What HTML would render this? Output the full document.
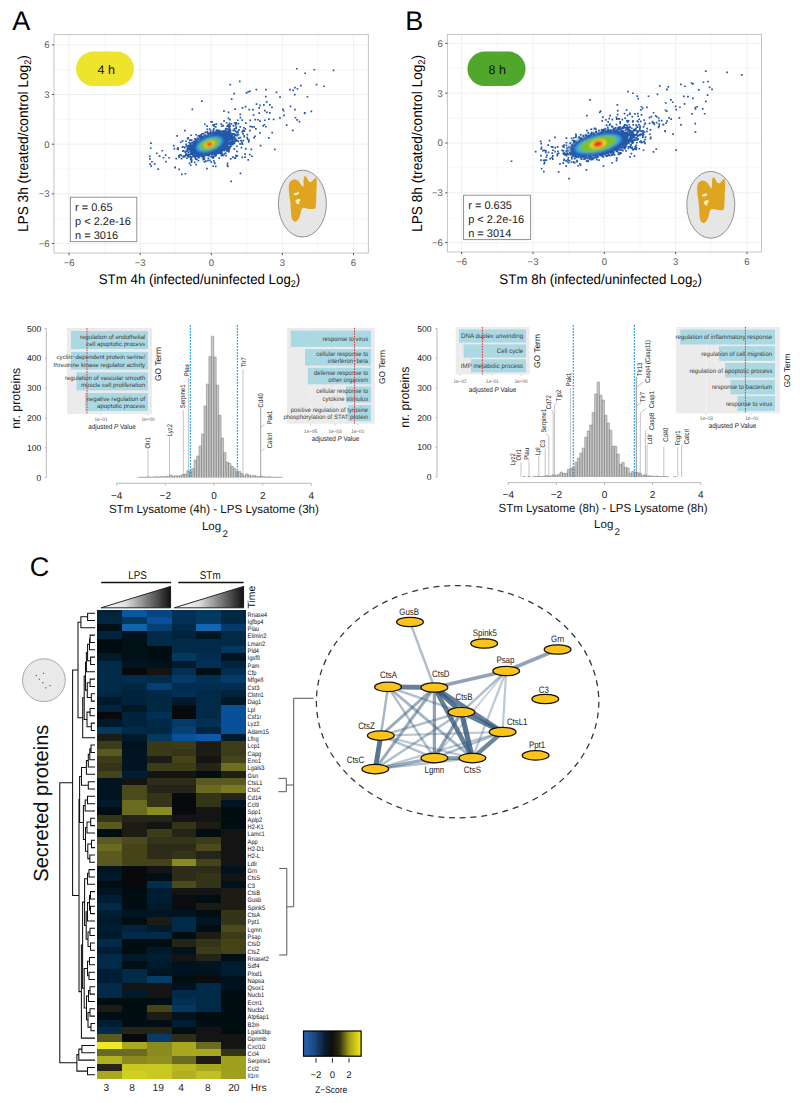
<!DOCTYPE html>
<html><head><meta charset="utf-8"><style>
html,body{margin:0;padding:0;background:#fff;}
svg{display:block;font-family:"Liberation Sans", sans-serif;text-rendering:geometricPrecision;}
</style></head><body>
<svg width="800" height="1103" viewBox="0 0 800 1103">
<rect width="800" height="1103" fill="#fff"/>
<text x="12.3" y="30" font-size="27">A</text>
<text x="405.2" y="30" font-size="27">B</text>
<text x="29.8" y="576" font-size="27">C</text>
<g>
<line x1="104.7" y1="34.6" x2="104.7" y2="253" stroke="#f4f4f4" stroke-width="0.7" />
<line x1="54" y1="218.7" x2="368.4" y2="218.7" stroke="#f4f4f4" stroke-width="0.7" />
<line x1="175.8" y1="34.6" x2="175.8" y2="253" stroke="#f4f4f4" stroke-width="0.7" />
<line x1="54" y1="169" x2="368.4" y2="169" stroke="#f4f4f4" stroke-width="0.7" />
<line x1="246.9" y1="34.6" x2="246.9" y2="253" stroke="#f4f4f4" stroke-width="0.7" />
<line x1="54" y1="119.4" x2="368.4" y2="119.4" stroke="#f4f4f4" stroke-width="0.7" />
<line x1="317.9" y1="34.6" x2="317.9" y2="253" stroke="#f4f4f4" stroke-width="0.7" />
<line x1="54" y1="69.7" x2="368.4" y2="69.7" stroke="#f4f4f4" stroke-width="0.7" />
<line x1="69.1" y1="34.6" x2="69.1" y2="253" stroke="#eeeeee" stroke-width="0.9" />
<line x1="54" y1="243.5" x2="368.4" y2="243.5" stroke="#eeeeee" stroke-width="0.9" />
<line x1="140.2" y1="34.6" x2="140.2" y2="253" stroke="#eeeeee" stroke-width="0.9" />
<line x1="54" y1="193.8" x2="368.4" y2="193.8" stroke="#eeeeee" stroke-width="0.9" />
<line x1="211.3" y1="34.6" x2="211.3" y2="253" stroke="#eeeeee" stroke-width="0.9" />
<line x1="54" y1="144.2" x2="368.4" y2="144.2" stroke="#eeeeee" stroke-width="0.9" />
<line x1="282.4" y1="34.6" x2="282.4" y2="253" stroke="#eeeeee" stroke-width="0.9" />
<line x1="54" y1="94.5" x2="368.4" y2="94.5" stroke="#eeeeee" stroke-width="0.9" />
<line x1="353.5" y1="34.6" x2="353.5" y2="253" stroke="#eeeeee" stroke-width="0.9" />
<line x1="54" y1="44.9" x2="368.4" y2="44.9" stroke="#eeeeee" stroke-width="0.9" />
<rect x="54" y="34.6" width="314.4" height="218.4" fill="none" stroke="#c4c4c4" stroke-width="1" />
<line x1="69.1" y1="253" x2="69.1" y2="255.2" stroke="#444" stroke-width="0.9" />
<line x1="51.8" y1="243.5" x2="54" y2="243.5" stroke="#444" stroke-width="0.9" />
<text x="69.1" y="265.6" font-size="9.5" text-anchor="middle" fill="#555">−6</text>
<text x="49.5" y="246.9" font-size="9.5" text-anchor="end" fill="#555">−6</text>
<line x1="140.2" y1="253" x2="140.2" y2="255.2" stroke="#444" stroke-width="0.9" />
<line x1="51.8" y1="193.8" x2="54" y2="193.8" stroke="#444" stroke-width="0.9" />
<text x="140.2" y="265.6" font-size="9.5" text-anchor="middle" fill="#555">−3</text>
<text x="49.5" y="197.2" font-size="9.5" text-anchor="end" fill="#555">−3</text>
<line x1="211.3" y1="253" x2="211.3" y2="255.2" stroke="#444" stroke-width="0.9" />
<line x1="51.8" y1="144.2" x2="54" y2="144.2" stroke="#444" stroke-width="0.9" />
<text x="211.3" y="265.6" font-size="9.5" text-anchor="middle" fill="#555">0</text>
<text x="49.5" y="147.6" font-size="9.5" text-anchor="end" fill="#555">0</text>
<line x1="282.4" y1="253" x2="282.4" y2="255.2" stroke="#444" stroke-width="0.9" />
<line x1="51.8" y1="94.5" x2="54" y2="94.5" stroke="#444" stroke-width="0.9" />
<text x="282.4" y="265.6" font-size="9.5" text-anchor="middle" fill="#555">3</text>
<text x="49.5" y="97.9" font-size="9.5" text-anchor="end" fill="#555">3</text>
<line x1="353.5" y1="253" x2="353.5" y2="255.2" stroke="#444" stroke-width="0.9" />
<line x1="51.8" y1="44.9" x2="54" y2="44.9" stroke="#444" stroke-width="0.9" />
<text x="353.5" y="265.6" font-size="9.5" text-anchor="middle" fill="#555">6</text>
<text x="49.5" y="48.3" font-size="9.5" text-anchor="end" fill="#555">6</text>
</g>
<g>
<line x1="497.3" y1="34.4" x2="497.3" y2="252" stroke="#f4f4f4" stroke-width="0.7" />
<line x1="447.4" y1="217.7" x2="761.5" y2="217.7" stroke="#f4f4f4" stroke-width="0.7" />
<line x1="568.6" y1="34.4" x2="568.6" y2="252" stroke="#f4f4f4" stroke-width="0.7" />
<line x1="447.4" y1="167.9" x2="761.5" y2="167.9" stroke="#f4f4f4" stroke-width="0.7" />
<line x1="640" y1="34.4" x2="640" y2="252" stroke="#f4f4f4" stroke-width="0.7" />
<line x1="447.4" y1="118.1" x2="761.5" y2="118.1" stroke="#f4f4f4" stroke-width="0.7" />
<line x1="711.3" y1="34.4" x2="711.3" y2="252" stroke="#f4f4f4" stroke-width="0.7" />
<line x1="447.4" y1="68.3" x2="761.5" y2="68.3" stroke="#f4f4f4" stroke-width="0.7" />
<line x1="461.6" y1="34.4" x2="461.6" y2="252" stroke="#eeeeee" stroke-width="0.9" />
<line x1="447.4" y1="242.6" x2="761.5" y2="242.6" stroke="#eeeeee" stroke-width="0.9" />
<line x1="533" y1="34.4" x2="533" y2="252" stroke="#eeeeee" stroke-width="0.9" />
<line x1="447.4" y1="192.8" x2="761.5" y2="192.8" stroke="#eeeeee" stroke-width="0.9" />
<line x1="604.3" y1="34.4" x2="604.3" y2="252" stroke="#eeeeee" stroke-width="0.9" />
<line x1="447.4" y1="143" x2="761.5" y2="143" stroke="#eeeeee" stroke-width="0.9" />
<line x1="675.6" y1="34.4" x2="675.6" y2="252" stroke="#eeeeee" stroke-width="0.9" />
<line x1="447.4" y1="93.2" x2="761.5" y2="93.2" stroke="#eeeeee" stroke-width="0.9" />
<line x1="747" y1="34.4" x2="747" y2="252" stroke="#eeeeee" stroke-width="0.9" />
<line x1="447.4" y1="43.4" x2="761.5" y2="43.4" stroke="#eeeeee" stroke-width="0.9" />
<rect x="447.4" y="34.4" width="314.1" height="217.6" fill="none" stroke="#c4c4c4" stroke-width="1" />
<line x1="461.6" y1="252" x2="461.6" y2="254.2" stroke="#444" stroke-width="0.9" />
<line x1="445.2" y1="242.6" x2="447.4" y2="242.6" stroke="#444" stroke-width="0.9" />
<text x="461.6" y="264.6" font-size="9.5" text-anchor="middle" fill="#555">−6</text>
<text x="442.9" y="246" font-size="9.5" text-anchor="end" fill="#555">−6</text>
<line x1="533" y1="252" x2="533" y2="254.2" stroke="#444" stroke-width="0.9" />
<line x1="445.2" y1="192.8" x2="447.4" y2="192.8" stroke="#444" stroke-width="0.9" />
<text x="533" y="264.6" font-size="9.5" text-anchor="middle" fill="#555">−3</text>
<text x="442.9" y="196.2" font-size="9.5" text-anchor="end" fill="#555">−3</text>
<line x1="604.3" y1="252" x2="604.3" y2="254.2" stroke="#444" stroke-width="0.9" />
<line x1="445.2" y1="143" x2="447.4" y2="143" stroke="#444" stroke-width="0.9" />
<text x="604.3" y="264.6" font-size="9.5" text-anchor="middle" fill="#555">0</text>
<text x="442.9" y="146.4" font-size="9.5" text-anchor="end" fill="#555">0</text>
<line x1="675.6" y1="252" x2="675.6" y2="254.2" stroke="#444" stroke-width="0.9" />
<line x1="445.2" y1="93.2" x2="447.4" y2="93.2" stroke="#444" stroke-width="0.9" />
<text x="675.6" y="264.6" font-size="9.5" text-anchor="middle" fill="#555">3</text>
<text x="442.9" y="96.6" font-size="9.5" text-anchor="end" fill="#555">3</text>
<line x1="747" y1="252" x2="747" y2="254.2" stroke="#444" stroke-width="0.9" />
<line x1="445.2" y1="43.4" x2="447.4" y2="43.4" stroke="#444" stroke-width="0.9" />
<text x="747" y="264.6" font-size="9.5" text-anchor="middle" fill="#555">6</text>
<text x="442.9" y="46.8" font-size="9.5" text-anchor="end" fill="#555">6</text>
</g>
<text x="199.5" y="284.3" font-size="14" text-anchor="middle" textLength="201.5" lengthAdjust="spacingAndGlyphs">STm 4h (infected/uninfected Log<tspan font-size="9.5" dy="3">2</tspan><tspan dy="-3">)</tspan></text>
<text x="600.6" y="283.5" font-size="14" text-anchor="middle" textLength="202.5" lengthAdjust="spacingAndGlyphs">STm 8h (infected/uninfected Log<tspan font-size="9.5" dy="3">2</tspan><tspan dy="-3">)</tspan></text>
<text x="27.8" y="143.6" font-size="14.4" text-anchor="middle" textLength="177" lengthAdjust="spacingAndGlyphs" transform="rotate(-90 27.8 143.6)">LPS 3h (treated/control Log<tspan font-size="9.8" dy="3">2</tspan><tspan dy="-3">)</tspan></text>
<text x="422.4" y="143.4" font-size="14.4" text-anchor="middle" textLength="177" lengthAdjust="spacingAndGlyphs" transform="rotate(-90 422.4 143.4)">LPS 8h (treated/control Log<tspan font-size="9.8" dy="3">2</tspan><tspan dy="-3">)</tspan></text>
<rect x="76" y="51.6" width="58" height="34.4" rx="17.2" fill="#ede42b"/>
<text x="106.2" y="74.4" font-size="12.5" text-anchor="middle" fill="#111">4 h</text>
<rect x="467.4" y="51.6" width="58.2" height="34.4" rx="17.2" fill="#50a72b"/>
<text x="497.2" y="74.4" font-size="12.5" text-anchor="middle" fill="#111">8 h</text>
<rect x="70.4" y="197.2" width="66.4" height="44.4" fill="#fff" stroke="#888" stroke-width="0.9" />
<text x="75" y="210.5" font-size="11" fill="#222">r = 0.65</text>
<text x="75" y="224.8" font-size="11" fill="#222">p &lt; 2.2e-16</text>
<text x="75" y="239.1" font-size="11" fill="#222">n = 3016</text>
<rect x="463.6" y="195.2" width="67" height="44.4" fill="#fff" stroke="#888" stroke-width="0.9" />
<text x="468.2" y="208.5" font-size="11" fill="#222">r = 0.635</text>
<text x="468.2" y="222.8" font-size="11" fill="#222">p &lt; 2.2e-16</text>
<text x="468.2" y="237.1" font-size="11" fill="#222">n = 3014</text>
<g><ellipse cx="302.4" cy="203.6" rx="24" ry="33.4" fill="#e6e6e6" stroke="#7a7a7a" stroke-width="0.8"/>
<path transform="translate(260 150) scale(0.15)" fill="#e0a520" d="M192 240 C194 215 205 200 225 196 C245 194 262 210 272 228 C278 238 286 246 291 244 C290 220 287 190 298 174 C308 170 315 192 322 205 C328 214 338 218 348 208 C356 198 366 186 374 184 C382 200 377 250 376 290 C374 330 376 370 368 390 C350 398 318 392 298 386 C282 384 276 392 272 415 C266 445 256 470 238 478 C220 480 210 460 208 430 C206 400 204 360 200 330 C195 300 190 270 192 240 Z"/>
<ellipse transform="translate(260 150) scale(0.15) rotate(-15 242 292)" cx="242" cy="292" rx="19" ry="8" fill="#fdf0c0"/>
<path transform="translate(260 150) scale(0.15)" fill="#fdf0c0" d="M238 335 C250 322 270 325 272 335 C262 338 258 348 262 362 C250 365 232 352 238 335 Z"/></g>
<g transform="translate(408.4 1.2)"><ellipse cx="302.4" cy="203.6" rx="24" ry="33.4" fill="#e6e6e6" stroke="#7a7a7a" stroke-width="0.8"/>
<path transform="translate(260 150) scale(0.15)" fill="#e0a520" d="M192 240 C194 215 205 200 225 196 C245 194 262 210 272 228 C278 238 286 246 291 244 C290 220 287 190 298 174 C308 170 315 192 322 205 C328 214 338 218 348 208 C356 198 366 186 374 184 C382 200 377 250 376 290 C374 330 376 370 368 390 C350 398 318 392 298 386 C282 384 276 392 272 415 C266 445 256 470 238 478 C220 480 210 460 208 430 C206 400 204 360 200 330 C195 300 190 270 192 240 Z"/>
<ellipse transform="translate(260 150) scale(0.15) rotate(-15 242 292)" cx="242" cy="292" rx="19" ry="8" fill="#fdf0c0"/>
<path transform="translate(260 150) scale(0.15)" fill="#fdf0c0" d="M238 335 C250 322 270 325 272 335 C262 338 258 348 262 362 C250 365 232 352 238 335 Z"/></g>
<defs><filter id="bl" x="-50%" y="-50%" width="200%" height="200%"><feGaussianBlur stdDeviation="0.9"/></filter><filter id="bl2" x="-50%" y="-50%" width="200%" height="200%"><feGaussianBlur stdDeviation="2.2"/></filter></defs>
<g filter="url(#bl2)"><ellipse cx="209.5" cy="144" rx="22" ry="9.5" fill="#2457a8" transform="rotate(-20 209.5 144)"/></g>
<path fill="#2457a8" d="M230.8 143.2h1.7v1.7h-1.7zm-45.8 7.2h1.7v1.7h-1.7zm5.3 1.7h1.7v1.7h-1.7zm15.8 15.7h1.7v1.7h-1.7zm37.4 -31.9h1.7v1.7h-1.7zm-36.6 -3.3h1.7v1.7h-1.7zm-3.1 19.1h1.7v1.7h-1.7zm16.2 -15.8h1.7v1.7h-1.7zm5.8 0.4h1.7v1.7h-1.7zm3.9 8.6h1.7v1.7h-1.7zm-36 9.9h1.7v1.7h-1.7zm25.5 -9.1h1.7v1.7h-1.7zm-3 1.4h1.7v1.7h-1.7zm0.9 5.3h1.7v1.7h-1.7zm-34.8 3.7h1.7v1.7h-1.7zm38.3 -18.3h1.7v1.7h-1.7zm-19.7 14.6h1.7v1.7h-1.7zm-7.1 -0.3h1.7v1.7h-1.7zm30.6 -11.5h1.7v1.7h-1.7zm-6.5 -11h1.7v1.7h-1.7zm13.6 11.3h1.7v1.7h-1.7zm-15.2 7.5h1.7v1.7h-1.7zm-9.9 -17.4h1.7v1.7h-1.7zm-3.7 21.3h1.7v1.7h-1.7zm-17.1 -6.9h1.7v1.7h-1.7zm31.7 -11h1.7v1.7h-1.7zm-23.2 6.6h1.7v1.7h-1.7zm6.8 -2.8h1.7v1.7h-1.7zm-10.7 12.1h1.7v1.7h-1.7zm31.8 -6.4h1.7v1.7h-1.7zm-33 -4.7h1.7v1.7h-1.7zm37.3 8.5h1.7v1.7h-1.7zm-27.7 4.3h1.7v1.7h-1.7zm25.8 -20.8h1.7v1.7h-1.7zm-31.1 22.7h1.7v1.7h-1.7zm33.9 -14.9h1.7v1.7h-1.7zm-2.5 -2.1h1.7v1.7h-1.7zm-6.7 14.9h1.7v1.7h-1.7zm3.8 -17.7h1.7v1.7h-1.7zm-17.7 0.3h1.7v1.7h-1.7zm20 5.2h1.7v1.7h-1.7zm-28.2 14.1h1.7v1.7h-1.7zm-9.1 -15.8h1.7v1.7h-1.7zm6.4 12.2h1.7v1.7h-1.7zm17.2 6h1.7v1.7h-1.7zm12.1 -18h1.7v1.7h-1.7zm-3.9 7.9h1.7v1.7h-1.7zm-23.2 0.3h1.7v1.7h-1.7zm17.3 3.1h1.7v1.7h-1.7zm23.1 -9.8h1.7v1.7h-1.7zm-10.4 -0.9h1.7v1.7h-1.7zm-0.1 6.4h1.7v1.7h-1.7zm-35.2 8h1.7v1.7h-1.7zm13.9 -29.7h1.7v1.7h-1.7zm16.5 24.8h1.7v1.7h-1.7zm-32.7 6.4h1.7v1.7h-1.7zm44.9 -29.5h1.7v1.7h-1.7zm-11.6 28.8h1.7v1.7h-1.7zm-4.3 -6.8h1.7v1.7h-1.7zm14 -8.8h1.7v1.7h-1.7zm-2.8 0.6h1.7v1.7h-1.7zm-3.9 2.5h1.7v1.7h-1.7zm1.3 5.7h1.7v1.7h-1.7zm-8.4 4.1h1.7v1.7h-1.7zm-9.6 0h1.7v1.7h-1.7zm-10.2 0.7h1.7v1.7h-1.7zm4 -19h1.7v1.7h-1.7zm33.8 5.3h1.7v1.7h-1.7zm-36.2 12.7h1.7v1.7h-1.7zm-13.6 -10.5h1.7v1.7h-1.7zm33.7 -5.3h1.7v1.7h-1.7zm-8.3 15.9h1.7v1.7h-1.7zm1 1.2h1.7v1.7h-1.7zm-16.3 -9.2h1.7v1.7h-1.7zm16.3 9.4h1.7v1.7h-1.7zm14.2 -16.2h1.7v1.7h-1.7zm1.5 -0.1h1.7v1.7h-1.7zm-37.7 19.7h1.7v1.7h-1.7zm16 -20.6h1.7v1.7h-1.7zm7.4 18.7h1.7v1.7h-1.7zm8.2 -9.1h1.7v1.7h-1.7zm-0.4 0.6h1.7v1.7h-1.7zm5.7 -10.1h1.7v1.7h-1.7zm-21.5 17.9h1.7v1.7h-1.7zm46.3 -27.1h1.7v1.7h-1.7zm-19.2 12.9h1.7v1.7h-1.7zm-14.3 6.6h1.7v1.7h-1.7zm-13.2 7h1.7v1.7h-1.7zm21.9 -12.7h1.7v1.7h-1.7zm-5.6 1.9h1.7v1.7h-1.7zm-20 -5.9h1.7v1.7h-1.7zm2.5 16.7h1.7v1.7h-1.7zm9.8 -19.3h1.7v1.7h-1.7zm7.5 0.7h1.7v1.7h-1.7zm-8.6 -1.1h1.7v1.7h-1.7zm14.6 3.7h1.7v1.7h-1.7zm-21.5 15.9h1.7v1.7h-1.7zm-10.8 2.8h1.7v1.7h-1.7zm-17.2 -8.4h1.7v1.7h-1.7zm39.7 0.3h1.7v1.7h-1.7zm14.9 -3.5h1.7v1.7h-1.7zm-29.5 15h1.7v1.7h-1.7zm6.8 -8.2h1.7v1.7h-1.7zm-19.9 -1.6h1.7v1.7h-1.7zm19.7 2.2h1.7v1.7h-1.7zm-10.4 3.5h1.7v1.7h-1.7zm23.1 -15.7h1.7v1.7h-1.7zm1.5 9.6h1.7v1.7h-1.7zm-32.1 -0.6h1.7v1.7h-1.7zm18.2 2.4h1.7v1.7h-1.7zm-16.3 1.4h1.7v1.7h-1.7zm18.6 -16.9h1.7v1.7h-1.7zm6.3 13.1h1.7v1.7h-1.7zm10 -13.6h1.7v1.7h-1.7zm5.5 7.2h1.7v1.7h-1.7zm-0.1 -8.4h1.7v1.7h-1.7zm-28 2.5h1.7v1.7h-1.7zm12.7 0.5h1.7v1.7h-1.7zm-5.9 14.9h1.7v1.7h-1.7zm16 -16.2h1.7v1.7h-1.7zm-17.2 -0.3h1.7v1.7h-1.7zm-7.6 16.7h1.7v1.7h-1.7zm17.1 -0.4h1.7v1.7h-1.7zm-2.4 -17.4h1.7v1.7h-1.7zm4.6 7.6h1.7v1.7h-1.7zm-11.8 10.2h1.7v1.7h-1.7zm12.5 -7.8h1.7v1.7h-1.7zm-10.4 -9.5h1.7v1.7h-1.7zm4.8 15.1h1.7v1.7h-1.7zm11.8 -7.6h1.7v1.7h-1.7zm-6.8 4.8h1.7v1.7h-1.7zm-30.4 4h1.7v1.7h-1.7zm30.1 -2.5h1.7v1.7h-1.7zm-19.9 -10.7h1.7v1.7h-1.7zm22.9 -5h1.7v1.7h-1.7zm-9.5 19.5h1.7v1.7h-1.7zm-20.6 -9.5h1.7v1.7h-1.7zm9.6 -4.8h1.7v1.7h-1.7zm23.8 10.9h1.7v1.7h-1.7zm-27 3.9h1.7v1.7h-1.7zm27.2 -10.3h1.7v1.7h-1.7zm-8.4 5h1.7v1.7h-1.7zm-32.3 1.5h1.7v1.7h-1.7zm24.2 1.7h1.7v1.7h-1.7zm-33.9 6.4h1.7v1.7h-1.7zm19.1 -21.2h1.7v1.7h-1.7zm21.5 9.5h1.7v1.7h-1.7zm-13.3 -7.4h1.7v1.7h-1.7zm22.4 -12.5h1.7v1.7h-1.7zm-2.4 19.1h1.7v1.7h-1.7zm-28.2 8.4h1.7v1.7h-1.7zm9.7 -15.4h1.7v1.7h-1.7zm-9.6 15.2h1.7v1.7h-1.7zm-2.8 -5.6h1.7v1.7h-1.7zm6.5 -10h1.7v1.7h-1.7zm-11.8 6.2h1.7v1.7h-1.7zm11.4 12.6h1.7v1.7h-1.7zm38.6 -18.5h1.7v1.7h-1.7zm-42 1.4h1.7v1.7h-1.7zm23.9 -3.5h1.7v1.7h-1.7zm-18.7 20.2h1.7v1.7h-1.7zm-22.7 -13.4h1.7v1.7h-1.7zm45.2 5.9h1.7v1.7h-1.7zm-26.5 5.4h1.7v1.7h-1.7zm27.2 -18.7h1.7v1.7h-1.7zm-1 6.3h1.7v1.7h-1.7zm-6.1 4.5h1.7v1.7h-1.7zm-23.6 -4.6h1.7v1.7h-1.7zm21 7.8h1.7v1.7h-1.7zm17.5 -12.6h1.7v1.7h-1.7zm-32.4 3.9h1.7v1.7h-1.7zm12 -6.7h1.7v1.7h-1.7zm8.8 9.4h1.7v1.7h-1.7zm-24.1 0.2h1.7v1.7h-1.7zm-13 8.2h1.7v1.7h-1.7zm40.7 -7.4h1.7v1.7h-1.7zm-28.5 7.6h1.7v1.7h-1.7zm1.1 1h1.7v1.7h-1.7zm-10.3 -4.6h1.7v1.7h-1.7zm25 -12.7h1.7v1.7h-1.7zm5 13h1.7v1.7h-1.7zm9.8 0.2h1.7v1.7h-1.7zm-22 5.8h1.7v1.7h-1.7zm13.2 -7.4h1.7v1.7h-1.7zm-11.2 5.6h1.7v1.7h-1.7zm13.4 -13.9h1.7v1.7h-1.7zm-5 -4.8h1.7v1.7h-1.7zm7.7 12.6h1.7v1.7h-1.7zm-5.3 -11.9h1.7v1.7h-1.7zm-44.3 32.9h1.7v1.7h-1.7zm31.5 -29.4h1.7v1.7h-1.7zm18.2 -0.1h1.7v1.7h-1.7zm-18.5 17h1.7v1.7h-1.7zm-8.3 1.7h1.7v1.7h-1.7zm27.6 -17.5h1.7v1.7h-1.7zm-9.8 12.9h1.7v1.7h-1.7zm22.5 -28.3h1.7v1.7h-1.7zm-12.8 25.8h1.7v1.7h-1.7zm-2.7 -11.7h1.7v1.7h-1.7zm-1.3 17.9h1.7v1.7h-1.7zm-18 -2.1h1.7v1.7h-1.7zm22.7 -19.3h1.7v1.7h-1.7zm5.2 3.2h1.7v1.7h-1.7zm-40.5 16.7h1.7v1.7h-1.7zm30.1 -4.7h1.7v1.7h-1.7zm-4 -14h1.7v1.7h-1.7zm7 -3.2h1.7v1.7h-1.7zm6.9 1.9h1.7v1.7h-1.7zm-44.8 10.3h1.7v1.7h-1.7zm30 9.9h1.7v1.7h-1.7zm-15.5 -13.4h1.7v1.7h-1.7zm-7 10.3h1.7v1.7h-1.7zm-12.2 4.2h1.7v1.7h-1.7zm17.2 -0.3h1.7v1.7h-1.7zm23.1 -20.6h1.7v1.7h-1.7zm-15.7 20.7h1.7v1.7h-1.7zm27.4 -29.6h1.7v1.7h-1.7zm-12.3 23.5h1.7v1.7h-1.7zm3 -10.3h1.7v1.7h-1.7zm-14.4 -9.7h1.7v1.7h-1.7zm-5.4 10.6h1.7v1.7h-1.7zm24.2 10.1h1.7v1.7h-1.7zm8.5 -14h1.7v1.7h-1.7zm-27.6 15.3h1.7v1.7h-1.7zm-20.9 5.8h1.7v1.7h-1.7zm2.5 1.1h1.7v1.7h-1.7zm28.1 -24h1.7v1.7h-1.7zm-23.4 13.7h1.7v1.7h-1.7zm18.2 -11h1.7v1.7h-1.7zm-15.1 14.8h1.7v1.7h-1.7zm23 -7h1.7v1.7h-1.7zm-24.4 -6.1h1.7v1.7h-1.7zm-9.1 13.9h1.7v1.7h-1.7zm21.9 0.2h1.7v1.7h-1.7zm18.7 -19h1.7v1.7h-1.7zm-4 15.7h1.7v1.7h-1.7zm-0.8 -12.3h1.7v1.7h-1.7zm-2.1 11.2h1.7v1.7h-1.7zm2.4 -1.9h1.7v1.7h-1.7zm0.2 -3.6h1.7v1.7h-1.7zm-36.5 -4.3h1.7v1.7h-1.7zm31.7 9.4h1.7v1.7h-1.7zm7.6 -1.9h1.7v1.7h-1.7zm-14.4 -20.7h1.7v1.7h-1.7zm15 4.5h1.7v1.7h-1.7zm-19.4 25.7h1.7v1.7h-1.7zm-1.7 -4h1.7v1.7h-1.7zm7.4 -26.7h1.7v1.7h-1.7zm-3.1 26.6h1.7v1.7h-1.7zm36.4 -12.1h1.7v1.7h-1.7zm-48.1 14.5h1.7v1.7h-1.7zm-4.6 -9.2h1.7v1.7h-1.7zm30.7 -13.5h1.7v1.7h-1.7zm-6 1.6h1.7v1.7h-1.7zm-20.5 10.4h1.7v1.7h-1.7zm23.4 -3.3h1.7v1.7h-1.7zm20.8 1h1.7v1.7h-1.7zm-29.4 11.1h1.7v1.7h-1.7zm5.2 -5.2h1.7v1.7h-1.7zm-22.6 7.3h1.7v1.7h-1.7zm30.8 -15.3h1.7v1.7h-1.7zm-3.5 5.6h1.7v1.7h-1.7zm-13.9 7.4h1.7v1.7h-1.7zm-31.1 4.4h1.7v1.7h-1.7zm45.4 -1.7h1.7v1.7h-1.7zm-1.4 -17.5h1.7v1.7h-1.7zm5.6 -10.3h1.7v1.7h-1.7zm-39.3 16.3h1.7v1.7h-1.7zm-11 6.7h1.7v1.7h-1.7zm43.7 -7.4h1.7v1.7h-1.7zm-8.4 7.6h1.7v1.7h-1.7zm12.8 -2.3h1.7v1.7h-1.7zm-10.3 1.5h1.7v1.7h-1.7zm-0.7 -13.5h1.7v1.7h-1.7zm-8.2 16.1h1.7v1.7h-1.7zm17.2 -5.6h1.7v1.7h-1.7zm35.7 -24.6h1.7v1.7h-1.7zm-70.3 27.9h1.7v1.7h-1.7zm17.4 -12.7h1.7v1.7h-1.7zm8 -3.4h1.7v1.7h-1.7zm6.7 5h1.7v1.7h-1.7zm0.3 0.9h1.7v1.7h-1.7zm1.9 -8.1h1.7v1.7h-1.7zm-23.5 22.4h1.7v1.7h-1.7zm21.7 -11.5h1.7v1.7h-1.7zm-13.1 12.6h1.7v1.7h-1.7zm9.9 -5.9h1.7v1.7h-1.7zm4.6 -12.9h1.7v1.7h-1.7zm-14.9 2.3h1.7v1.7h-1.7zm14.2 12.3h1.7v1.7h-1.7zm-8.7 -13.4h1.7v1.7h-1.7zm-28 17.4h1.7v1.7h-1.7zm32 -7.4h1.7v1.7h-1.7zm-24.4 -2h1.7v1.7h-1.7zm29.4 0.9h1.7v1.7h-1.7zm4.6 -6.3h1.7v1.7h-1.7zm-11.6 -5.5h1.7v1.7h-1.7zm19.2 0.9h1.7v1.7h-1.7zm-11.8 6.4h1.7v1.7h-1.7zm-35.8 6.7h1.7v1.7h-1.7zm17.2 6.2h1.7v1.7h-1.7zm15 -19.2h1.7v1.7h-1.7zm5.3 3h1.7v1.7h-1.7zm-0.3 10.7h1.7v1.7h-1.7zm-23.7 5.1h1.7v1.7h-1.7zm25.2 -16.8h1.7v1.7h-1.7zm-30.6 6.7h1.7v1.7h-1.7zm34.6 -11.3h1.7v1.7h-1.7zm-31.4 20.6h1.7v1.7h-1.7zm22.9 -16.6h1.7v1.7h-1.7zm-10.3 15.7h1.7v1.7h-1.7zm-4.7 3.4h1.7v1.7h-1.7zm-22.1 -24.6h1.7v1.7h-1.7zm19.5 28.8h1.7v1.7h-1.7zm23.5 -9.4h1.7v1.7h-1.7zm-6.5 -14.4h1.7v1.7h-1.7zm2.2 2.5h1.7v1.7h-1.7zm-26.7 10h1.7v1.7h-1.7zm-6.3 0.2h1.7v1.7h-1.7zm28.4 -1.6h1.7v1.7h-1.7zm8.5 -8.8h1.7v1.7h-1.7zm2.1 6.2h1.7v1.7h-1.7zm-34.5 -5.3h1.7v1.7h-1.7zm25.6 -6.4h1.7v1.7h-1.7zm-17.2 25.5h1.7v1.7h-1.7zm56.5 -25.1h1.7v1.7h-1.7zm-25.4 10.6h1.7v1.7h-1.7zm-26.5 -6h1.7v1.7h-1.7zm28.5 -4.7h1.7v1.7h-1.7zm-8.1 -0.8h1.7v1.7h-1.7zm-31.4 15.5h1.7v1.7h-1.7zm23.1 -15.6h1.7v1.7h-1.7zm-9.7 5.3h1.7v1.7h-1.7zm-13.2 14.3h1.7v1.7h-1.7zm29.1 -13.7h1.7v1.7h-1.7zm-12.5 14.8h1.7v1.7h-1.7zm15 -14.9h1.7v1.7h-1.7zm-10.3 -6.8h1.7v1.7h-1.7zm-28.8 14.9h1.7v1.7h-1.7zm20.9 5.4h1.7v1.7h-1.7zm14.1 -13.1h1.7v1.7h-1.7zm-31.7 11.3h1.7v1.7h-1.7zm1.7 13.1h1.7v1.7h-1.7zm-0.6 -7.6h1.7v1.7h-1.7zm34.8 -24.7h1.7v1.7h-1.7zm-46.5 17h1.7v1.7h-1.7zm49.7 -5.6h1.7v1.7h-1.7zm-7.3 2.7h1.7v1.7h-1.7zm-11 16.5h1.7v1.7h-1.7zm-22.4 1.4h1.7v1.7h-1.7zm5.8 -8.9h1.7v1.7h-1.7zm7.2 5.2h1.7v1.7h-1.7zm6.6 -21.3h1.7v1.7h-1.7zm9.4 7.4h1.7v1.7h-1.7zm-5.1 4.4h1.7v1.7h-1.7zm-5 4.8h1.7v1.7h-1.7zm15.8 -20h1.7v1.7h-1.7zm-15.4 3.4h1.7v1.7h-1.7zm-15.2 13.4h1.7v1.7h-1.7zm10.7 -12h1.7v1.7h-1.7zm-9.8 10.4h1.7v1.7h-1.7zm4.7 -10.3h1.7v1.7h-1.7zm11.5 14.2h1.7v1.7h-1.7zm14.4 -7.4h1.7v1.7h-1.7zm-12.9 -10.7h1.7v1.7h-1.7zm3.7 15.4h1.7v1.7h-1.7zm-14.9 -10.5h1.7v1.7h-1.7zm-9.6 12.3h1.7v1.7h-1.7zm34.2 -6.3h1.7v1.7h-1.7zm0.2 -7.2h1.7v1.7h-1.7zm3.4 5.4h1.7v1.7h-1.7zm-39.4 17h1.7v1.7h-1.7zm15.3 -34.8h1.7v1.7h-1.7zm-12.8 15.7h1.7v1.7h-1.7zm18.3 -9h1.7v1.7h-1.7zm12 18h1.7v1.7h-1.7zm-37.6 7.5h1.7v1.7h-1.7zm-7.8 11.1h1.7v1.7h-1.7zm44.9 -22.5h1.7v1.7h-1.7zm-1.9 -9.6h1.7v1.7h-1.7zm-26.2 7.9h1.7v1.7h-1.7zm-19.7 13.4h1.7v1.7h-1.7zm-21.6 5.4h1.7v1.7h-1.7zm48.8 -25.3h1.7v1.7h-1.7zm-8.4 7.3h1.7v1.7h-1.7zm12.6 7.5h1.7v1.7h-1.7zm25.7 -9.9h1.7v1.7h-1.7zm-19.4 -14.9h1.7v1.7h-1.7zm11.8 11.1h1.7v1.7h-1.7zm3.4 7h1.7v1.7h-1.7zm-27.1 8.1h1.7v1.7h-1.7zm-1.3 -17.3h1.7v1.7h-1.7zm21.2 15.4h1.7v1.7h-1.7zm7.6 -18.7h1.7v1.7h-1.7zm-1.9 1.9h1.7v1.7h-1.7zm5.2 -2.2h1.7v1.7h-1.7zm-37.2 18h1.7v1.7h-1.7zm30.5 -14.3h1.7v1.7h-1.7zm-27.3 18.2h1.7v1.7h-1.7zm-3.7 -5.2h1.7v1.7h-1.7zm13 0.5h1.7v1.7h-1.7zm-7.5 -9.8h1.7v1.7h-1.7zm25.4 -0.2h1.7v1.7h-1.7zm-8.1 6.6h1.7v1.7h-1.7zm-23.2 -5.8h1.7v1.7h-1.7zm-12 4.9h1.7v1.7h-1.7zm9.4 2.8h1.7v1.7h-1.7zm33.3 -10.1h1.7v1.7h-1.7zm0.7 -3.6h1.7v1.7h-1.7zm-14.5 16.5h1.7v1.7h-1.7zm-12.7 -1.8h1.7v1.7h-1.7zm-2 -8.7h1.7v1.7h-1.7zm16.9 11.3h1.7v1.7h-1.7zm11.4 -4.9h1.7v1.7h-1.7zm-27.1 3.8h1.7v1.7h-1.7zm-8.8 -5.2h1.7v1.7h-1.7zm33.7 -10.5h1.7v1.7h-1.7zm-3 -3h1.7v1.7h-1.7zm-22.3 11.5h1.7v1.7h-1.7zm20.4 -8.2h1.7v1.7h-1.7zm-20.6 7.2h1.7v1.7h-1.7zm8 -6.7h1.7v1.7h-1.7zm18.3 4.3h1.7v1.7h-1.7zm-22.7 -1.6h1.7v1.7h-1.7zm24.7 0h1.7v1.7h-1.7zm-32.6 12.7h1.7v1.7h-1.7zm9.6 -1h1.7v1.7h-1.7zm14.8 -21h1.7v1.7h-1.7zm5.4 12.3h1.7v1.7h-1.7zm3.1 1h1.7v1.7h-1.7zm3.8 -1.5h1.7v1.7h-1.7zm-2.2 -10h1.7v1.7h-1.7zm-1 4.7h1.7v1.7h-1.7zm-5.9 0.7h1.7v1.7h-1.7zm-21.8 12.7h1.7v1.7h-1.7zm-2.4 -4.5h1.7v1.7h-1.7zm-0.5 18.5h1.7v1.7h-1.7zm19.9 -15.5h1.7v1.7h-1.7zm-15.1 2.4h1.7v1.7h-1.7zm26.7 -6.5h1.7v1.7h-1.7zm-27.2 -3.2h1.7v1.7h-1.7zm31.7 1.2h1.7v1.7h-1.7zm-35.4 5.3h1.7v1.7h-1.7zm-15.2 10.4h1.7v1.7h-1.7zm47.7 -27.8h1.7v1.7h-1.7zm-14.2 23.9h1.7v1.7h-1.7zm-2 -3.3h1.7v1.7h-1.7zm11.9 -13.7h1.7v1.7h-1.7zm4 12.3h1.7v1.7h-1.7zm-33.4 -9.6h1.7v1.7h-1.7zm42.1 -7.9h1.7v1.7h-1.7zm-1.5 -4.4h1.7v1.7h-1.7zm-16.9 18.3h1.7v1.7h-1.7zm-0.4 4.2h1.7v1.7h-1.7zm-10.1 -13.3h1.7v1.7h-1.7zm1.8 13.7h1.7v1.7h-1.7zm17.1 -1h1.7v1.7h-1.7zm-22.4 3.2h1.7v1.7h-1.7zm-0.6 -15.5h1.7v1.7h-1.7zm20.3 -2.6h1.7v1.7h-1.7zm20.9 -12h1.7v1.7h-1.7zm-41.3 28.4h1.7v1.7h-1.7zm25.1 -15.4h1.7v1.7h-1.7zm-8.4 1.7h1.7v1.7h-1.7zm-24.4 21.5h1.7v1.7h-1.7zm27.6 -20.1h1.7v1.7h-1.7zm-8.8 -3.6h1.7v1.7h-1.7zm0.5 -2.1h1.7v1.7h-1.7zm-0.5 2.6h1.7v1.7h-1.7zm16.6 7.1h1.7v1.7h-1.7zm-22.3 8.8h1.7v1.7h-1.7zm11.7 -7.3h1.7v1.7h-1.7zm-1 -9.7h1.7v1.7h-1.7zm-23.6 19.2h1.7v1.7h-1.7zm19.8 -17.7h1.7v1.7h-1.7zm-25.2 8.9h1.7v1.7h-1.7zm51.4 -11.5h1.7v1.7h-1.7zm-46.9 0.8h1.7v1.7h-1.7zm-13.2 16.4h1.7v1.7h-1.7zm36.5 -4h1.7v1.7h-1.7zm-18.1 7.7h1.7v1.7h-1.7zm-13 -0.4h1.7v1.7h-1.7zm35.6 -11.5h1.7v1.7h-1.7zm-28.7 8.2h1.7v1.7h-1.7zm15.4 -14.5h1.7v1.7h-1.7zm3.5 15.1h1.7v1.7h-1.7zm10 -7h1.7v1.7h-1.7zm-12.3 8.6h1.7v1.7h-1.7zm-4.9 0.1h1.7v1.7h-1.7zm8.6 -2.3h1.7v1.7h-1.7zm-15.7 1.6h1.7v1.7h-1.7zm-11.8 -15h1.7v1.7h-1.7zm34.9 -4.8h1.7v1.7h-1.7zm-5 16.1h1.7v1.7h-1.7zm-17.5 6h1.7v1.7h-1.7zm23.4 -13.2h1.7v1.7h-1.7zm-26.5 9.8h1.7v1.7h-1.7zm-7.8 -6.3h1.7v1.7h-1.7zm22.4 5.4h1.7v1.7h-1.7zm13 -6.4h1.7v1.7h-1.7zm-2.2 -2.5h1.7v1.7h-1.7zm-12.6 9.4h1.7v1.7h-1.7zm-9.8 -9.4h1.7v1.7h-1.7zm-5.5 4h1.7v1.7h-1.7zm-0.3 -0.7h1.7v1.7h-1.7zm30.1 -0.2h1.7v1.7h-1.7zm-1.4 -13.7h1.7v1.7h-1.7zm-27.3 15.7h1.7v1.7h-1.7zm26 -1.7h1.7v1.7h-1.7zm2.7 -4.8h1.7v1.7h-1.7zm-4.3 4.4h1.7v1.7h-1.7zm-18.8 10h1.7v1.7h-1.7zm-5.4 -7.2h1.7v1.7h-1.7zm26.7 -4.5h1.7v1.7h-1.7zm3 -5.7h1.7v1.7h-1.7zm-3.5 1.9h1.7v1.7h-1.7zm-25.9 12h1.7v1.7h-1.7zm14.7 -29.5h1.7v1.7h-1.7zm-21.2 32.6h1.7v1.7h-1.7zm33.3 -14.4h1.7v1.7h-1.7zm-1.3 -8.2h1.7v1.7h-1.7zm-0.4 4.3h1.7v1.7h-1.7zm-13.8 15.9h1.7v1.7h-1.7zm16 -11.8h1.7v1.7h-1.7zm-17 -3.3h1.7v1.7h-1.7zm-8.4 20.6h1.7v1.7h-1.7zm20.1 -9h1.7v1.7h-1.7zm-2.8 5.4h1.7v1.7h-1.7zm6.3 -19.6h1.7v1.7h-1.7zm-8.9 22.4h1.7v1.7h-1.7zm12.7 -27.8h1.7v1.7h-1.7zm-29.7 17.3h1.7v1.7h-1.7zm2.3 10.3h1.7v1.7h-1.7zm26.3 -8.2h1.7v1.7h-1.7zm-33.9 11.3h1.7v1.7h-1.7zm-4.7 -6.1h1.7v1.7h-1.7zm27.1 12.7h1.7v1.7h-1.7zm7.8 -28.5h1.7v1.7h-1.7zm10 3.9h1.7v1.7h-1.7zm-27.4 10.4h1.7v1.7h-1.7zm33 -11.5h1.7v1.7h-1.7zm-18.6 -4.4h1.7v1.7h-1.7zm3.3 18.5h1.7v1.7h-1.7zm2.4 -7.1h1.7v1.7h-1.7zm-2.6 -8.9h1.7v1.7h-1.7zm-0.5 -7.3h1.7v1.7h-1.7zm-24.1 20.7h1.7v1.7h-1.7zm0.4 -2.9h1.7v1.7h-1.7zm28.3 -4.9h1.7v1.7h-1.7zm-24.6 -3.3h1.7v1.7h-1.7zm-10.7 7.1h1.7v1.7h-1.7zm35.7 -7.8h1.7v1.7h-1.7zm0.3 2h1.7v1.7h-1.7zm-8.7 8.6h1.7v1.7h-1.7zm13.4 -18.8h1.7v1.7h-1.7zm-34.3 19.4h1.7v1.7h-1.7zm26.4 -10.2h1.7v1.7h-1.7zm-22.3 -0.9h1.7v1.7h-1.7zm-2.3 11.6h1.7v1.7h-1.7zm6.3 3.9h1.7v1.7h-1.7zm22.3 -15.1h1.7v1.7h-1.7zm-11 9.8h1.7v1.7h-1.7zm6 -24.3h1.7v1.7h-1.7zm1.6 10.1h1.7v1.7h-1.7zm-6.6 -2.4h1.7v1.7h-1.7zm15.1 2.9h1.7v1.7h-1.7zm-28.1 20.5h1.7v1.7h-1.7zm-4.4 -14.2h1.7v1.7h-1.7zm22.2 6.5h1.7v1.7h-1.7zm-10.8 -16.1h1.7v1.7h-1.7zm6.3 -0.8h1.7v1.7h-1.7zm2.7 2.2h1.7v1.7h-1.7zm-8.4 1.2h1.7v1.7h-1.7zm-5 16.4h1.7v1.7h-1.7zm9.7 0.3h1.7v1.7h-1.7zm-19.8 -9.3h1.7v1.7h-1.7zm4.2 9.7h1.7v1.7h-1.7zm20.4 -8.7h1.7v1.7h-1.7zm-3.6 -8.8h1.7v1.7h-1.7zm12.3 -0.3h1.7v1.7h-1.7zm-5 3.8h1.7v1.7h-1.7zm18.9 -8.9h1.7v1.7h-1.7zm-19.9 6.4h1.7v1.7h-1.7zm-0.8 0.5h1.7v1.7h-1.7zm-0.8 -0.8h1.7v1.7h-1.7zm-6.3 -1.3h1.7v1.7h-1.7zm-7.4 2.7h1.7v1.7h-1.7zm10.3 11.9h1.7v1.7h-1.7zm-23.5 -2.6h1.7v1.7h-1.7zm29.3 -5h1.7v1.7h-1.7zm-14.9 13.6h1.7v1.7h-1.7zm12 -9h1.7v1.7h-1.7zm-18.5 5.1h1.7v1.7h-1.7zm18.9 -13.3h1.7v1.7h-1.7zm-25.6 15h1.7v1.7h-1.7zm27.1 -16h1.7v1.7h-1.7zm-32.8 7.4h1.7v1.7h-1.7zm1.3 -2.2h1.7v1.7h-1.7zm9.6 11.1h1.7v1.7h-1.7zm11.4 -17.2h1.7v1.7h-1.7zm-15.7 12.6h1.7v1.7h-1.7zm37.5 -20.4h1.7v1.7h-1.7zm-16.1 24.6h1.7v1.7h-1.7zm16.6 -13.4h1.7v1.7h-1.7zm-12.4 -0.8h1.7v1.7h-1.7zm-14.3 19.1h1.7v1.7h-1.7zm19.4 -19.4h1.7v1.7h-1.7zm-6.6 -2.4h1.7v1.7h-1.7zm-29.1 9.9h1.7v1.7h-1.7zm10.4 -9.7h1.7v1.7h-1.7zm9.4 13.7h1.7v1.7h-1.7zm-13.7 0.4h1.7v1.7h-1.7zm-5.1 4.3h1.7v1.7h-1.7zm31.3 -11h1.7v1.7h-1.7zm-21.9 12.3h1.7v1.7h-1.7zm23.2 -18.4h1.7v1.7h-1.7zm-3.4 -1h1.7v1.7h-1.7zm-20.2 15.5h1.7v1.7h-1.7zm8.8 -0.3h1.7v1.7h-1.7zm-8.7 1.4h1.7v1.7h-1.7zm11 -23.3h1.7v1.7h-1.7zm16.9 12h1.7v1.7h-1.7zm-3.3 -5.1h1.7v1.7h-1.7zm-32.1 13h1.7v1.7h-1.7zm2.8 -1h1.7v1.7h-1.7zm21.3 -1.1h1.7v1.7h-1.7zm3.6 -4.3h1.7v1.7h-1.7zm1.5 -3.6h1.7v1.7h-1.7zm-27.6 8.6h1.7v1.7h-1.7zm13.9 2.2h1.7v1.7h-1.7zm20.7 -15.1h1.7v1.7h-1.7zm-10.7 -3h1.7v1.7h-1.7zm14.6 4.7h1.7v1.7h-1.7zm-18.2 10.1h1.7v1.7h-1.7zm5.4 -12.3h1.7v1.7h-1.7zm-9.2 1.3h1.7v1.7h-1.7zm13.4 8.7h1.7v1.7h-1.7zm-0.3 -7.6h1.7v1.7h-1.7zm34.7 7.7h1.7v1.7h-1.7zm-50 7.3h1.7v1.7h-1.7zm15.9 -17.1h1.7v1.7h-1.7zm-16.2 16.4h1.7v1.7h-1.7zm9 -17.9h1.7v1.7h-1.7zm-0.5 14.7h1.7v1.7h-1.7zm-1.1 -1.1h1.7v1.7h-1.7zm-10.4 5.4h1.7v1.7h-1.7zm-8.6 -9.4h1.7v1.7h-1.7zm23.2 -8.2h1.7v1.7h-1.7zm-10.8 16.2h1.7v1.7h-1.7zm1.8 -15.3h1.7v1.7h-1.7zm-4.8 16.5h1.7v1.7h-1.7zm-17.8 -5.6h1.7v1.7h-1.7zm25.5 18.9h1.7v1.7h-1.7zm14 -37.9h1.7v1.7h-1.7zm-44.4 45.3h1.7v1.7h-1.7zm41.7 -32.9h1.7v1.7h-1.7zm-19.1 19.8h1.7v1.7h-1.7zm-4.5 -27h1.7v1.7h-1.7zm12.5 21.9h1.7v1.7h-1.7zm-7.7 -4.5h1.7v1.7h-1.7zm-2.8 2.1h1.7v1.7h-1.7zm-3.8 -16.1h1.7v1.7h-1.7zm22.2 -4.3h1.7v1.7h-1.7zm-13 17.8h1.7v1.7h-1.7zm14.3 -6h1.7v1.7h-1.7zm-7.8 4.5h1.7v1.7h-1.7zm-24.7 0.6h1.7v1.7h-1.7zm22.5 -15.3h1.7v1.7h-1.7zm6.6 8.5h1.7v1.7h-1.7zm13.9 -1.7h1.7v1.7h-1.7zm-22.2 -4.8h1.7v1.7h-1.7zm12.2 -6.2h1.7v1.7h-1.7zm-38.3 18.9h1.7v1.7h-1.7zm50.3 -8.3h1.7v1.7h-1.7zm-37.3 0.6h1.7v1.7h-1.7zm16.1 7h1.7v1.7h-1.7zm-16.7 5.2h1.7v1.7h-1.7zm-3.6 -8.6h1.7v1.7h-1.7zm-0.8 7.7h1.7v1.7h-1.7zm17 -16.2h1.7v1.7h-1.7zm1.8 13.7h1.7v1.7h-1.7zm6.1 -12.9h1.7v1.7h-1.7zm-21.8 23.5h1.7v1.7h-1.7zm29 -18.7h1.7v1.7h-1.7zm-11.9 12.4h1.7v1.7h-1.7zm3.6 3.7h1.7v1.7h-1.7zm-9.6 -6.4h1.7v1.7h-1.7zm15.5 -19.5h1.7v1.7h-1.7zm-28.9 9h1.7v1.7h-1.7zm30 -12.7h1.7v1.7h-1.7zm1.5 18.5h1.7v1.7h-1.7zm-29.2 -4.3h1.7v1.7h-1.7zm-5.2 -0.3h1.7v1.7h-1.7zm-18.2 25.2h1.7v1.7h-1.7zm33.7 -14.5h1.7v1.7h-1.7zm6.8 -4.1h1.7v1.7h-1.7zm10 4h1.7v1.7h-1.7zm-4.5 -3.3h1.7v1.7h-1.7zm0.6 -10.3h1.7v1.7h-1.7zm-39.8 34.9h1.7v1.7h-1.7zm7.7 -10.9h1.7v1.7h-1.7zm25.1 -10.3h1.7v1.7h-1.7zm8.1 -9.1h1.7v1.7h-1.7zm-6.5 -7.2h1.7v1.7h-1.7zm6.8 1.8h1.7v1.7h-1.7zm-30.6 9.2h1.7v1.7h-1.7zm1.7 -2.7h1.7v1.7h-1.7zm48.3 -13.8h1.7v1.7h-1.7zm-41.4 21.7h1.7v1.7h-1.7zm26.1 -16.4h1.7v1.7h-1.7zm-33.7 7.5h1.7v1.7h-1.7zm45.6 -14.2h1.7v1.7h-1.7zm-8.1 16.4h1.7v1.7h-1.7zm-19 8.6h1.7v1.7h-1.7zm1.1 -3.2h1.7v1.7h-1.7zm15.4 -17.4h1.7v1.7h-1.7zm3.9 5.2h1.7v1.7h-1.7zm-23.8 -3.4h1.7v1.7h-1.7zm14.3 5.2h1.7v1.7h-1.7zm-37.6 10.7h1.7v1.7h-1.7zm41.1 -13.9h1.7v1.7h-1.7zm14.7 2.5h1.7v1.7h-1.7zm-44.3 3.6h1.7v1.7h-1.7zm22.7 3.1h1.7v1.7h-1.7zm2.2 -9.8h1.7v1.7h-1.7zm3.7 -1.1h1.7v1.7h-1.7zm3.2 5.9h1.7v1.7h-1.7zm-6.4 -3.4h1.7v1.7h-1.7zm-10 -17.2h1.7v1.7h-1.7zm11.4 20.9h1.7v1.7h-1.7zm-10.9 8.5h1.7v1.7h-1.7zm5.4 -3.1h1.7v1.7h-1.7zm-22 -0.8h1.7v1.7h-1.7zm46.3 -15.3h1.7v1.7h-1.7zm-17.7 12.7h1.7v1.7h-1.7zm-12.5 7.4h1.7v1.7h-1.7zm-14.2 -9.3h1.7v1.7h-1.7zm-1 2h1.7v1.7h-1.7zm23.7 -0.5h1.7v1.7h-1.7zm10.1 -7h1.7v1.7h-1.7zm-0.4 -4.7h1.7v1.7h-1.7zm-8.2 22.4h1.7v1.7h-1.7zm-3.3 -19.7h1.7v1.7h-1.7zm6.5 4.6h1.7v1.7h-1.7zm-24.3 13.7h1.7v1.7h-1.7zm-2 -2.5h1.7v1.7h-1.7zm27.4 -13.7h1.7v1.7h-1.7zm-6.7 -5.4h1.7v1.7h-1.7zm4 9.1h1.7v1.7h-1.7zm2.7 0.5h1.7v1.7h-1.7zm1 4.1h1.7v1.7h-1.7zm-2.9 -2h1.7v1.7h-1.7zm-27.8 11.6h1.7v1.7h-1.7zm24.6 -18.3h1.7v1.7h-1.7zm4.7 7.9h1.7v1.7h-1.7zm1 -16.2h1.7v1.7h-1.7zm-28.1 13.3h1.7v1.7h-1.7zm2.7 -4.9h1.7v1.7h-1.7zm-6.3 6.7h1.7v1.7h-1.7zm18.5 7.7h1.7v1.7h-1.7zm-14.4 -15.6h1.7v1.7h-1.7zm17.1 16.7h1.7v1.7h-1.7zm7.2 -13.8h1.7v1.7h-1.7zm-1.9 5.2h1.7v1.7h-1.7zm-8.5 9.7h1.7v1.7h-1.7zm-20.1 -5.5h1.7v1.7h-1.7zm32.2 -13h1.7v1.7h-1.7zm2.4 8.5h1.7v1.7h-1.7zm-64.4 14.1h1.7v1.7h-1.7zm42.8 -6.3h1.7v1.7h-1.7zm4.8 -0.2h1.7v1.7h-1.7zm-15.5 -10.9h1.7v1.7h-1.7zm-0.4 9.9h1.7v1.7h-1.7zm24.5 -15.8h1.7v1.7h-1.7zm0.7 3.4h1.7v1.7h-1.7zm13.2 -7.4h1.7v1.7h-1.7zm-8 9.9h1.7v1.7h-1.7zm1.5 10.8h1.7v1.7h-1.7zm-1.5 -11h1.7v1.7h-1.7zm7 -0.1h1.7v1.7h-1.7zm2.6 0.7h1.7v1.7h-1.7zm-5.2 -5.1h1.7v1.7h-1.7zm-39.3 22.9h1.7v1.7h-1.7zm30.1 -23h1.7v1.7h-1.7zm-26.7 14.2h1.7v1.7h-1.7zm21.5 -17.6h1.7v1.7h-1.7zm10.2 8.6h1.7v1.7h-1.7zm-37.2 14.4h1.7v1.7h-1.7zm12.7 -20.3h1.7v1.7h-1.7zm4.9 3.9h1.7v1.7h-1.7zm25 -3.4h1.7v1.7h-1.7zm-5.1 4.1h1.7v1.7h-1.7zm-5.2 5.4h1.7v1.7h-1.7zm-2.9 -8.9h1.7v1.7h-1.7zm16.4 2h1.7v1.7h-1.7zm-68.7 17.2h1.7v1.7h-1.7zm26.7 -5.9h1.7v1.7h-1.7zm34.6 -14.5h1.7v1.7h-1.7zm-0.6 4.9h1.7v1.7h-1.7zm-3.1 -5.6h1.7v1.7h-1.7zm-21.6 7.2h1.7v1.7h-1.7zm27.5 1.2h1.7v1.7h-1.7zm-28 -2h1.7v1.7h-1.7zm-17.2 15.7h1.7v1.7h-1.7zm42.6 -15.8h1.7v1.7h-1.7zm1.1 3.6h1.7v1.7h-1.7zm-9.7 -10.6h1.7v1.7h-1.7zm-5.8 16.5h1.7v1.7h-1.7zm20 -10.4h1.7v1.7h-1.7zm1.9 -8.9h1.7v1.7h-1.7zm3.6 4.2h1.7v1.7h-1.7zm-17.3 0.2h1.7v1.7h-1.7zm16.6 11.3h1.7v1.7h-1.7zm-19.9 3h1.7v1.7h-1.7zm3.6 -0.7h1.7v1.7h-1.7zm6.7 -10.8h1.7v1.7h-1.7zm-34.7 14.7h1.7v1.7h-1.7zm5.2 -0.6h1.7v1.7h-1.7zm11 2.6h1.7v1.7h-1.7zm-14.3 1.6h1.7v1.7h-1.7zm-9.7 -8.5h1.7v1.7h-1.7zm17.6 4.7h1.7v1.7h-1.7zm6.2 3.3h1.7v1.7h-1.7zm-21.3 -4.9h1.7v1.7h-1.7zm54.1 -3h1.7v1.7h-1.7zm-40.1 6.1h1.7v1.7h-1.7zm22.3 -12.5h1.7v1.7h-1.7zm-10 15.9h1.7v1.7h-1.7zm21 -21.7h1.7v1.7h-1.7zm-21 -0.3h1.7v1.7h-1.7zm-4.8 18.7h1.7v1.7h-1.7zm15.5 -19.2h1.7v1.7h-1.7zm-13.6 -1.6h1.7v1.7h-1.7zm-11.6 19.6h1.7v1.7h-1.7zm-3.7 -4.8h1.7v1.7h-1.7zm35.3 11h1.7v1.7h-1.7zm-11.2 -25.3h1.7v1.7h-1.7zm-12.7 18.4h1.7v1.7h-1.7zm4.9 0.7h1.7v1.7h-1.7zm-14.4 -3.8h1.7v1.7h-1.7zm25 -10.6h1.7v1.7h-1.7zm-1.6 -2.9h1.7v1.7h-1.7zm-14.9 2.9h1.7v1.7h-1.7zm19.1 4.2h1.7v1.7h-1.7zm5.1 -8h1.7v1.7h-1.7zm-25.6 27.5h1.7v1.7h-1.7zm13.4 -27.9h1.7v1.7h-1.7zm10.1 -0.6h1.7v1.7h-1.7zm-4.4 6.6h1.7v1.7h-1.7zm-27.7 7.3h1.7v1.7h-1.7zm-11 9.2h1.7v1.7h-1.7zm39.1 -16.4h1.7v1.7h-1.7zm4.4 -3.6h1.7v1.7h-1.7zm-3.7 -0.5h1.7v1.7h-1.7zm-28.2 11.6h1.7v1.7h-1.7zm15 -10.5h1.7v1.7h-1.7zm0.8 17.3h1.7v1.7h-1.7zm-17.1 3.1h1.7v1.7h-1.7zm-0.8 -3.5h1.7v1.7h-1.7zm38.3 -9.6h1.7v1.7h-1.7zm-36 6.3h1.7v1.7h-1.7zm-0.4 1h1.7v1.7h-1.7zm-4.2 0.9h1.7v1.7h-1.7zm18.5 -20.6h1.7v1.7h-1.7zm14.5 5.6h1.7v1.7h-1.7zm6 -1.6h1.7v1.7h-1.7zm-7.5 9.2h1.7v1.7h-1.7zm-5.9 -13.1h1.7v1.7h-1.7zm-18.1 23h1.7v1.7h-1.7zm18.2 -4.6h1.7v1.7h-1.7zm5.2 -18.8h1.7v1.7h-1.7zm-22.3 8.4h1.7v1.7h-1.7zm9 12.9h1.7v1.7h-1.7zm5.5 -0.4h1.7v1.7h-1.7zm-8.2 -14.3h1.7v1.7h-1.7zm-10.4 18h1.7v1.7h-1.7zm-5 -16.3h1.7v1.7h-1.7zm13.9 -7.6h1.7v1.7h-1.7zm26.8 4.8h1.7v1.7h-1.7zm-11.8 12.1h1.7v1.7h-1.7zm-9.4 3h1.7v1.7h-1.7zm17.2 -14.4h1.7v1.7h-1.7zm-1.1 7.8h1.7v1.7h-1.7zm-30.4 5.5h1.7v1.7h-1.7zm0.3 4h1.7v1.7h-1.7zm31.3 -20.4h1.7v1.7h-1.7zm-35.9 14.6h1.7v1.7h-1.7zm17.3 1.9h1.7v1.7h-1.7zm5.7 -1.8h1.7v1.7h-1.7zm12.5 -11h1.7v1.7h-1.7zm-30.7 7h1.7v1.7h-1.7zm24.6 -8.2h1.7v1.7h-1.7zm3.6 -3.4h1.7v1.7h-1.7zm2.9 9h1.7v1.7h-1.7zm-8.6 6h1.7v1.7h-1.7zm-19.9 -11.3h1.7v1.7h-1.7zm23.9 -3.1h1.7v1.7h-1.7zm-20.2 5h1.7v1.7h-1.7zm30.2 0.2h1.7v1.7h-1.7zm-42.8 8.5h1.7v1.7h-1.7zm5.8 -7.8h1.7v1.7h-1.7zm-5.9 24.8h1.7v1.7h-1.7zm5.4 -22h1.7v1.7h-1.7zm42.1 -1.8h1.7v1.7h-1.7zm-38.2 14.2h1.7v1.7h-1.7zm16.7 -18.9h1.7v1.7h-1.7zm4.5 12.7h1.7v1.7h-1.7zm-30.5 1h1.7v1.7h-1.7zm47.1 -18.9h1.7v1.7h-1.7zm-21.3 17.3h1.7v1.7h-1.7zm0.7 -13.7h1.7v1.7h-1.7zm-8.3 18.4h1.7v1.7h-1.7zm14.3 -11.1h1.7v1.7h-1.7zm-17.2 -4.7h1.7v1.7h-1.7zm15.7 5.7h1.7v1.7h-1.7zm-16 17.6h1.7v1.7h-1.7zm14.4 -27.9h1.7v1.7h-1.7zm10.7 5.6h1.7v1.7h-1.7zm-16.2 -4.8h1.7v1.7h-1.7zm-16 9.7h1.7v1.7h-1.7zm-0.2 9.8h1.7v1.7h-1.7zm-3.7 -4.2h1.7v1.7h-1.7zm1.4 -1h1.7v1.7h-1.7zm30.2 -4.3h1.7v1.7h-1.7zm-25.6 -3h1.7v1.7h-1.7zm-12.9 4.9h1.7v1.7h-1.7zm5.9 1h1.7v1.7h-1.7zm5.1 10.6h1.7v1.7h-1.7zm-4.2 -11.8h1.7v1.7h-1.7zm5 6.2h1.7v1.7h-1.7zm14.2 -26h1.7v1.7h-1.7zm6.4 22.4h1.7v1.7h-1.7zm-1.3 -2.1h1.7v1.7h-1.7zm-9.1 14.3h1.7v1.7h-1.7zm-0.5 -6.5h1.7v1.7h-1.7zm26.5 1.7h1.7v1.7h-1.7zm-5.9 -20.2h1.7v1.7h-1.7zm-17.1 22.6h1.7v1.7h-1.7zm13.4 -26.1h1.7v1.7h-1.7zm-31.9 18.4h1.7v1.7h-1.7zm7.3 -9.4h1.7v1.7h-1.7zm22.5 1.1h1.7v1.7h-1.7zm-15.9 10h1.7v1.7h-1.7zm19.3 -8.8h1.7v1.7h-1.7zm22.3 -12.7h1.7v1.7h-1.7zm-65.3 16.9h1.7v1.7h-1.7zm42.6 -3.1h1.7v1.7h-1.7zm-14.5 10.1h1.7v1.7h-1.7zm-15.8 -5.5h1.7v1.7h-1.7zm25.9 -12.7h1.7v1.7h-1.7zm-31.1 23.7h1.7v1.7h-1.7zm24.7 -23.4h1.7v1.7h-1.7zm-18.6 6.8h1.7v1.7h-1.7zm-1 2.5h1.7v1.7h-1.7zm27.6 -8.5h1.7v1.7h-1.7zm-5 10.6h1.7v1.7h-1.7zm9.4 -12.8h1.7v1.7h-1.7zm1.8 0.9h1.7v1.7h-1.7zm-33.9 14.3h1.7v1.7h-1.7zm16.7 -18.9h1.7v1.7h-1.7zm-11.7 23.8h1.7v1.7h-1.7zm-4.1 -5.6h1.7v1.7h-1.7zm24 -10.8h1.7v1.7h-1.7zm8.2 9.1h1.7v1.7h-1.7zm-34.8 -2.4h1.7v1.7h-1.7zm13.7 8.1h1.7v1.7h-1.7zm7.6 -5.3h1.7v1.7h-1.7zm-25.9 2.6h1.7v1.7h-1.7zm21.8 1.4h1.7v1.7h-1.7zm11.1 -19.5h1.7v1.7h-1.7zm4.1 3.2h1.7v1.7h-1.7zm-16.8 15.9h1.7v1.7h-1.7zm-3.4 0.1h1.7v1.7h-1.7zm41.5 -10.1h1.7v1.7h-1.7zm-15.7 -3h1.7v1.7h-1.7zm-10.8 11.9h1.7v1.7h-1.7zm4.8 -13.1h1.7v1.7h-1.7zm-6.9 -0.5h1.7v1.7h-1.7zm-0.1 8.9h1.7v1.7h-1.7zm-5.7 5.9h1.7v1.7h-1.7zm9.7 -2.9h1.7v1.7h-1.7zm-8.5 6.6h1.7v1.7h-1.7zm10.9 -6.1h1.7v1.7h-1.7zm-0.4 -4.7h1.7v1.7h-1.7zm-23.5 12h1.7v1.7h-1.7zm4.8 -27.5h1.7v1.7h-1.7zm9.9 19.6h1.7v1.7h-1.7zm4.5 -17.6h1.7v1.7h-1.7zm-19.9 8.1h1.7v1.7h-1.7zm28.9 4.9h1.7v1.7h-1.7zm-13.3 -10.7h1.7v1.7h-1.7zm-13.8 2.7h1.7v1.7h-1.7zm19.8 1.7h1.7v1.7h-1.7zm12.4 -13.2h1.7v1.7h-1.7zm-49.5 29.4h1.7v1.7h-1.7zm4 -8.3h1.7v1.7h-1.7zm-13.2 -10.1h1.7v1.7h-1.7zm33.9 -0.9h1.7v1.7h-1.7zm6.5 13h1.7v1.7h-1.7zm7.2 -3.4h1.7v1.7h-1.7zm-3.8 8.2h1.7v1.7h-1.7zm15 -28.6h1.7v1.7h-1.7zm-13.6 12.1h1.7v1.7h-1.7zm-21.4 0.2h1.7v1.7h-1.7zm-11.7 12.4h1.7v1.7h-1.7zm32.1 -24.7h1.7v1.7h-1.7zm-33.4 31.8h1.7v1.7h-1.7zm16.3 -2.5h1.7v1.7h-1.7zm14.8 -18.6h1.7v1.7h-1.7zm-14.8 16.9h1.7v1.7h-1.7zm7.6 0.8h1.7v1.7h-1.7zm-42.8 5.1h1.7v1.7h-1.7zm45.4 -23.7h1.7v1.7h-1.7zm-21 22.4h1.7v1.7h-1.7zm26.9 -5h1.7v1.7h-1.7zm-9.8 -20.4h1.7v1.7h-1.7zm4.9 17.2h1.7v1.7h-1.7zm-17.8 6.7h1.7v1.7h-1.7zm25.6 -19.2h1.7v1.7h-1.7zm-11.6 0.9h1.7v1.7h-1.7zm15 9.9h1.7v1.7h-1.7zm-2.4 -9.1h1.7v1.7h-1.7zm-2.4 2.2h1.7v1.7h-1.7zm-6.5 -5.3h1.7v1.7h-1.7zm50.5 -7.6h1.7v1.7h-1.7zm-59.5 25.9h1.7v1.7h-1.7zm13.9 -7h1.7v1.7h-1.7zm-0.5 -14.5h1.7v1.7h-1.7zm9.7 3.1h1.7v1.7h-1.7zm-19.4 2.9h1.7v1.7h-1.7zm-11.9 14.3h1.7v1.7h-1.7zm34.4 -17.7h1.7v1.7h-1.7zm-7.3 5.4h1.7v1.7h-1.7zm-3.1 5.5h1.7v1.7h-1.7zm-7.9 -8.7h1.7v1.7h-1.7zm16.8 6.6h1.7v1.7h-1.7zm-33 9.2h1.7v1.7h-1.7zm-11.4 3.6h1.7v1.7h-1.7zm33.3 -9.3h1.7v1.7h-1.7zm10 -6h1.7v1.7h-1.7zm3.3 -9.7h1.7v1.7h-1.7zm-28.7 7.5h1.7v1.7h-1.7zm17.7 4.7h1.7v1.7h-1.7zm-2 7.3h1.7v1.7h-1.7zm0.1 -13.4h1.7v1.7h-1.7zm5.5 8.2h1.7v1.7h-1.7zm-17.4 -7h1.7v1.7h-1.7zm8.8 -4h1.7v1.7h-1.7zm8.1 3.4h1.7v1.7h-1.7zm8.3 0.5h1.7v1.7h-1.7zm-42.6 -2.3h1.7v1.7h-1.7zm26.7 13.8h1.7v1.7h-1.7zm6 -8.6h1.7v1.7h-1.7zm-24.6 12.6h1.7v1.7h-1.7zm-7.5 4h1.7v1.7h-1.7zm10.9 -4.3h1.7v1.7h-1.7zm0.1 -12.3h1.7v1.7h-1.7zm13.2 11.5h1.7v1.7h-1.7zm6.3 -11.7h1.7v1.7h-1.7zm-13.6 -5.7h1.7v1.7h-1.7zm-14.4 9.2h1.7v1.7h-1.7zm19.6 5.9h1.7v1.7h-1.7zm-11.9 3.8h1.7v1.7h-1.7zm0.4 -14.6h1.7v1.7h-1.7zm28.1 -8.7h1.7v1.7h-1.7zm-44.8 25.3h1.7v1.7h-1.7zm12.1 -12.9h1.7v1.7h-1.7zm27.1 2.4h1.7v1.7h-1.7zm-33.4 1.1h1.7v1.7h-1.7zm13.6 -7h1.7v1.7h-1.7zm26 -2.5h1.7v1.7h-1.7zm-7.2 1.8h1.7v1.7h-1.7zm-3.4 6.7h1.7v1.7h-1.7zm-19.1 6.3h1.7v1.7h-1.7zm25.9 -14.3h1.7v1.7h-1.7zm-32.6 15.8h1.7v1.7h-1.7zm48 -8.7h1.7v1.7h-1.7zm-49 1.4h1.7v1.7h-1.7zm35.8 -1.6h1.7v1.7h-1.7zm-8.7 3h1.7v1.7h-1.7zm21.3 -4.7h1.7v1.7h-1.7zm-1.7 -15.4h1.7v1.7h-1.7zm-17.1 10.6h1.7v1.7h-1.7zm15.3 -2.9h1.7v1.7h-1.7zm-12.9 4.7h1.7v1.7h-1.7zm-19.3 -2h1.7v1.7h-1.7zm5.3 13.7h1.7v1.7h-1.7zm-2.2 -17.6h1.7v1.7h-1.7zm-21.8 17.5h1.7v1.7h-1.7zm8.1 -0.3h1.7v1.7h-1.7zm4.8 -15.1h1.7v1.7h-1.7zm18 -2.4h1.7v1.7h-1.7zm-5.8 18.5h1.7v1.7h-1.7zm-21.6 2.1h1.7v1.7h-1.7zm34.2 -5.8h1.7v1.7h-1.7zm-19.2 -10.1h1.7v1.7h-1.7zm11.1 -6.5h1.7v1.7h-1.7zm-12.5 20.9h1.7v1.7h-1.7zm26.4 -15h1.7v1.7h-1.7zm-38.6 16.8h1.7v1.7h-1.7zm1.1 -3.9h1.7v1.7h-1.7zm29.6 -11.3h1.7v1.7h-1.7zm-30.8 14.8h1.7v1.7h-1.7zm22.4 9.9h1.7v1.7h-1.7zm23.9 -25.4h1.7v1.7h-1.7zm-42.9 21.2h1.7v1.7h-1.7zm12.2 -7.3h1.7v1.7h-1.7zm-13.9 -8.6h1.7v1.7h-1.7zm25.2 -6.4h1.7v1.7h-1.7zm8.3 26.4h1.7v1.7h-1.7zm-0.1 1.9h1.7v1.7h-1.7zm-5.7 -34h1.7v1.7h-1.7zm83.4 -58h1.7v1.7h-1.7zm-75.1 52.9h1.7v1.7h-1.7zm12.4 -18.2h1.7v1.7h-1.7zm54.7 12h1.7v1.7h-1.7zm-56.7 53.4h1.7v1.7h-1.7zm-16.5 -62.3h1.7v1.7h-1.7zm10.7 11.9h1.7v1.7h-1.7zm-7 43.5h1.7v1.7h-1.7zm37.1 -46.2h1.7v1.7h-1.7zm-42.9 17.4h1.7v1.7h-1.7zm27.1 2.4h1.7v1.7h-1.7zm-12.7 -13h1.7v1.7h-1.7zm-6.8 -3.7h1.7v1.7h-1.7zm-18.1 38.7h1.7v1.7h-1.7zm38.9 -41.7h1.7v1.7h-1.7zm-0.5 34.3h1.7v1.7h-1.7zm-18.3 -30.8h1.7v1.7h-1.7zm63.5 -14.2h1.7v1.7h-1.7zm-28.1 2.7h1.7v1.7h-1.7zm-47.7 19.8h1.7v1.7h-1.7zm8.6 34h1.7v1.7h-1.7zm-0.6 -17.6h1.7v1.7h-1.7zm2.3 -16.4h1.7v1.7h-1.7zm24.2 -17.1h1.7v1.7h-1.7zm43.8 -26.3h1.7v1.7h-1.7zm2 32.8h1.7v1.7h-1.7zm-77.1 18.8h1.7v1.7h-1.7zm74.5 -71.6h1.7v1.7h-1.7zm-23.2 50.6h1.7v1.7h-1.7zm-27.9 29.6h1.7v1.7h-1.7zm-10.4 9.1h1.7v1.7h-1.7zm19.9 -38.4h1.7v1.7h-1.7zm-34 4.4h1.7v1.7h-1.7zm90.1 -12.7h1.7v1.7h-1.7zm-52.2 1.7h1.7v1.7h-1.7zm-13.6 -6.4h1.7v1.7h-1.7zm13.6 1.3h1.7v1.7h-1.7zm-30.6 10.5h1.7v1.7h-1.7zm-3.7 24.7h1.7v1.7h-1.7zm-5.5 2.4h1.7v1.7h-1.7zm20.9 -31.1h1.7v1.7h-1.7zm2 42.9h1.7v1.7h-1.7zm14.3 -53.2h1.7v1.7h-1.7zm1.5 15.6h1.7v1.7h-1.7zm-19.5 15h1.7v1.7h-1.7zm-3.8 23.5h1.7v1.7h-1.7zm-10.6 -9.9h1.7v1.7h-1.7zm50.6 1h1.7v1.7h-1.7zm-5.9 -11.5h1.7v1.7h-1.7zm-39.7 -12.7h1.7v1.7h-1.7zm17.4 -32.3h1.7v1.7h-1.7zm-23.1 62.6h1.7v1.7h-1.7zm63.2 -30.3h1.7v1.7h-1.7zm-36.7 -33.8h1.7v1.7h-1.7zm15 19.3h1.7v1.7h-1.7zm-35.7 17.3h1.7v1.7h-1.7zm75.6 -15.2h1.7v1.7h-1.7zm-76.3 -0.4h1.7v1.7h-1.7zm41.2 0.6h1.7v1.7h-1.7zm-20.5 -3.4h1.7v1.7h-1.7zm22.7 -2.2h1.7v1.7h-1.7zm-6.2 -10.8h1.7v1.7h-1.7zm-23.5 23.5h1.7v1.7h-1.7zm2 15.9h1.7v1.7h-1.7zm-0.3 -8.2h1.7v1.7h-1.7zm46.6 -21.4h1.7v1.7h-1.7zm-42.3 53.5h1.7v1.7h-1.7zm-27.6 -10.4h1.7v1.7h-1.7zm16.8 6.3h1.7v1.7h-1.7zm-5.1 -20.1h1.7v1.7h-1.7zm8.6 5h1.7v1.7h-1.7zm-7 1.1h1.7v1.7h-1.7zm-1 15.4h1.7v1.7h-1.7zm74.5 -60.4h1.7v1.7h-1.7zm-77.8 35.2h1.7v1.7h-1.7zm-13.3 -7.9h1.7v1.7h-1.7zm35 25.3h1.7v1.7h-1.7zm-35.5 -1.2h1.7v1.7h-1.7zm31.4 -10.5h1.7v1.7h-1.7zm-22.8 -4.5h1.7v1.7h-1.7zm9.8 15.9h1.7v1.7h-1.7zm29.6 -44.1h1.7v1.7h-1.7zm-42.1 49.1h1.7v1.7h-1.7zm-6 -27.2h1.7v1.7h-1.7zm34.5 -0.4h1.7v1.7h-1.7zm-27 15.1h1.7v1.7h-1.7zm41.2 -16.8h1.7v1.7h-1.7zm-30.7 12.6h1.7v1.7h-1.7zm56.2 -47.8h1.7v1.7h-1.7zm-49.5 28.1h1.7v1.7h-1.7zm-16.4 3.2h1.7v1.7h-1.7zm3.3 10.8h1.7v1.7h-1.7zm20 2.9h1.7v1.7h-1.7zm-5.2 9.4h1.7v1.7h-1.7zm40.7 -34.7h1.7v1.7h-1.7zm-28.7 28.4h1.7v1.7h-1.7zm-38.3 11.7h1.7v1.7h-1.7zm-0.5 6.6h1.7v1.7h-1.7zm56.9 -23.3h1.7v1.7h-1.7zm-45.7 -9.9h1.7v1.7h-1.7zm78.1 -9.4h1.7v1.7h-1.7zm-71.2 25.6h1.7v1.7h-1.7zm-3.5 -4.9h1.7v1.7h-1.7zm-0.4 4.5h1.7v1.7h-1.7zm30.5 -33.2h1.7v1.7h-1.7zm-30.1 26.2h1.7v1.7h-1.7zm-3.8 24h1.7v1.7h-1.7zm9.3 -20.4h1.7v1.7h-1.7zm1 21.2h1.7v1.7h-1.7zm-10.7 -13.4h1.7v1.7h-1.7zm10.4 -20.1h1.7v1.7h-1.7zm8.9 34.3h1.7v1.7h-1.7zm-17.8 -30.9h1.7v1.7h-1.7zm52.7 -8.4h1.7v1.7h-1.7zm-50 1.7h1.7v1.7h-1.7zm-1.4 19.1h1.7v1.7h-1.7zm9.2 -18.4h1.7v1.7h-1.7zm-1.9 10.9h1.7v1.7h-1.7zm34 -26.3h1.7v1.7h-1.7zm-25.5 26.2h1.7v1.7h-1.7zm-4.3 12.9h1.7v1.7h-1.7zm-19.1 -5.7h1.7v1.7h-1.7zm24.4 -9.3h1.7v1.7h-1.7zm-10.2 -19.8h1.7v1.7h-1.7zm-6.3 42.5h1.7v1.7h-1.7zm-14.3 10.9h1.7v1.7h-1.7zm52.1 -60.6h1.7v1.7h-1.7zm-11.6 34.3h1.7v1.7h-1.7zm-10 17.9h1.7v1.7h-1.7zm-25.3 -1.1h1.7v1.7h-1.7zm64.3 -37.7h1.7v1.7h-1.7zm-60.1 32.1h1.7v1.7h-1.7zm7.7 -48.3h1.7v1.7h-1.7zm22.5 27.8h1.7v1.7h-1.7zm-11.5 4.3h1.7v1.7h-1.7zm-26.2 -1.2h1.7v1.7h-1.7zm35.4 26.2h1.7v1.7h-1.7zm-3.6 -64.5h1.7v1.7h-1.7zm14.9 34.2h1.7v1.7h-1.7zm-21 17.9h1.7v1.7h-1.7zm-14.3 -18.6h1.7v1.7h-1.7zm9.1 26.1h1.7v1.7h-1.7zm-14.4 -2.4h1.7v1.7h-1.7zm0.7 -23.4h1.7v1.7h-1.7zm4.4 16.9h1.7v1.7h-1.7zm28.2 -13.6h1.7v1.7h-1.7zm-2.8 -19.2h1.7v1.7h-1.7zm39.7 20.8h1.7v1.7h-1.7zm-61.6 51h1.7v1.7h-1.7zm52.4 -70.7h1.7v1.7h-1.7zm-14.7 8.3h1.7v1.7h-1.7zm-34.7 -25.5h1.7v1.7h-1.7zm-53.9 61.4h1.7v1.7h-1.7zm-28.3 6.8h1.7v1.7h-1.7zm30.6 -20.8h1.7v1.7h-1.7zm-8.2 7.7h1.7v1.7h-1.7zm-23.2 17.4h1.7v1.7h-1.7zm7.1 3h1.7v1.7h-1.7zm-8.2 -5h1.7v1.7h-1.7zm-0.3 -7.7h1.7v1.7h-1.7zm12.5 -5.6h1.7v1.7h-1.7zm-2.7 5.3h1.7v1.7h-1.7zm-8.6 -13h1.7v1.7h-1.7zm32.7 7.7h1.7v1.7h-1.7zm-17.7 10.9h1.7v1.7h-1.7zm-16 -2.7h1.7v1.7h-1.7zm23.8 -13.4h1.7v1.7h-1.7zm-17 7.7h1.7v1.7h-1.7zm20.7 -4.3h1.7v1.7h-1.7zm-26.7 -0.7h1.7v1.7h-1.7zm163.6 -78.5h1.7v1.7h-1.7zm19.2 0.6h1.7v1.7h-1.7zm-17 14.3h1.7v1.7h-1.7zm7.6 1.6h1.7v1.7h-1.7zm-23.3 -0.6h1.7v1.7h-1.7zm-5.9 1.9h1.7v1.7h-1.7zm-1.9 2.9h1.7v1.7h-1.7zm1.7 4.1h1.7v1.7h-1.7zm0.7 23.2h1.7v1.7h-1.7zm-15.4 -20.6h1.7v1.7h-1.7zm-3.6 -4.8h1.7v1.7h-1.7zm-20.1 -2.8h1.7v1.7h-1.7zm9.5 0h1.7v1.7h-1.7zm-26.1 -8.2h1.7v1.7h-1.7zm-9.5 3.3h1.7v1.7h-1.7zm-28.4 16.5h1.7v1.7h-1.7zm-9.5 8.3h1.7v1.7h-1.7z"/>
<g transform="translate(209.5 144.2) rotate(-20)" filter="url(#bl)">
<ellipse rx="14" ry="7" fill="#34a9df"/>
<ellipse rx="10.5" ry="5.2" fill="#7cbf2e"/>
<ellipse rx="5.5" ry="3.1" fill="#f2d81e"/>
<ellipse rx="3" ry="2" fill="#e63222"/>
</g>
<g filter="url(#bl2)"><ellipse cx="598" cy="144" rx="30" ry="11" fill="#2457a8" transform="rotate(-14 598 144)"/></g>
<path fill="#2457a8" d="M599.5 132h1.7v1.7h-1.7zm-2.5 20h1.7v1.7h-1.7zm-20.4 -8.8h1.7v1.7h-1.7zm46 -15.8h1.7v1.7h-1.7zm-32.5 28.5h1.7v1.7h-1.7zm4.5 0.2h1.7v1.7h-1.7zm-4.4 0.6h1.7v1.7h-1.7zm23.2 -25.8h1.7v1.7h-1.7zm-29.1 26h1.7v1.7h-1.7zm6.7 -23.5h1.7v1.7h-1.7zm-14.7 18.3h1.7v1.7h-1.7zm8.8 -17.5h1.7v1.7h-1.7zm-17.6 19.4h1.7v1.7h-1.7zm28.3 -0.2h1.7v1.7h-1.7zm7 -21.8h1.7v1.7h-1.7zm-13.3 22.2h1.7v1.7h-1.7zm2.4 -1.7h1.7v1.7h-1.7zm40.3 -11.9h1.7v1.7h-1.7zm-16.1 -7h1.7v1.7h-1.7zm-10.6 17.9h1.7v1.7h-1.7zm17.3 -19.3h1.7v1.7h-1.7zm3.9 4.5h1.7v1.7h-1.7zm-21.5 12.5h1.7v1.7h-1.7zm26.8 -9.5h1.7v1.7h-1.7zm-61.1 11.9h1.7v1.7h-1.7zm53.1 -12.4h1.7v1.7h-1.7zm-15 9.5h1.7v1.7h-1.7zm-22.5 -10.1h1.7v1.7h-1.7zm41.3 -18.1h1.7v1.7h-1.7zm-8 18.3h1.7v1.7h-1.7zm-37.9 0.1h1.7v1.7h-1.7zm39.1 -3.5h1.7v1.7h-1.7zm-46 1.3h1.7v1.7h-1.7zm46.4 -5.4h1.7v1.7h-1.7zm-23.2 28.3h1.7v1.7h-1.7zm27 -26.6h1.7v1.7h-1.7zm-16.7 -0.6h1.7v1.7h-1.7zm11.6 4h1.7v1.7h-1.7zm-7.3 10.9h1.7v1.7h-1.7zm19.2 -16h1.7v1.7h-1.7zm-20.2 17.5h1.7v1.7h-1.7zm-26.8 4.1h1.7v1.7h-1.7zm23.4 -20.9h1.7v1.7h-1.7zm-29 24.4h1.7v1.7h-1.7zm-5 -8h1.7v1.7h-1.7zm4.7 -6.3h1.7v1.7h-1.7zm26.7 6.3h1.7v1.7h-1.7zm58.5 -17.4h1.7v1.7h-1.7zm-55.3 16.7h1.7v1.7h-1.7zm1.5 -0.7h1.7v1.7h-1.7zm12 -12.8h1.7v1.7h-1.7zm-47.1 11.1h1.7v1.7h-1.7zm13 7.5h1.7v1.7h-1.7zm41.4 -5.6h1.7v1.7h-1.7zm-54.9 9.8h1.7v1.7h-1.7zm-1.8 -8.6h1.7v1.7h-1.7zm42.4 -14.5h1.7v1.7h-1.7zm-37 21h1.7v1.7h-1.7zm35.7 -7h1.7v1.7h-1.7zm-8.9 -17h1.7v1.7h-1.7zm16 11.9h1.7v1.7h-1.7zm2.7 -9.5h1.7v1.7h-1.7zm-28 25.9h1.7v1.7h-1.7zm5.2 -29.8h1.7v1.7h-1.7zm-24.2 16.3h1.7v1.7h-1.7zm42.1 -10.7h1.7v1.7h-1.7zm-16.4 -1.8h1.7v1.7h-1.7zm-17.5 19.2h1.7v1.7h-1.7zm36.2 -6.9h1.7v1.7h-1.7zm-4.2 -14.1h1.7v1.7h-1.7zm-13.6 3h1.7v1.7h-1.7zm-37.5 13.5h1.7v1.7h-1.7zm61 -13.7h1.7v1.7h-1.7zm-38.7 18.2h1.7v1.7h-1.7zm35.1 -26.3h1.7v1.7h-1.7zm-37.2 11.7h1.7v1.7h-1.7zm-8 5.8h1.7v1.7h-1.7zm24.8 7.6h1.7v1.7h-1.7zm12.7 -3.4h1.7v1.7h-1.7zm-29.7 -17.6h1.7v1.7h-1.7zm36.4 3.6h1.7v1.7h-1.7zm-11.1 15.8h1.7v1.7h-1.7zm9.1 -0.3h1.7v1.7h-1.7zm14.8 -0.3h1.7v1.7h-1.7zm-22.1 -1.6h1.7v1.7h-1.7zm3.8 -13.6h1.7v1.7h-1.7zm0.2 7.2h1.7v1.7h-1.7zm-6 7.3h1.7v1.7h-1.7zm3.4 -20.5h1.7v1.7h-1.7zm0.7 5.6h1.7v1.7h-1.7zm9.8 1.9h1.7v1.7h-1.7zm-39.4 21.4h1.7v1.7h-1.7zm30 -13h1.7v1.7h-1.7zm14.6 -5.1h1.7v1.7h-1.7zm-5.7 -6.2h1.7v1.7h-1.7zm-9.2 12.5h1.7v1.7h-1.7zm-35.4 -6.7h1.7v1.7h-1.7zm-6.7 14.8h1.7v1.7h-1.7zm33.8 -21.8h1.7v1.7h-1.7zm-15.9 21.4h1.7v1.7h-1.7zm-1.6 0h1.7v1.7h-1.7zm-9.6 -10.6h1.7v1.7h-1.7zm14.1 12.3h1.7v1.7h-1.7zm-4.9 -16.8h1.7v1.7h-1.7zm19.3 12.7h1.7v1.7h-1.7zm-0.2 -1.7h1.7v1.7h-1.7zm50.1 -24.8h1.7v1.7h-1.7zm-92.7 31.4h1.7v1.7h-1.7zm61.8 -7.1h1.7v1.7h-1.7zm-24.3 -13.6h1.7v1.7h-1.7zm10.9 -1.5h1.7v1.7h-1.7zm5.8 13.8h1.7v1.7h-1.7zm-76.1 15.2h1.7v1.7h-1.7zm31.6 -14.4h1.7v1.7h-1.7zm-18.3 3.4h1.7v1.7h-1.7zm65.4 -14.1h1.7v1.7h-1.7zm-35.8 21.2h1.7v1.7h-1.7zm32.9 -14.3h1.7v1.7h-1.7zm-34.7 13.6h1.7v1.7h-1.7zm34.2 -18.8h1.7v1.7h-1.7zm-33.8 -1.5h1.7v1.7h-1.7zm-0.8 2.9h1.7v1.7h-1.7zm43.5 -11.2h1.7v1.7h-1.7zm15 12.5h1.7v1.7h-1.7zm-46.2 -7.7h1.7v1.7h-1.7zm-30.6 19.3h1.7v1.7h-1.7zm54.2 -18.6h1.7v1.7h-1.7zm-7.9 -0.9h1.7v1.7h-1.7zm12.8 9.6h1.7v1.7h-1.7zm-71.1 -6h1.7v1.7h-1.7zm71.6 6.8h1.7v1.7h-1.7zm-12.8 4.9h1.7v1.7h-1.7zm-15.1 2.5h1.7v1.7h-1.7zm46.5 -28.4h1.7v1.7h-1.7zm-18.1 17.7h1.7v1.7h-1.7zm-27.8 -4.9h1.7v1.7h-1.7zm-10.9 17h1.7v1.7h-1.7zm14.9 4h1.7v1.7h-1.7zm13.4 -9.3h1.7v1.7h-1.7zm-35.2 4.6h1.7v1.7h-1.7zm-0.4 6h1.7v1.7h-1.7zm2.3 -3.7h1.7v1.7h-1.7zm29.1 -27.7h1.7v1.7h-1.7zm13.5 6.6h1.7v1.7h-1.7zm-21.8 18.2h1.7v1.7h-1.7zm-26.9 5.2h1.7v1.7h-1.7zm55.7 -25.5h1.7v1.7h-1.7zm-43.7 22.3h1.7v1.7h-1.7zm19.5 -5.6h1.7v1.7h-1.7zm13.7 -15.5h1.7v1.7h-1.7zm-2.8 1.1h1.7v1.7h-1.7zm6.3 2.7h1.7v1.7h-1.7zm-13.9 15.3h1.7v1.7h-1.7zm20 -8.6h1.7v1.7h-1.7zm-43.9 -10.1h1.7v1.7h-1.7zm37.2 7.1h1.7v1.7h-1.7zm-7.5 1.6h1.7v1.7h-1.7zm-21.7 11.6h1.7v1.7h-1.7zm7.5 -19.2h1.7v1.7h-1.7zm7.7 -0.6h1.7v1.7h-1.7zm19.5 -2.3h1.7v1.7h-1.7zm-50.7 23.3h1.7v1.7h-1.7zm-3.7 7.2h1.7v1.7h-1.7zm7.6 -20.2h1.7v1.7h-1.7zm32.3 8.6h1.7v1.7h-1.7zm-36.5 4h1.7v1.7h-1.7zm85.6 -43.7h1.7v1.7h-1.7zm-82.4 29h1.7v1.7h-1.7zm37 -1.2h1.7v1.7h-1.7zm-0.7 -1h1.7v1.7h-1.7zm0.3 4.8h1.7v1.7h-1.7zm-17.3 10.4h1.7v1.7h-1.7zm-3 -16.4h1.7v1.7h-1.7zm-30.4 42.7h1.7v1.7h-1.7zm32.5 -26.3h1.7v1.7h-1.7zm8.6 -36.8h1.7v1.7h-1.7zm8.4 37.6h1.7v1.7h-1.7zm-39 -11.7h1.7v1.7h-1.7zm13.6 -3.9h1.7v1.7h-1.7zm15.9 -4.9h1.7v1.7h-1.7zm9.9 11.5h1.7v1.7h-1.7zm-8.9 -10.6h1.7v1.7h-1.7zm-38.6 28.7h1.7v1.7h-1.7zm54.7 -34.5h1.7v1.7h-1.7zm-15.2 19.5h1.7v1.7h-1.7zm-58.1 11.9h1.7v1.7h-1.7zm70.7 -21.7h1.7v1.7h-1.7zm-10.7 10.5h1.7v1.7h-1.7zm10.6 -15.7h1.7v1.7h-1.7zm-23.4 19.8h1.7v1.7h-1.7zm73 -18h1.7v1.7h-1.7zm-46.1 3h1.7v1.7h-1.7zm-46.5 15.5h1.7v1.7h-1.7zm39.1 -10.4h1.7v1.7h-1.7zm-30.1 10.5h1.7v1.7h-1.7zm14.1 -20.6h1.7v1.7h-1.7zm-27.1 13.8h1.7v1.7h-1.7zm27.2 -10.4h1.7v1.7h-1.7zm13.2 -0.5h1.7v1.7h-1.7zm-34.4 17.8h1.7v1.7h-1.7zm43.2 -12.9h1.7v1.7h-1.7zm-24.6 14.3h1.7v1.7h-1.7zm11.6 -6.8h1.7v1.7h-1.7zm-7.6 4.3h1.7v1.7h-1.7zm-25.3 12.1h1.7v1.7h-1.7zm9.1 -27.8h1.7v1.7h-1.7zm31.2 2.5h1.7v1.7h-1.7zm-31.9 15.3h1.7v1.7h-1.7zm22.3 -6.1h1.7v1.7h-1.7zm-20 -10.9h1.7v1.7h-1.7zm-12.3 20.1h1.7v1.7h-1.7zm52.7 -22.1h1.7v1.7h-1.7zm-23.1 17.1h1.7v1.7h-1.7zm-4.3 14.3h1.7v1.7h-1.7zm3.1 -15.3h1.7v1.7h-1.7zm25 -14.2h1.7v1.7h-1.7zm-69.5 13.8h1.7v1.7h-1.7zm23.2 8.3h1.7v1.7h-1.7zm39.3 -17.7h1.7v1.7h-1.7zm-8.5 3.5h1.7v1.7h-1.7zm-25.5 8.3h1.7v1.7h-1.7zm33.6 -13.3h1.7v1.7h-1.7zm-60.1 20.9h1.7v1.7h-1.7zm24.9 -24.3h1.7v1.7h-1.7zm30.2 8.8h1.7v1.7h-1.7zm-30.2 10.7h1.7v1.7h-1.7zm35.1 -11.6h1.7v1.7h-1.7zm-8 -9.2h1.7v1.7h-1.7zm-38.8 17.9h1.7v1.7h-1.7zm-3.4 -11.7h1.7v1.7h-1.7zm29.4 -6.8h1.7v1.7h-1.7zm19.5 11.7h1.7v1.7h-1.7zm8.2 -1.1h1.7v1.7h-1.7zm-37.6 8.1h1.7v1.7h-1.7zm-17.3 -17h1.7v1.7h-1.7zm36.9 18.3h1.7v1.7h-1.7zm-5.1 -24.2h1.7v1.7h-1.7zm-29.2 11.9h1.7v1.7h-1.7zm22.3 -7.8h1.7v1.7h-1.7zm-11.5 24.4h1.7v1.7h-1.7zm-14.8 -4.8h1.7v1.7h-1.7zm24.3 -17.7h1.7v1.7h-1.7zm1.5 15.2h1.7v1.7h-1.7zm-19.9 -13.2h1.7v1.7h-1.7zm30.3 15.1h1.7v1.7h-1.7zm-24.3 7.9h1.7v1.7h-1.7zm14 -28.5h1.7v1.7h-1.7zm9.9 -2h1.7v1.7h-1.7zm10.5 5h1.7v1.7h-1.7zm-2.2 -2.3h1.7v1.7h-1.7zm-83.1 18.3h1.7v1.7h-1.7zm86.8 -11h1.7v1.7h-1.7zm6.8 -5.8h1.7v1.7h-1.7zm-2.2 -2.5h1.7v1.7h-1.7zm-26.2 0.7h1.7v1.7h-1.7zm-6.5 -4.4h1.7v1.7h-1.7zm24.1 25.9h1.7v1.7h-1.7zm-3.7 -24.1h1.7v1.7h-1.7zm5.4 22.6h1.7v1.7h-1.7zm-0.6 -23.7h1.7v1.7h-1.7zm-10.1 25.9h1.7v1.7h-1.7zm3.2 -2.7h1.7v1.7h-1.7zm-32.6 -8.5h1.7v1.7h-1.7zm-7.9 1.1h1.7v1.7h-1.7zm45 2h1.7v1.7h-1.7zm-7.4 1.9h1.7v1.7h-1.7zm-44.8 5.9h1.7v1.7h-1.7zm57.8 -13h1.7v1.7h-1.7zm27.7 -3.1h1.7v1.7h-1.7zm-15.4 -24.9h1.7v1.7h-1.7zm-19.5 33.3h1.7v1.7h-1.7zm1.7 -11.3h1.7v1.7h-1.7zm15 1.5h1.7v1.7h-1.7zm-8.8 -5.9h1.7v1.7h-1.7zm1.8 -6.6h1.7v1.7h-1.7zm-26.3 10.6h1.7v1.7h-1.7zm20.3 11.2h1.7v1.7h-1.7zm-36.5 6.6h1.7v1.7h-1.7zm36.4 -19.1h1.7v1.7h-1.7zm-0.2 2.4h1.7v1.7h-1.7zm15.1 -1.4h1.7v1.7h-1.7zm-26.8 14.6h1.7v1.7h-1.7zm-16.1 -11.9h1.7v1.7h-1.7zm26.2 -5h1.7v1.7h-1.7zm4.2 6.9h1.7v1.7h-1.7zm14.7 -5.2h1.7v1.7h-1.7zm-3.4 6.7h1.7v1.7h-1.7zm-6.7 -1h1.7v1.7h-1.7zm-23.6 -7.2h1.7v1.7h-1.7zm-20.7 22.5h1.7v1.7h-1.7zm31.9 -23.6h1.7v1.7h-1.7zm7.3 21.1h1.7v1.7h-1.7zm-3.2 -4.8h1.7v1.7h-1.7zm-28.2 -10.5h1.7v1.7h-1.7zm30.8 -2.6h1.7v1.7h-1.7zm-6.2 0.6h1.7v1.7h-1.7zm-32.7 16.5h1.7v1.7h-1.7zm17.4 -21.7h1.7v1.7h-1.7zm41.5 4.1h1.7v1.7h-1.7zm-26 13.5h1.7v1.7h-1.7zm19.2 -18.6h1.7v1.7h-1.7zm-12.1 -0.5h1.7v1.7h-1.7zm-3.9 -14.4h1.7v1.7h-1.7zm-3.8 30.7h1.7v1.7h-1.7zm17.9 -12.3h1.7v1.7h-1.7zm-3.1 1.9h1.7v1.7h-1.7zm-53.3 6.7h1.7v1.7h-1.7zm35.1 -6.7h1.7v1.7h-1.7zm3.6 0.9h1.7v1.7h-1.7zm-4.5 -3.4h1.7v1.7h-1.7zm-67.9 36.3h1.7v1.7h-1.7zm80 -30.6h1.7v1.7h-1.7zm12.8 18h1.7v1.7h-1.7zm-1.9 -20.1h1.7v1.7h-1.7zm-61 2.2h1.7v1.7h-1.7zm4.2 17.4h1.7v1.7h-1.7zm-17.1 16.2h1.7v1.7h-1.7zm95.7 -47.5h1.7v1.7h-1.7zm-21.8 12.6h1.7v1.7h-1.7zm-9.4 -1h1.7v1.7h-1.7zm-8.8 9.5h1.7v1.7h-1.7zm-19.7 7.6h1.7v1.7h-1.7zm30.2 -11.7h1.7v1.7h-1.7zm-21.7 -6h1.7v1.7h-1.7zm-28.3 10h1.7v1.7h-1.7zm62 -14.5h1.7v1.7h-1.7zm-25 17.9h1.7v1.7h-1.7zm17.3 -7.7h1.7v1.7h-1.7zm-21 -6.6h1.7v1.7h-1.7zm18.3 7h1.7v1.7h-1.7zm-21 -6.2h1.7v1.7h-1.7zm20.1 11.7h1.7v1.7h-1.7zm-49.1 6h1.7v1.7h-1.7zm37.3 -20.4h1.7v1.7h-1.7zm-0.8 15.5h1.7v1.7h-1.7zm11.3 -13.5h1.7v1.7h-1.7zm0.4 -9.7h1.7v1.7h-1.7zm-38.4 12.2h1.7v1.7h-1.7zm4.9 16.6h1.7v1.7h-1.7zm-16.5 2.4h1.7v1.7h-1.7zm8.3 -2.5h1.7v1.7h-1.7zm26.7 -18.9h1.7v1.7h-1.7zm17.3 8.3h1.7v1.7h-1.7zm-10.8 1.2h1.7v1.7h-1.7zm-21.1 11.7h1.7v1.7h-1.7zm-19 -1.9h1.7v1.7h-1.7zm38.2 -7.5h1.7v1.7h-1.7zm7.2 -3.7h1.7v1.7h-1.7zm-16.6 -8.1h1.7v1.7h-1.7zm17.1 9.1h1.7v1.7h-1.7zm-6.1 5.6h1.7v1.7h-1.7zm-15.2 -14.6h1.7v1.7h-1.7zm6.6 16.9h1.7v1.7h-1.7zm20.4 -14.5h1.7v1.7h-1.7zm-8.4 3.9h1.7v1.7h-1.7zm21.7 -6.7h1.7v1.7h-1.7zm-59.4 24.7h1.7v1.7h-1.7zm9.1 -3.5h1.7v1.7h-1.7zm0.8 -26.3h1.7v1.7h-1.7zm-17.1 20.9h1.7v1.7h-1.7zm4.6 -12.6h1.7v1.7h-1.7zm42.5 -2.6h1.7v1.7h-1.7zm-25.4 -2.6h1.7v1.7h-1.7zm47.5 -5.5h1.7v1.7h-1.7zm-7.8 20.5h1.7v1.7h-1.7zm4 -18.3h1.7v1.7h-1.7zm-18.2 8.6h1.7v1.7h-1.7zm-17 -2.8h1.7v1.7h-1.7zm1.3 -3.6h1.7v1.7h-1.7zm17.2 9.2h1.7v1.7h-1.7zm11.2 -5.1h1.7v1.7h-1.7zm-4.5 -2.1h1.7v1.7h-1.7zm-14.8 1.4h1.7v1.7h-1.7zm1.9 0.4h1.7v1.7h-1.7zm-26.3 21.9h1.7v1.7h-1.7zm23.2 -8.4h1.7v1.7h-1.7zm-6.8 4.2h1.7v1.7h-1.7zm13.5 -4.9h1.7v1.7h-1.7zm16.8 -21.5h1.7v1.7h-1.7zm-4.1 16.4h1.7v1.7h-1.7zm-27.1 9.3h1.7v1.7h-1.7zm20.3 -17.9h1.7v1.7h-1.7zm-7 0.2h1.7v1.7h-1.7zm5 3.7h1.7v1.7h-1.7zm-16.1 -6h1.7v1.7h-1.7zm-34.4 10.6h1.7v1.7h-1.7zm43.3 3.1h1.7v1.7h-1.7zm-2.9 -0.4h1.7v1.7h-1.7zm4.8 -16.3h1.7v1.7h-1.7zm-21.3 28h1.7v1.7h-1.7zm23.5 -12.3h1.7v1.7h-1.7zm0.1 -8.2h1.7v1.7h-1.7zm-26.2 0.1h1.7v1.7h-1.7zm27.1 10.3h1.7v1.7h-1.7zm-36.5 -7.5h1.7v1.7h-1.7zm31.8 12h1.7v1.7h-1.7zm3.8 -20.2h1.7v1.7h-1.7zm-17.5 4.1h1.7v1.7h-1.7zm-6.6 20.6h1.7v1.7h-1.7zm7.5 -22.4h1.7v1.7h-1.7zm-12 25.9h1.7v1.7h-1.7zm27.4 -20.3h1.7v1.7h-1.7zm1.3 2.2h1.7v1.7h-1.7zm15.3 -3.8h1.7v1.7h-1.7zm-20.9 6.9h1.7v1.7h-1.7zm14.9 -7.1h1.7v1.7h-1.7zm-2.2 -7.1h1.7v1.7h-1.7zm-52.1 17.6h1.7v1.7h-1.7zm47.8 -20.6h1.7v1.7h-1.7zm-13.5 4.7h1.7v1.7h-1.7zm2.9 1.7h1.7v1.7h-1.7zm5.3 8h1.7v1.7h-1.7zm-46.9 4.5h1.7v1.7h-1.7zm45.9 1.3h1.7v1.7h-1.7zm-16.9 6h1.7v1.7h-1.7zm-9.8 -0.5h1.7v1.7h-1.7zm27.6 -15.7h1.7v1.7h-1.7zm0.4 5.2h1.7v1.7h-1.7zm-14.7 11.4h1.7v1.7h-1.7zm7.9 -3.3h1.7v1.7h-1.7zm20.5 -18.9h1.7v1.7h-1.7zm-14 9.8h1.7v1.7h-1.7zm40.1 -20.7h1.7v1.7h-1.7zm-49.5 11.9h1.7v1.7h-1.7zm20.1 6.1h1.7v1.7h-1.7zm-11.7 2.8h1.7v1.7h-1.7zm-31.6 28.3h1.7v1.7h-1.7zm18.8 -15.7h1.7v1.7h-1.7zm-26.7 -1h1.7v1.7h-1.7zm-5.8 2.6h1.7v1.7h-1.7zm41.7 -22.8h1.7v1.7h-1.7zm-20.4 20.6h1.7v1.7h-1.7zm7.2 -20.1h1.7v1.7h-1.7zm-12.1 19.4h1.7v1.7h-1.7zm-13.9 -2.6h1.7v1.7h-1.7zm51.8 -7.4h1.7v1.7h-1.7zm-13.4 -8.7h1.7v1.7h-1.7zm-5 16.2h1.7v1.7h-1.7zm-5.1 1.4h1.7v1.7h-1.7zm16.3 -23.2h1.7v1.7h-1.7zm9.6 5.1h1.7v1.7h-1.7zm-21.7 17.3h1.7v1.7h-1.7zm-17.2 1.6h1.7v1.7h-1.7zm25.7 -7.9h1.7v1.7h-1.7zm13 -11.1h1.7v1.7h-1.7zm-53.1 15.1h1.7v1.7h-1.7zm20.2 6.7h1.7v1.7h-1.7zm20.6 -4.3h1.7v1.7h-1.7zm22.3 -20.3h1.7v1.7h-1.7zm-18.5 8.6h1.7v1.7h-1.7zm10.9 -4.6h1.7v1.7h-1.7zm-3.3 5.7h1.7v1.7h-1.7zm-11.6 -6.8h1.7v1.7h-1.7zm-28.3 5.5h1.7v1.7h-1.7zm-44.5 32.5h1.7v1.7h-1.7zm87.1 -39h1.7v1.7h-1.7zm-9.9 2.6h1.7v1.7h-1.7zm-0.2 3.1h1.7v1.7h-1.7zm4.4 3.6h1.7v1.7h-1.7zm-55.3 10.8h1.7v1.7h-1.7zm31.1 2.1h1.7v1.7h-1.7zm7.1 -25.4h1.7v1.7h-1.7zm27 17.4h1.7v1.7h-1.7zm-88.8 10.4h1.7v1.7h-1.7zm40.6 -41.6h1.7v1.7h-1.7zm46.5 18.3h1.7v1.7h-1.7zm3.8 -1.1h1.7v1.7h-1.7zm2.8 9h1.7v1.7h-1.7zm-14.5 -9.3h1.7v1.7h-1.7zm-29 20.1h1.7v1.7h-1.7zm2.1 -0.6h1.7v1.7h-1.7zm20.5 -17.4h1.7v1.7h-1.7zm-9.6 20.4h1.7v1.7h-1.7zm-0.2 -4.5h1.7v1.7h-1.7zm-8.5 -15.2h1.7v1.7h-1.7zm22.6 -7.2h1.7v1.7h-1.7zm-26.1 23.5h1.7v1.7h-1.7zm11.3 -20.5h1.7v1.7h-1.7zm11.9 9.2h1.7v1.7h-1.7zm-48.7 17.1h1.7v1.7h-1.7zm3.8 -7.6h1.7v1.7h-1.7zm43.8 -7h1.7v1.7h-1.7zm10.2 -12h1.7v1.7h-1.7zm-10.3 5.1h1.7v1.7h-1.7zm19.9 12.8h1.7v1.7h-1.7zm-16.5 -14.6h1.7v1.7h-1.7zm-27.2 18.3h1.7v1.7h-1.7zm42.2 -25.2h1.7v1.7h-1.7zm-35.2 5.2h1.7v1.7h-1.7zm13.6 16.5h1.7v1.7h-1.7zm3.1 -14.8h1.7v1.7h-1.7zm-28.2 -4.9h1.7v1.7h-1.7zm1.5 24.2h1.7v1.7h-1.7zm-11.7 -13h1.7v1.7h-1.7zm-1.7 11.5h1.7v1.7h-1.7zm32.8 -18.6h1.7v1.7h-1.7zm-22.1 21.5h1.7v1.7h-1.7zm28.1 -36.1h1.7v1.7h-1.7zm-22.1 17.2h1.7v1.7h-1.7zm-17.5 14.6h1.7v1.7h-1.7zm49 -11.6h1.7v1.7h-1.7zm-54.3 16h1.7v1.7h-1.7zm34.4 0.7h1.7v1.7h-1.7zm-4 -26h1.7v1.7h-1.7zm-25.9 16.9h1.7v1.7h-1.7zm18.9 8.2h1.7v1.7h-1.7zm11.1 -20.1h1.7v1.7h-1.7zm9.5 11.4h1.7v1.7h-1.7zm0.4 -11.3h1.7v1.7h-1.7zm18.7 -4.4h1.7v1.7h-1.7zm-15.6 6.7h1.7v1.7h-1.7zm21.4 5.4h1.7v1.7h-1.7zm-15.3 -14.1h1.7v1.7h-1.7zm-47.2 15h1.7v1.7h-1.7zm37.5 -12.6h1.7v1.7h-1.7zm1.5 5.2h1.7v1.7h-1.7zm-17.7 -0.2h1.7v1.7h-1.7zm12.2 -2.2h1.7v1.7h-1.7zm16.3 -8.8h1.7v1.7h-1.7zm-6.3 19.2h1.7v1.7h-1.7zm-40.3 10h1.7v1.7h-1.7zm39.6 -7.8h1.7v1.7h-1.7zm-13.9 4.2h1.7v1.7h-1.7zm12.8 -17.7h1.7v1.7h-1.7zm0.4 10.4h1.7v1.7h-1.7zm14.9 -8.5h1.7v1.7h-1.7zm-12.7 6.2h1.7v1.7h-1.7zm-10 12.1h1.7v1.7h-1.7zm3.6 -8.8h1.7v1.7h-1.7zm7.6 -2.5h1.7v1.7h-1.7zm-11.1 -12.9h1.7v1.7h-1.7zm-6.4 21.8h1.7v1.7h-1.7zm10.1 -14.6h1.7v1.7h-1.7zm1.9 -1.7h1.7v1.7h-1.7zm-10.3 18.1h1.7v1.7h-1.7zm-39.9 8.4h1.7v1.7h-1.7zm52.1 -19.8h1.7v1.7h-1.7zm-33.2 20.5h1.7v1.7h-1.7zm45.1 -26.5h1.7v1.7h-1.7zm-22.9 14h1.7v1.7h-1.7zm-16.1 -12.5h1.7v1.7h-1.7zm21.3 -1.8h1.7v1.7h-1.7zm9.6 8.8h1.7v1.7h-1.7zm19.4 -11.4h1.7v1.7h-1.7zm-20.5 8.9h1.7v1.7h-1.7zm-21.2 -10.4h1.7v1.7h-1.7zm11.7 24.5h1.7v1.7h-1.7zm2.5 -11.7h1.7v1.7h-1.7zm5.3 -4.3h1.7v1.7h-1.7zm1.9 1.6h1.7v1.7h-1.7zm-4.8 2.7h1.7v1.7h-1.7zm6.5 -8.4h1.7v1.7h-1.7zm-42.8 22.1h1.7v1.7h-1.7zm43.9 -21.4h1.7v1.7h-1.7zm-5.2 -3.2h1.7v1.7h-1.7zm-9.2 3.1h1.7v1.7h-1.7zm38.1 2h1.7v1.7h-1.7zm-32.1 2.9h1.7v1.7h-1.7zm-15.8 9.8h1.7v1.7h-1.7zm-1.4 -15.3h1.7v1.7h-1.7zm5.4 0.2h1.7v1.7h-1.7zm-3 18.9h1.7v1.7h-1.7zm23.4 -24.6h1.7v1.7h-1.7zm-23.8 22.2h1.7v1.7h-1.7zm11.9 -17h1.7v1.7h-1.7zm19 5.8h1.7v1.7h-1.7zm-38.7 -4.4h1.7v1.7h-1.7zm-28.2 25.8h1.7v1.7h-1.7zm59 -23.7h1.7v1.7h-1.7zm-18.1 10.5h1.7v1.7h-1.7zm-24.2 6h1.7v1.7h-1.7zm40.6 -17.6h1.7v1.7h-1.7zm28.5 -14.1h1.7v1.7h-1.7zm-36.3 14.2h1.7v1.7h-1.7zm25.9 -0.7h1.7v1.7h-1.7zm-20.5 -8.9h1.7v1.7h-1.7zm1 13.2h1.7v1.7h-1.7zm-22.1 12.1h1.7v1.7h-1.7zm15.6 -19.1h1.7v1.7h-1.7zm-6.6 -3.2h1.7v1.7h-1.7zm-0.4 4.9h1.7v1.7h-1.7zm-32 19.3h1.7v1.7h-1.7zm7.2 2.4h1.7v1.7h-1.7zm-25.1 6.9h1.7v1.7h-1.7zm47 -12.8h1.7v1.7h-1.7zm3.2 -2.3h1.7v1.7h-1.7zm48.6 -30.4h1.7v1.7h-1.7zm-41.4 15.3h1.7v1.7h-1.7zm11.3 -3.7h1.7v1.7h-1.7zm-60.1 17.2h1.7v1.7h-1.7zm40.5 2.1h1.7v1.7h-1.7zm-41.9 3.8h1.7v1.7h-1.7zm46 -19.7h1.7v1.7h-1.7zm-34.3 9.1h1.7v1.7h-1.7zm-32.5 17.6h1.7v1.7h-1.7zm68.7 -28.5h1.7v1.7h-1.7zm11.8 6.9h1.7v1.7h-1.7zm-53.8 17.1h1.7v1.7h-1.7zm68.5 -24.3h1.7v1.7h-1.7zm-53.3 5.9h1.7v1.7h-1.7zm42 -1.4h1.7v1.7h-1.7zm-8.3 -3.6h1.7v1.7h-1.7zm-3.6 9.6h1.7v1.7h-1.7zm-24.3 -6h1.7v1.7h-1.7zm-25.7 22h1.7v1.7h-1.7zm76.3 -33.3h1.7v1.7h-1.7zm-30.2 21.3h1.7v1.7h-1.7zm15.8 -7.9h1.7v1.7h-1.7zm-5 -3.4h1.7v1.7h-1.7zm1.7 1.4h1.7v1.7h-1.7zm-0.5 10.3h1.7v1.7h-1.7zm-24.7 -16.2h1.7v1.7h-1.7zm-28.9 21.7h1.7v1.7h-1.7zm4.6 2.6h1.7v1.7h-1.7zm54.4 -16.7h1.7v1.7h-1.7zm-9 -2.1h1.7v1.7h-1.7zm14.2 4.5h1.7v1.7h-1.7zm-19.8 9.3h1.7v1.7h-1.7zm10.3 -7.7h1.7v1.7h-1.7zm-36.1 -3.4h1.7v1.7h-1.7zm33.6 0.8h1.7v1.7h-1.7zm13 0.1h1.7v1.7h-1.7zm-23.7 9h1.7v1.7h-1.7zm11.7 2.8h1.7v1.7h-1.7zm-17.8 0.5h1.7v1.7h-1.7zm4.7 -21.6h1.7v1.7h-1.7zm-33.2 22.7h1.7v1.7h-1.7zm4.3 6.5h1.7v1.7h-1.7zm6.6 -24.4h1.7v1.7h-1.7zm24.3 0.7h1.7v1.7h-1.7zm35.6 -5.5h1.7v1.7h-1.7zm-25.3 6.4h1.7v1.7h-1.7zm0.4 -6.1h1.7v1.7h-1.7zm-39.1 9.9h1.7v1.7h-1.7zm-21.9 13.9h1.7v1.7h-1.7zm111.5 -3.9h1.7v1.7h-1.7zm-49.3 -16.3h1.7v1.7h-1.7zm-25.6 20.5h1.7v1.7h-1.7zm20.2 -21.9h1.7v1.7h-1.7zm16.4 3h1.7v1.7h-1.7zm-29.8 -1.8h1.7v1.7h-1.7zm-31.1 10.5h1.7v1.7h-1.7zm46.3 1.7h1.7v1.7h-1.7zm-31.9 -11.9h1.7v1.7h-1.7zm17 14.5h1.7v1.7h-1.7zm10.6 -14.5h1.7v1.7h-1.7zm23.2 0.8h1.7v1.7h-1.7zm-25.8 9.7h1.7v1.7h-1.7zm-12.5 5.7h1.7v1.7h-1.7zm-10.4 2.4h1.7v1.7h-1.7zm34.3 -20.8h1.7v1.7h-1.7zm2.1 -1.5h1.7v1.7h-1.7zm-4.3 13.1h1.7v1.7h-1.7zm-11 5h1.7v1.7h-1.7zm28.4 -14.7h1.7v1.7h-1.7zm-71.8 14.6h1.7v1.7h-1.7zm49.9 -8.2h1.7v1.7h-1.7zm7.5 -5.7h1.7v1.7h-1.7zm-3.5 3.7h1.7v1.7h-1.7zm-2.5 8.2h1.7v1.7h-1.7zm-20.3 6h1.7v1.7h-1.7zm4.2 -1.4h1.7v1.7h-1.7zm10.4 -7.8h1.7v1.7h-1.7zm42.4 -16.9h1.7v1.7h-1.7zm-38.1 8.1h1.7v1.7h-1.7zm-6.2 -0.6h1.7v1.7h-1.7zm-2.6 12.9h1.7v1.7h-1.7zm-32.6 5h1.7v1.7h-1.7zm67.2 -20h1.7v1.7h-1.7zm-69.7 18.1h1.7v1.7h-1.7zm41.6 -9.3h1.7v1.7h-1.7zm5.5 -3.7h1.7v1.7h-1.7zm20.7 6.9h1.7v1.7h-1.7zm-18.1 -18h1.7v1.7h-1.7zm-12.8 21.2h1.7v1.7h-1.7zm-47.7 -3.9h1.7v1.7h-1.7zm60.4 -5.8h1.7v1.7h-1.7zm-1.4 3.1h1.7v1.7h-1.7zm1.5 -7.3h1.7v1.7h-1.7zm-23.6 21.2h1.7v1.7h-1.7zm19 -21.6h1.7v1.7h-1.7zm-4.2 -5h1.7v1.7h-1.7zm14.5 14h1.7v1.7h-1.7zm-17.7 -8.1h1.7v1.7h-1.7zm-1.2 18.2h1.7v1.7h-1.7zm-9.1 -1.1h1.7v1.7h-1.7zm-24.9 1.9h1.7v1.7h-1.7zm-11.7 1.8h1.7v1.7h-1.7zm48 -19.3h1.7v1.7h-1.7zm-18.8 18h1.7v1.7h-1.7zm24.9 -24.7h1.7v1.7h-1.7zm13.4 7.4h1.7v1.7h-1.7zm-21.5 11.4h1.7v1.7h-1.7zm-22.3 -14.3h1.7v1.7h-1.7zm-42.3 8.1h1.7v1.7h-1.7zm52.3 10.1h1.7v1.7h-1.7zm-21.6 1.6h1.7v1.7h-1.7zm25.6 -18.9h1.7v1.7h-1.7zm-18.1 5.6h1.7v1.7h-1.7zm35.8 -5h1.7v1.7h-1.7zm-3.4 1.4h1.7v1.7h-1.7zm-24 -6.2h1.7v1.7h-1.7zm23.6 14.4h1.7v1.7h-1.7zm-47.7 6.6h1.7v1.7h-1.7zm9.3 6.7h1.7v1.7h-1.7zm24.8 -6.7h1.7v1.7h-1.7zm4.1 -18h1.7v1.7h-1.7zm-3.9 3h1.7v1.7h-1.7zm22 -0.3h1.7v1.7h-1.7zm-33.3 0.7h1.7v1.7h-1.7zm13.3 14.2h1.7v1.7h-1.7zm8.6 -14.5h1.7v1.7h-1.7zm3.7 3.7h1.7v1.7h-1.7zm-11 -13.9h1.7v1.7h-1.7zm-20.2 31.2h1.7v1.7h-1.7zm46 -27h1.7v1.7h-1.7zm-21.7 6h1.7v1.7h-1.7zm20 0.3h1.7v1.7h-1.7zm-26.3 14.1h1.7v1.7h-1.7zm17.6 -13.4h1.7v1.7h-1.7zm-22.5 18h1.7v1.7h-1.7zm0.9 -1.4h1.7v1.7h-1.7zm-2.5 -1.8h1.7v1.7h-1.7zm-27.3 1.9h1.7v1.7h-1.7zm36.6 -4.8h1.7v1.7h-1.7zm-24 5.7h1.7v1.7h-1.7zm4.9 -18.8h1.7v1.7h-1.7zm17.4 19.2h1.7v1.7h-1.7zm12.7 -20h1.7v1.7h-1.7zm4.9 8.1h1.7v1.7h-1.7zm-9.7 -6.4h1.7v1.7h-1.7zm-0.9 -1.6h1.7v1.7h-1.7zm-32.1 6.3h1.7v1.7h-1.7zm2.5 14.4h1.7v1.7h-1.7zm13.8 -20.4h1.7v1.7h-1.7zm-25.8 3h1.7v1.7h-1.7zm37.5 9h1.7v1.7h-1.7zm-26.6 -7h1.7v1.7h-1.7zm28 9.6h1.7v1.7h-1.7zm-37.5 -4.8h1.7v1.7h-1.7zm46.7 -4.9h1.7v1.7h-1.7zm-2.9 8h1.7v1.7h-1.7zm13.8 -13.3h1.7v1.7h-1.7zm-11 15h1.7v1.7h-1.7zm0.2 -2h1.7v1.7h-1.7zm-19.2 7.3h1.7v1.7h-1.7zm22 -12h1.7v1.7h-1.7zm-9.5 -6.4h1.7v1.7h-1.7zm-7.1 17.3h1.7v1.7h-1.7zm-35.4 -0.9h1.7v1.7h-1.7zm49 -10h1.7v1.7h-1.7zm-51.5 11.2h1.7v1.7h-1.7zm52.2 -26.5h1.7v1.7h-1.7zm-5.8 18h1.7v1.7h-1.7zm-38.7 20.4h1.7v1.7h-1.7zm45 -21.6h1.7v1.7h-1.7zm-22.1 10h1.7v1.7h-1.7zm14.9 -4.3h1.7v1.7h-1.7zm20.4 -4.5h1.7v1.7h-1.7zm-59.7 -3h1.7v1.7h-1.7zm44.7 5.1h1.7v1.7h-1.7zm7.7 -4.1h1.7v1.7h-1.7zm-34.7 9.7h1.7v1.7h-1.7zm-14.6 1.8h1.7v1.7h-1.7zm41.4 -20.5h1.7v1.7h-1.7zm-0.9 11.8h1.7v1.7h-1.7zm-4.1 0.1h1.7v1.7h-1.7zm4.8 -2.2h1.7v1.7h-1.7zm-2.6 2.3h1.7v1.7h-1.7zm18.6 -11.4h1.7v1.7h-1.7zm-21.2 -4.3h1.7v1.7h-1.7zm14.4 9.2h1.7v1.7h-1.7zm-43.1 0.3h1.7v1.7h-1.7zm27.4 7h1.7v1.7h-1.7zm27.2 -4.6h1.7v1.7h-1.7zm-22.7 -5.7h1.7v1.7h-1.7zm-44.4 13.2h1.7v1.7h-1.7zm9.4 -10.6h1.7v1.7h-1.7zm28.5 15.8h1.7v1.7h-1.7zm8.4 -16.7h1.7v1.7h-1.7zm-4.1 19.5h1.7v1.7h-1.7zm2.3 -18.3h1.7v1.7h-1.7zm-1.4 5.6h1.7v1.7h-1.7zm-44.1 10.5h1.7v1.7h-1.7zm58.6 -8.6h1.7v1.7h-1.7zm-46.7 6.4h1.7v1.7h-1.7zm13.8 -0.3h1.7v1.7h-1.7zm15.2 -7.6h1.7v1.7h-1.7zm-42.8 8.1h1.7v1.7h-1.7zm59.1 -21.1h1.7v1.7h-1.7zm-6.2 7.8h1.7v1.7h-1.7zm-5.8 -6.6h1.7v1.7h-1.7zm16.1 5.9h1.7v1.7h-1.7zm-41.3 12.8h1.7v1.7h-1.7zm37.9 -15.3h1.7v1.7h-1.7zm33.7 -6.6h1.7v1.7h-1.7zm-77.6 7.6h1.7v1.7h-1.7zm32.9 -6.9h1.7v1.7h-1.7zm1.2 4.3h1.7v1.7h-1.7zm-46.4 14.6h1.7v1.7h-1.7zm11.6 5.9h1.7v1.7h-1.7zm25.9 -9.9h1.7v1.7h-1.7zm-10.9 5.9h1.7v1.7h-1.7zm17.7 -5.2h1.7v1.7h-1.7zm-0.4 0h1.7v1.7h-1.7zm7.5 -4.7h1.7v1.7h-1.7zm-37.7 11.7h1.7v1.7h-1.7zm30 -20.9h1.7v1.7h-1.7zm-10.1 2.1h1.7v1.7h-1.7zm11.6 5.1h1.7v1.7h-1.7zm1 2h1.7v1.7h-1.7zm-2.9 -4.2h1.7v1.7h-1.7zm10.6 -2.7h1.7v1.7h-1.7zm-10.7 2.3h1.7v1.7h-1.7zm14.9 -12.8h1.7v1.7h-1.7zm-37.3 30.3h1.7v1.7h-1.7zm-26.3 5.4h1.7v1.7h-1.7zm30.1 -6.1h1.7v1.7h-1.7zm35.3 -14.6h1.7v1.7h-1.7zm-27.8 10.6h1.7v1.7h-1.7zm10.4 -5.4h1.7v1.7h-1.7zm-40.5 6.3h1.7v1.7h-1.7zm36.7 -16.3h1.7v1.7h-1.7zm16.2 -2.4h1.7v1.7h-1.7zm-9.4 0.9h1.7v1.7h-1.7zm-79.4 9.9h1.7v1.7h-1.7zm79.3 -11.8h1.7v1.7h-1.7zm4.9 13.6h1.7v1.7h-1.7zm-6.6 0.6h1.7v1.7h-1.7zm5.6 -8.2h1.7v1.7h-1.7zm-8.6 -4.4h1.7v1.7h-1.7zm-11.6 16.3h1.7v1.7h-1.7zm15.9 -10.4h1.7v1.7h-1.7zm-19.8 15.2h1.7v1.7h-1.7zm2.5 -22.1h1.7v1.7h-1.7zm-6.6 19.7h1.7v1.7h-1.7zm36.6 -16.7h1.7v1.7h-1.7zm-9.6 1.2h1.7v1.7h-1.7zm12.3 -1.8h1.7v1.7h-1.7zm-26.6 13.6h1.7v1.7h-1.7zm-5.9 2.7h1.7v1.7h-1.7zm21.4 -4.1h1.7v1.7h-1.7zm9.8 -11h1.7v1.7h-1.7zm-42.5 2.2h1.7v1.7h-1.7zm22.5 -2.8h1.7v1.7h-1.7zm16 11.1h1.7v1.7h-1.7zm-8 -9.7h1.7v1.7h-1.7zm-27.3 -8.5h1.7v1.7h-1.7zm-28.5 9.8h1.7v1.7h-1.7zm35.1 16h1.7v1.7h-1.7zm-2.2 -20.3h1.7v1.7h-1.7zm-5.7 2.1h1.7v1.7h-1.7zm18.2 10.6h1.7v1.7h-1.7zm14.1 -9.9h1.7v1.7h-1.7zm-49.2 15.3h1.7v1.7h-1.7zm34.6 -20.5h1.7v1.7h-1.7zm-9.4 0.7h1.7v1.7h-1.7zm10.8 14.8h1.7v1.7h-1.7zm-0.6 15.9h1.7v1.7h-1.7zm-12 -28.7h1.7v1.7h-1.7zm30.9 10.9h1.7v1.7h-1.7zm-9.4 -3h1.7v1.7h-1.7zm4.7 1.6h1.7v1.7h-1.7zm-1.8 -6h1.7v1.7h-1.7zm-30.8 -4.3h1.7v1.7h-1.7zm3.4 19.7h1.7v1.7h-1.7zm16.1 -3.8h1.7v1.7h-1.7zm-13.8 2.6h1.7v1.7h-1.7zm29.8 -10.8h1.7v1.7h-1.7zm-54.9 -0.2h1.7v1.7h-1.7zm79.5 -17.8h1.7v1.7h-1.7zm-30 25.3h1.7v1.7h-1.7zm-37.8 6h1.7v1.7h-1.7zm56.8 -23.4h1.7v1.7h-1.7zm-68.4 32h1.7v1.7h-1.7zm31.5 -30.2h1.7v1.7h-1.7zm-35.7 10.5h1.7v1.7h-1.7zm10.5 -8.3h1.7v1.7h-1.7zm28.4 14.8h1.7v1.7h-1.7zm6.4 -14.1h1.7v1.7h-1.7zm-22.5 19.7h1.7v1.7h-1.7zm-11.8 -14.9h1.7v1.7h-1.7zm22 -8.3h1.7v1.7h-1.7zm-4.3 2.9h1.7v1.7h-1.7zm24 15.6h1.7v1.7h-1.7zm-2.9 -16.1h1.7v1.7h-1.7zm-40.8 2.6h1.7v1.7h-1.7zm49.5 9.8h1.7v1.7h-1.7zm-16.4 -20.2h1.7v1.7h-1.7zm25.8 12.3h1.7v1.7h-1.7zm-36.6 16.6h1.7v1.7h-1.7zm21.6 -18.9h1.7v1.7h-1.7zm-13.8 -3.6h1.7v1.7h-1.7zm-38.9 21.7h1.7v1.7h-1.7zm36.1 1.4h1.7v1.7h-1.7zm27.9 -25.5h1.7v1.7h-1.7zm-45 26.9h1.7v1.7h-1.7zm60.1 -34.1h1.7v1.7h-1.7zm-33 7h1.7v1.7h-1.7zm-5.3 19.4h1.7v1.7h-1.7zm13.8 -1.3h1.7v1.7h-1.7zm5.7 -11.9h1.7v1.7h-1.7zm-19.1 -4.2h1.7v1.7h-1.7zm13.4 6.9h1.7v1.7h-1.7zm-30.2 14.9h1.7v1.7h-1.7zm9.6 -23.5h1.7v1.7h-1.7zm-32.4 18.8h1.7v1.7h-1.7zm33.9 -29.7h1.7v1.7h-1.7zm-48.6 34.3h1.7v1.7h-1.7zm47.2 -1.2h1.7v1.7h-1.7zm26.5 -18h1.7v1.7h-1.7zm-63.1 24.9h1.7v1.7h-1.7zm58.6 -31.1h1.7v1.7h-1.7zm-6 21.5h1.7v1.7h-1.7zm12 -1.1h1.7v1.7h-1.7zm-3.6 -14.9h1.7v1.7h-1.7zm-9.6 -4.7h1.7v1.7h-1.7zm13.5 5.3h1.7v1.7h-1.7zm-20.8 15.4h1.7v1.7h-1.7zm22.2 -12.6h1.7v1.7h-1.7zm-89.8 12.7h1.7v1.7h-1.7zm58.1 5.9h1.7v1.7h-1.7zm53.7 -7.1h1.7v1.7h-1.7zm-29.3 -5.6h1.7v1.7h-1.7zm-7.8 -1.7h1.7v1.7h-1.7zm-19.1 13.2h1.7v1.7h-1.7zm21.6 -22.5h1.7v1.7h-1.7zm-0.6 7.5h1.7v1.7h-1.7zm-3.1 -3.9h1.7v1.7h-1.7zm0.5 3.6h1.7v1.7h-1.7zm-22.1 -4.5h1.7v1.7h-1.7zm11.3 15.3h1.7v1.7h-1.7zm7.5 -19h1.7v1.7h-1.7zm-16.8 21.6h1.7v1.7h-1.7zm22.5 -21.3h1.7v1.7h-1.7zm-56.7 27.5h1.7v1.7h-1.7zm19.4 -5.6h1.7v1.7h-1.7zm49.7 -3.9h1.7v1.7h-1.7zm6.6 -14.4h1.7v1.7h-1.7zm-17.2 3.5h1.7v1.7h-1.7zm4.1 1.2h1.7v1.7h-1.7zm-35.7 13.4h1.7v1.7h-1.7zm20.8 1.3h1.7v1.7h-1.7zm23.9 -16.5h1.7v1.7h-1.7zm-21.3 -5.7h1.7v1.7h-1.7zm6.2 1.3h1.7v1.7h-1.7zm5.3 9.7h1.7v1.7h-1.7zm-9.4 -9.1h1.7v1.7h-1.7zm-4.2 -14.9h1.7v1.7h-1.7zm17.5 13.7h1.7v1.7h-1.7zm-52.7 16h1.7v1.7h-1.7zm45.4 -5.2h1.7v1.7h-1.7zm-22.3 8.8h1.7v1.7h-1.7zm-6.3 5.1h1.7v1.7h-1.7zm23.7 -28.8h1.7v1.7h-1.7zm7.1 12h1.7v1.7h-1.7zm-16.6 8h1.7v1.7h-1.7zm-7.4 2.3h1.7v1.7h-1.7zm-16.6 4.4h1.7v1.7h-1.7zm46.8 -16.7h1.7v1.7h-1.7zm-35.1 -7.6h1.7v1.7h-1.7zm-14.7 7.8h1.7v1.7h-1.7zm3 16.6h1.7v1.7h-1.7zm40.1 -30.2h1.7v1.7h-1.7zm-7.5 8.8h1.7v1.7h-1.7zm-43.2 27.2h1.7v1.7h-1.7zm-7.4 4.3h1.7v1.7h-1.7zm74.8 -25h1.7v1.7h-1.7zm-50.9 12.6h1.7v1.7h-1.7zm27.8 -10.2h1.7v1.7h-1.7zm-6.7 8.1h1.7v1.7h-1.7zm-36.7 -6.2h1.7v1.7h-1.7zm82.2 -22.8h1.7v1.7h-1.7zm-79.5 37.9h1.7v1.7h-1.7zm32.6 -8.4h1.7v1.7h-1.7zm-1.4 -19.5h1.7v1.7h-1.7zm19.7 7.2h1.7v1.7h-1.7zm-19.6 15.3h1.7v1.7h-1.7zm-33.1 -0.8h1.7v1.7h-1.7zm50 -12.5h1.7v1.7h-1.7zm11.5 0.9h1.7v1.7h-1.7zm-18.6 3.2h1.7v1.7h-1.7zm13.5 -17.7h1.7v1.7h-1.7zm-13.7 8.7h1.7v1.7h-1.7zm-41 24.3h1.7v1.7h-1.7zm25 -10.8h1.7v1.7h-1.7zm29.2 -9.7h1.7v1.7h-1.7zm-55.4 13.5h1.7v1.7h-1.7zm45.6 -17.9h1.7v1.7h-1.7zm12.8 -1.4h1.7v1.7h-1.7zm-14.8 5.2h1.7v1.7h-1.7zm5.6 5.2h1.7v1.7h-1.7zm-0.5 -1.9h1.7v1.7h-1.7zm-18.3 -10.2h1.7v1.7h-1.7zm7.3 16.1h1.7v1.7h-1.7zm1.4 -14h1.7v1.7h-1.7zm11.5 1h1.7v1.7h-1.7zm-5.3 -0.1h1.7v1.7h-1.7zm-37.7 0.1h1.7v1.7h-1.7zm-1.9 2.5h1.7v1.7h-1.7zm43.5 4.2h1.7v1.7h-1.7zm7.3 -4.9h1.7v1.7h-1.7zm-11.1 0.9h1.7v1.7h-1.7zm-19 -18.2h1.7v1.7h-1.7zm6.1 31h1.7v1.7h-1.7zm10.5 -4.2h1.7v1.7h-1.7zm-14.7 -17.4h1.7v1.7h-1.7zm3.6 -2.8h1.7v1.7h-1.7zm16.9 0.1h1.7v1.7h-1.7zm-2 15.6h1.7v1.7h-1.7zm-24.3 -9.6h1.7v1.7h-1.7zm8.4 19.6h1.7v1.7h-1.7zm8.7 -6.1h1.7v1.7h-1.7zm-27.8 -11h1.7v1.7h-1.7zm35.7 -5h1.7v1.7h-1.7zm-4.8 13.3h1.7v1.7h-1.7zm-2.4 -10.3h1.7v1.7h-1.7zm4.2 3.2h1.7v1.7h-1.7zm-13.6 -4.5h1.7v1.7h-1.7zm-10.4 25h1.7v1.7h-1.7zm-44.3 -0.1h1.7v1.7h-1.7zm25.2 -9.9h1.7v1.7h-1.7zm43.2 -4.2h1.7v1.7h-1.7zm-8.7 -17.1h1.7v1.7h-1.7zm-22.3 32.5h1.7v1.7h-1.7zm1.7 0.6h1.7v1.7h-1.7zm30.1 -16h1.7v1.7h-1.7zm-3.3 -1.8h1.7v1.7h-1.7zm-7 -11.6h1.7v1.7h-1.7zm17 3.8h1.7v1.7h-1.7zm-2.7 7.8h1.7v1.7h-1.7zm-5.4 -6h1.7v1.7h-1.7zm-7.9 14.5h1.7v1.7h-1.7zm25.9 -14h1.7v1.7h-1.7zm-71.9 24.3h1.7v1.7h-1.7zm19.3 -22.3h1.7v1.7h-1.7zm-1.7 -2.6h1.7v1.7h-1.7zm37.2 2h1.7v1.7h-1.7zm60.2 -12.7h1.7v1.7h-1.7zm-64.1 33.6h1.7v1.7h-1.7zm-28.6 2.4h1.7v1.7h-1.7zm-33.2 -9.3h1.7v1.7h-1.7zm63.1 -18.7h1.7v1.7h-1.7zm-5.5 0.5h1.7v1.7h-1.7zm-2.6 -9.3h1.7v1.7h-1.7zm14.9 19h1.7v1.7h-1.7zm-35.8 -4.2h1.7v1.7h-1.7zm38.2 -2.2h1.7v1.7h-1.7zm-4.5 4.6h1.7v1.7h-1.7zm-7.8 -6.6h1.7v1.7h-1.7zm-8.6 15.7h1.7v1.7h-1.7zm10 -25.8h1.7v1.7h-1.7zm-52.4 20.5h1.7v1.7h-1.7zm11.6 0.5h1.7v1.7h-1.7zm5 19.4h1.7v1.7h-1.7zm34.2 -29.5h1.7v1.7h-1.7zm-6.2 -2.9h1.7v1.7h-1.7zm4 0.1h1.7v1.7h-1.7zm-14.9 22.6h1.7v1.7h-1.7zm42 -25.7h1.7v1.7h-1.7zm-72.1 20.9h1.7v1.7h-1.7zm56.4 -12.5h1.7v1.7h-1.7zm-30.8 14.3h1.7v1.7h-1.7zm39.1 -11.9h1.7v1.7h-1.7zm-18 -4.8h1.7v1.7h-1.7zm6.8 -2.2h1.7v1.7h-1.7zm-2.3 16.1h1.7v1.7h-1.7zm9.2 -6.7h1.7v1.7h-1.7zm-8.3 -8.8h1.7v1.7h-1.7zm-26.6 23.3h1.7v1.7h-1.7zm-18.9 -4.7h1.7v1.7h-1.7zm11.8 1.3h1.7v1.7h-1.7zm-10.7 -6.8h1.7v1.7h-1.7zm5 -6.8h1.7v1.7h-1.7zm36.3 10.5h1.7v1.7h-1.7zm-11 4.4h1.7v1.7h-1.7zm22.4 -26.1h1.7v1.7h-1.7zm3 7.8h1.7v1.7h-1.7zm-12 6.4h1.7v1.7h-1.7zm-8.5 3.9h1.7v1.7h-1.7zm-0.3 -12.8h1.7v1.7h-1.7zm-16.2 1.6h1.7v1.7h-1.7zm-1.5 22.2h1.7v1.7h-1.7zm-16.6 -24h1.7v1.7h-1.7zm1.4 19.3h1.7v1.7h-1.7zm11.1 -16.3h1.7v1.7h-1.7zm26 -1.4h1.7v1.7h-1.7zm5.9 0h1.7v1.7h-1.7zm-1.6 5.8h1.7v1.7h-1.7zm-1 0.9h1.7v1.7h-1.7zm-0.9 1.2h1.7v1.7h-1.7zm5.3 -13.1h1.7v1.7h-1.7zm-47.5 28h1.7v1.7h-1.7zm48.7 -21h1.7v1.7h-1.7zm8.9 -21.1h1.7v1.7h-1.7zm-32.5 -4.1h1.7v1.7h-1.7zm63.3 12.1h1.7v1.7h-1.7zm40.4 -42.3h1.7v1.7h-1.7zm-49.9 30.5h1.7v1.7h-1.7zm30.3 -16.3h1.7v1.7h-1.7zm-33.9 37.8h1.7v1.7h-1.7zm-29.9 -7.4h1.7v1.7h-1.7zm14.4 3.5h1.7v1.7h-1.7zm2.9 -9.3h1.7v1.7h-1.7zm-9.6 11.9h1.7v1.7h-1.7zm65.2 -49.1h1.7v1.7h-1.7zm-75.4 45.5h1.7v1.7h-1.7zm92.1 -41.9h1.7v1.7h-1.7zm-82.1 27.9h1.7v1.7h-1.7zm-10.4 17h1.7v1.7h-1.7zm-7.9 -13.7h1.7v1.7h-1.7zm29.9 0.6h1.7v1.7h-1.7zm-14 -1.2h1.7v1.7h-1.7zm54.2 -0.2h1.7v1.7h-1.7zm-37.8 -2.9h1.7v1.7h-1.7zm-17 -1.3h1.7v1.7h-1.7zm32.4 3.1h1.7v1.7h-1.7zm9.9 -5.5h1.7v1.7h-1.7zm-23.6 21.5h1.7v1.7h-1.7zm-27.1 -1.1h1.7v1.7h-1.7zm41.4 -37.3h1.7v1.7h-1.7zm-41 66.3h1.7v1.7h-1.7zm30.6 -32.1h1.7v1.7h-1.7zm-1.7 8.5h1.7v1.7h-1.7zm3.1 -40.8h1.7v1.7h-1.7zm44.3 2.1h1.7v1.7h-1.7zm-72.7 37.4h1.7v1.7h-1.7zm10.6 6.2h1.7v1.7h-1.7zm-3.1 -19.9h1.7v1.7h-1.7zm4.5 26.2h1.7v1.7h-1.7zm2.9 -18.8h1.7v1.7h-1.7zm10 10.2h1.7v1.7h-1.7zm-25.7 -20.8h1.7v1.7h-1.7zm15.2 30.1h1.7v1.7h-1.7zm21.1 -33h1.7v1.7h-1.7zm39.8 -7h1.7v1.7h-1.7zm-64.1 44.6h1.7v1.7h-1.7zm10.1 -46.8h1.7v1.7h-1.7zm53.8 16.9h1.7v1.7h-1.7zm-52.6 -15.3h1.7v1.7h-1.7zm-32.8 47.2h1.7v1.7h-1.7zm62.9 -53.3h1.7v1.7h-1.7zm-34.6 -3.6h1.7v1.7h-1.7zm15.3 53.2h1.7v1.7h-1.7zm-17.1 -3.7h1.7v1.7h-1.7zm30.6 -58.4h1.7v1.7h-1.7zm-30.9 38.5h1.7v1.7h-1.7zm-14.4 15.7h1.7v1.7h-1.7zm6.6 -14.5h1.7v1.7h-1.7zm1.7 3.1h1.7v1.7h-1.7zm-0.2 -18.4h1.7v1.7h-1.7zm39.3 3.7h1.7v1.7h-1.7zm-59.9 13.5h1.7v1.7h-1.7zm17.5 -21.4h1.7v1.7h-1.7zm79.1 -38.8h1.7v1.7h-1.7zm-39.5 52h1.7v1.7h-1.7zm-30.1 1.9h1.7v1.7h-1.7zm-17.9 17h1.7v1.7h-1.7zm0.3 3.5h1.7v1.7h-1.7zm6.9 -10.3h1.7v1.7h-1.7zm-1.4 4.6h1.7v1.7h-1.7zm-4.2 14.1h1.7v1.7h-1.7zm23.7 -3.7h1.7v1.7h-1.7zm-30.6 -4.1h1.7v1.7h-1.7zm63.2 -36.6h1.7v1.7h-1.7zm-56 12.3h1.7v1.7h-1.7zm5.3 14h1.7v1.7h-1.7zm13.7 -0.7h1.7v1.7h-1.7zm-33.8 -6.3h1.7v1.7h-1.7zm13 -1h1.7v1.7h-1.7zm12.2 7.7h1.7v1.7h-1.7zm7.7 -3.7h1.7v1.7h-1.7zm-37.6 -20.8h1.7v1.7h-1.7zm105.2 -9.7h1.7v1.7h-1.7zm-47.3 26h1.7v1.7h-1.7zm-28.6 29.6h1.7v1.7h-1.7zm-33.8 -25.1h1.7v1.7h-1.7zm88.4 -27.9h1.7v1.7h-1.7zm-66.7 6.7h1.7v1.7h-1.7zm12.6 21.6h1.7v1.7h-1.7zm57.5 -35.7h1.7v1.7h-1.7zm-47.2 13.3h1.7v1.7h-1.7zm-10.7 3.6h1.7v1.7h-1.7zm14.4 28.8h1.7v1.7h-1.7zm-41.6 -25.2h1.7v1.7h-1.7zm24.5 10h1.7v1.7h-1.7zm-3.7 5.5h1.7v1.7h-1.7zm2.5 3.7h1.7v1.7h-1.7zm14.2 -2.2h1.7v1.7h-1.7zm-7.5 -1.7h1.7v1.7h-1.7zm62.6 -0.3h1.7v1.7h-1.7zm-90 -3.1h1.7v1.7h-1.7zm-11.5 5.4h1.7v1.7h-1.7zm30.2 9.4h1.7v1.7h-1.7zm28.4 -22.1h1.7v1.7h-1.7zm-35.2 -16.8h1.7v1.7h-1.7zm-1.7 23.1h1.7v1.7h-1.7zm9.7 11h1.7v1.7h-1.7zm21.6 -31.6h1.7v1.7h-1.7zm-22.2 35.1h1.7v1.7h-1.7zm14.2 -17.8h1.7v1.7h-1.7zm24.6 0h1.7v1.7h-1.7zm2.2 -21.8h1.7v1.7h-1.7zm-46.2 27.2h1.7v1.7h-1.7zm83.2 -21.2h1.7v1.7h-1.7zm-41.1 11.7h1.7v1.7h-1.7zm-34.4 20h1.7v1.7h-1.7zm-5.1 -2.8h1.7v1.7h-1.7zm21.5 -3.1h1.7v1.7h-1.7zm-0.9 2.8h1.7v1.7h-1.7zm-12.6 -10.4h1.7v1.7h-1.7zm-14.7 23.2h1.7v1.7h-1.7zm-1 -20.2h1.7v1.7h-1.7zm10.2 8.2h1.7v1.7h-1.7zm42.4 -17.1h1.7v1.7h-1.7zm28.3 -13.6h1.7v1.7h-1.7zm-64.1 23.6h1.7v1.7h-1.7zm48.7 -23.9h1.7v1.7h-1.7zm-30.4 10.3h1.7v1.7h-1.7zm-9.5 9.8h1.7v1.7h-1.7zm-17.8 18.2h1.7v1.7h-1.7zm-5.8 -28.1h1.7v1.7h-1.7zm21.4 -3.9h1.7v1.7h-1.7zm0.3 2.7h1.7v1.7h-1.7zm-5.1 4.5h1.7v1.7h-1.7zm-0.3 1.2h1.7v1.7h-1.7zm-7.1 12.5h1.7v1.7h-1.7zm12.4 -12.8h1.7v1.7h-1.7zm-0.8 -25.5h1.7v1.7h-1.7zm-30.7 28.9h1.7v1.7h-1.7zm13.6 -1.6h1.7v1.7h-1.7zm8.8 17h1.7v1.7h-1.7zm-0.1 -10.9h1.7v1.7h-1.7zm39.5 -42.6h1.7v1.7h-1.7zm-24.1 33.2h1.7v1.7h-1.7zm-36.1 1.8h1.7v1.7h-1.7zm18.7 -1.3h1.7v1.7h-1.7zm13.9 0.7h1.7v1.7h-1.7zm50.9 -38.3h1.7v1.7h-1.7zm-67.4 50.1h1.7v1.7h-1.7zm-0.4 -6.2h1.7v1.7h-1.7zm16.8 3.9h1.7v1.7h-1.7zm19.1 -44.9h1.7v1.7h-1.7zm-19.5 40.3h1.7v1.7h-1.7zm-25.3 5.5h1.7v1.7h-1.7zm7.4 -12.1h1.7v1.7h-1.7zm-4.7 23.7h1.7v1.7h-1.7zm34.9 -20.6h1.7v1.7h-1.7zm-21.4 18h1.7v1.7h-1.7zm5.8 -9.8h1.7v1.7h-1.7zm34.2 -11.8h1.7v1.7h-1.7zm-42.6 8.3h1.7v1.7h-1.7zm-0.8 14.8h1.7v1.7h-1.7zm-4.1 -5h1.7v1.7h-1.7zm27.7 -20.6h1.7v1.7h-1.7zm45.8 -9.9h1.7v1.7h-1.7zm-80.4 12.3h1.7v1.7h-1.7zm-50.4 26.3h1.7v1.7h-1.7zm-2.9 5.5h1.7v1.7h-1.7zm-22.4 9.3h1.7v1.7h-1.7zm7.2 -15.1h1.7v1.7h-1.7zm16.2 7.7h1.7v1.7h-1.7zm7.4 5.9h1.7v1.7h-1.7zm-8.6 -5.2h1.7v1.7h-1.7zm0.7 -6.4h1.7v1.7h-1.7zm-19.8 16.7h1.7v1.7h-1.7zm13.5 -16.9h1.7v1.7h-1.7zm-14.7 3.7h1.7v1.7h-1.7zm-2.3 -9.2h1.7v1.7h-1.7zm4.4 18.8h1.7v1.7h-1.7zm17.6 -13.7h1.7v1.7h-1.7zm0.6 16.6h1.7v1.7h-1.7zm-5.9 -7.5h1.7v1.7h-1.7zm-5.1 -2.5h1.7v1.7h-1.7zm-6.4 -0.6h1.7v1.7h-1.7zm1.2 3h1.7v1.7h-1.7zm19.2 -4.4h1.7v1.7h-1.7zm-16.1 7.6h1.7v1.7h-1.7zm13.7 -4.5h1.7v1.7h-1.7zm-15.3 -1.7h1.7v1.7h-1.7zm29.1 -8.9h1.7v1.7h-1.7zm-31.8 7.2h1.7v1.7h-1.7zm5.7 -3.9h1.7v1.7h-1.7zm21 -6.6h1.7v1.7h-1.7zm-3.9 22.5h1.7v1.7h-1.7zm-2.3 -8.7h1.7v1.7h-1.7zm-7.7 -0.7h1.7v1.7h-1.7zm-15 7.1h1.7v1.7h-1.7zm-2.4 -11.5h1.7v1.7h-1.7zm14 -1.3h1.7v1.7h-1.7zm18.7 1.6h1.7v1.7h-1.7zm-33 6.4h1.7v1.7h-1.7zm0.6 -8.3h1.7v1.7h-1.7zm33.2 3.4h1.7v1.7h-1.7zm-21.9 5.1h1.7v1.7h-1.7zm-0.1 -8.7h1.7v1.7h-1.7zm0.2 3.1h1.7v1.7h-1.7zm174.1 -77.8h1.7v1.7h-1.7zm14.7 2.5h1.7v1.7h-1.7zm-33.8 6.6h1.7v1.7h-1.7zm-27.1 2.9h1.7v1.7h-1.7zm4.1 1.8h1.7v1.7h-1.7zm13.8 3.6h1.7v1.7h-1.7zm13.3 -0.5h1.7v1.7h-1.7zm-4.5 5.8h1.7v1.7h-1.7zm-15.5 18.8h1.7v1.7h-1.7zm12.6 -0.2h1.7v1.7h-1.7zm-37.6 -24.5h1.7v1.7h-1.7zm3.8 10.6h1.7v1.7h-1.7zm4.8 6.6h1.7v1.7h-1.7zm-47.6 -14.9h1.7v1.7h-1.7zm4.8 1.7h1.7v1.7h-1.7zm-42.8 6.6h1.7v1.7h-1.7zm-78.5 61.4h1.7v1.7h-1.7z"/>
<g transform="translate(598 144) rotate(-14)" filter="url(#bl)">
<ellipse rx="24" ry="8.6" fill="#34a9df"/>
<ellipse rx="19" ry="7" fill="#7cbf2e"/>
<ellipse rx="8.5" ry="4.2" fill="#f2d81e"/>
<ellipse rx="5" ry="3" fill="#e63222"/>
</g>
<line x1="46.3" y1="328.5" x2="46.3" y2="477.6" stroke="#a8a8a8" stroke-width="0.8" />
<line x1="44.7" y1="477.6" x2="46.3" y2="477.6" stroke="#a8a8a8" stroke-width="0.8" />
<text x="41.3" y="480.7" font-size="8.6" text-anchor="end" fill="#222">0</text>
<line x1="44.7" y1="447.8" x2="46.3" y2="447.8" stroke="#a8a8a8" stroke-width="0.8" />
<text x="41.3" y="450.9" font-size="8.6" text-anchor="end" fill="#222">100</text>
<line x1="44.7" y1="418" x2="46.3" y2="418" stroke="#a8a8a8" stroke-width="0.8" />
<text x="41.3" y="421.1" font-size="8.6" text-anchor="end" fill="#222">200</text>
<line x1="44.7" y1="388.1" x2="46.3" y2="388.1" stroke="#a8a8a8" stroke-width="0.8" />
<text x="41.3" y="391.2" font-size="8.6" text-anchor="end" fill="#222">300</text>
<line x1="44.7" y1="358.3" x2="46.3" y2="358.3" stroke="#a8a8a8" stroke-width="0.8" />
<text x="41.3" y="361.4" font-size="8.6" text-anchor="end" fill="#222">400</text>
<line x1="44.7" y1="328.5" x2="46.3" y2="328.5" stroke="#a8a8a8" stroke-width="0.8" />
<text x="41.3" y="331.6" font-size="8.6" text-anchor="end" fill="#222">500</text>
<line x1="116.6" y1="483.3" x2="311.4" y2="483.3" stroke="#a8a8a8" stroke-width="0.8" />
<line x1="116.6" y1="483.3" x2="116.6" y2="485.6" stroke="#a8a8a8" stroke-width="0.8" />
<text x="116.6" y="498.5" font-size="10" text-anchor="middle" fill="#222">−4</text>
<line x1="165.3" y1="483.3" x2="165.3" y2="485.6" stroke="#a8a8a8" stroke-width="0.8" />
<text x="165.3" y="498.5" font-size="10" text-anchor="middle" fill="#222">−2</text>
<line x1="214" y1="483.3" x2="214" y2="485.6" stroke="#a8a8a8" stroke-width="0.8" />
<text x="214" y="498.5" font-size="10" text-anchor="middle" fill="#222">0</text>
<line x1="262.7" y1="483.3" x2="262.7" y2="485.6" stroke="#a8a8a8" stroke-width="0.8" />
<text x="262.7" y="498.5" font-size="10" text-anchor="middle" fill="#222">2</text>
<line x1="311.4" y1="483.3" x2="311.4" y2="485.6" stroke="#a8a8a8" stroke-width="0.8" />
<text x="311.4" y="498.5" font-size="10" text-anchor="middle" fill="#222">4</text>
<path d="M137.80 477.6V477.3h2.45V477.6M140.25 477.6V477.0h2.45V477.6M142.70 477.6V477.3h2.45V477.6M145.15 477.6V477.1h2.45V477.6M147.60 477.6V476.8h2.45V477.6M150.05 477.6V477.2h2.45V477.6M152.50 477.6V477.0h2.45V477.6M154.95 477.6V476.6h2.45V477.6M157.40 477.6V477.0h2.45V477.6M159.85 477.6V476.5h2.45V477.6M162.30 477.6V476.8h2.45V477.6M164.75 477.6V476.2h2.45V477.6M167.20 477.6V476.5h2.45V477.6M169.65 477.6V475.0h2.45V477.6M172.10 477.6V476.3h2.45V477.6M174.55 477.6V475.8h2.45V477.6M177.00 477.6V476.0h2.45V477.6M179.45 477.6V475.5h2.45V477.6M181.90 477.6V474.5h2.45V477.6M184.35 477.6V474.0h2.45V477.6M186.80 477.6V470.7h2.45V477.6M189.25 477.6V471.4h2.45V477.6M191.70 477.6V468.6h2.45V477.6M194.15 477.6V460.0h2.45V477.6M196.60 477.6V456.0h2.45V477.6M199.05 477.6V446.0h2.45V477.6M201.50 477.6V434.0h2.45V477.6M203.95 477.6V406.0h2.45V477.6M206.40 477.6V384.0h2.45V477.6M208.85 477.6V356.5h2.45V477.6M211.30 477.6V336.2h2.45V477.6M213.75 477.6V357.0h2.45V477.6M216.20 477.6V385.2h2.45V477.6M218.65 477.6V415.2h2.45V477.6M221.10 477.6V438.1h2.45V477.6M223.55 477.6V452.6h2.45V477.6M226.00 477.6V462.0h2.45V477.6M228.45 477.6V463.5h2.45V477.6M230.90 477.6V466.4h2.45V477.6M233.35 477.6V468.6h2.45V477.6M235.80 477.6V471.4h2.45V477.6M238.25 477.6V471.4h2.45V477.6M240.70 477.6V473.6h2.45V477.6M243.15 477.6V475.8h2.45V477.6M245.60 477.6V473.9h2.45V477.6M248.05 477.6V475.0h2.45V477.6M250.50 477.6V476.0h2.45V477.6M252.95 477.6V475.5h2.45V477.6M255.40 477.6V476.3h2.45V477.6M257.85 477.6V476.6h2.45V477.6M260.30 477.6V476.2h2.45V477.6M262.75 477.6V476.8h2.45V477.6M265.20 477.6V477.0h2.45V477.6M267.65 477.6V476.8h2.45V477.6M270.10 477.6V477.1h2.45V477.6M272.55 477.6V477.2h2.45V477.6M275.00 477.6V477.0h2.45V477.6M277.45 477.6V477.3h2.45V477.6M279.90 477.6V477.3h2.45V477.6" fill="#c8c8c8" stroke="#858585" stroke-width="0.55"/>
<line x1="190.4" y1="325" x2="190.4" y2="477.6" stroke="#1f9fe6" stroke-width="1.2" stroke-dasharray="1.8 1.2"/>
<line x1="237.4" y1="325" x2="237.4" y2="477.6" stroke="#1f9fe6" stroke-width="1.2" stroke-dasharray="1.8 1.2"/>
<line x1="148" y1="450" x2="148" y2="477.6" stroke="#9a9a9a" stroke-width="0.6" />
<text x="150.4" y="448.5" font-size="6.9" fill="#222" textLength="11.2" lengthAdjust="spacingAndGlyphs" transform="rotate(-90 150.4 448.5)">Olr1</text>
<line x1="169.5" y1="437.5" x2="169.5" y2="477.6" stroke="#9a9a9a" stroke-width="0.6" />
<text x="171.6" y="436.3" font-size="6.9" fill="#222" textLength="12.3" lengthAdjust="spacingAndGlyphs" transform="rotate(-90 171.6 436.3)">Lyz2</text>
<line x1="183.3" y1="410" x2="183.3" y2="477.6" stroke="#9a9a9a" stroke-width="0.6" />
<text x="185.2" y="408.3" font-size="6.9" fill="#222" textLength="23.8" lengthAdjust="spacingAndGlyphs" transform="rotate(-90 185.2 408.3)">Serpine1</text>
<line x1="188.4" y1="378" x2="188.4" y2="477.6" stroke="#9a9a9a" stroke-width="0.6" />
<text x="188.9" y="376.3" font-size="6.9" fill="#222" textLength="11.9" lengthAdjust="spacingAndGlyphs" transform="rotate(-90 188.9 376.3)">Plau</text>
<line x1="243" y1="369" x2="243" y2="477.6" stroke="#9a9a9a" stroke-width="0.6" />
<text x="246.1" y="367.3" font-size="6.9" fill="#222" textLength="10.2" lengthAdjust="spacingAndGlyphs" transform="rotate(-90 246.1 367.3)">Tlr7</text>
<line x1="260.7" y1="408" x2="260.7" y2="477.6" stroke="#8a8a8a" stroke-width="0.8" />
<text x="263.3" y="407.4" font-size="6.9" fill="#222" textLength="14.2" lengthAdjust="spacingAndGlyphs" transform="rotate(-90 263.3 407.4)">Cd40</text>
<line x1="264.5" y1="424.4" x2="261" y2="427.1" stroke="#9a9a9a" stroke-width="0.6" />
<text x="271.9" y="424.2" font-size="6.9" fill="#222" textLength="13.5" lengthAdjust="spacingAndGlyphs" transform="rotate(-90 271.9 424.2)">Pak1</text>
<line x1="264.5" y1="448.4" x2="261.3" y2="451" stroke="#9a9a9a" stroke-width="0.6" />
<text x="271.9" y="448.2" font-size="6.9" fill="#222" textLength="15.2" lengthAdjust="spacingAndGlyphs" transform="rotate(-90 271.9 448.2)">Calcrl</text>
<text x="213.9" y="513" font-size="11.8" text-anchor="middle" fill="#111" textLength="210" lengthAdjust="spacingAndGlyphs">STm Lysatome (4h) - LPS Lysatome (3h)</text>
<text x="201.9" y="530" font-size="11.8" fill="#111" textLength="19.2" lengthAdjust="spacingAndGlyphs">Log</text>
<text x="222.5" y="536.6" font-size="9.8" fill="#111">2</text>
<text x="20" y="398.3" font-size="12.5" text-anchor="middle" fill="#111" textLength="61" lengthAdjust="spacingAndGlyphs" transform="rotate(-90 20 398.3)">nr. proteins</text>
<line x1="437" y1="328.5" x2="437" y2="477" stroke="#a8a8a8" stroke-width="0.8" />
<line x1="435.4" y1="477" x2="437" y2="477" stroke="#a8a8a8" stroke-width="0.8" />
<text x="431.5" y="480.1" font-size="8.6" text-anchor="end" fill="#222">0</text>
<line x1="435.4" y1="447.3" x2="437" y2="447.3" stroke="#a8a8a8" stroke-width="0.8" />
<text x="431.5" y="450.4" font-size="8.6" text-anchor="end" fill="#222">100</text>
<line x1="435.4" y1="417.6" x2="437" y2="417.6" stroke="#a8a8a8" stroke-width="0.8" />
<text x="431.5" y="420.7" font-size="8.6" text-anchor="end" fill="#222">200</text>
<line x1="435.4" y1="387.9" x2="437" y2="387.9" stroke="#a8a8a8" stroke-width="0.8" />
<text x="431.5" y="391" font-size="8.6" text-anchor="end" fill="#222">300</text>
<line x1="435.4" y1="358.2" x2="437" y2="358.2" stroke="#a8a8a8" stroke-width="0.8" />
<text x="431.5" y="361.3" font-size="8.6" text-anchor="end" fill="#222">400</text>
<line x1="435.4" y1="328.5" x2="437" y2="328.5" stroke="#a8a8a8" stroke-width="0.8" />
<text x="431.5" y="331.6" font-size="8.6" text-anchor="end" fill="#222">500</text>
<line x1="508.3" y1="482.6" x2="700.7" y2="482.6" stroke="#a8a8a8" stroke-width="0.8" />
<line x1="508.3" y1="482.6" x2="508.3" y2="484.9" stroke="#a8a8a8" stroke-width="0.8" />
<text x="508.3" y="497.8" font-size="10" text-anchor="middle" fill="#222">−4</text>
<line x1="556.4" y1="482.6" x2="556.4" y2="484.9" stroke="#a8a8a8" stroke-width="0.8" />
<text x="556.4" y="497.8" font-size="10" text-anchor="middle" fill="#222">−2</text>
<line x1="604.5" y1="482.6" x2="604.5" y2="484.9" stroke="#a8a8a8" stroke-width="0.8" />
<text x="604.5" y="497.8" font-size="10" text-anchor="middle" fill="#222">0</text>
<line x1="652.6" y1="482.6" x2="652.6" y2="484.9" stroke="#a8a8a8" stroke-width="0.8" />
<text x="652.6" y="497.8" font-size="10" text-anchor="middle" fill="#222">2</text>
<line x1="700.7" y1="482.6" x2="700.7" y2="484.9" stroke="#a8a8a8" stroke-width="0.8" />
<text x="700.7" y="497.8" font-size="10" text-anchor="middle" fill="#222">4</text>
<path d="M522.95 477.0V476.5h2.47V477.0M527.89 477.0V476.6h2.47V477.0M532.83 477.0V476.4h2.47V477.0M535.30 477.0V476.6h2.47V477.0M537.77 477.0V476.2h2.47V477.0M540.24 477.0V476.5h2.47V477.0M542.71 477.0V476.3h2.47V477.0M545.18 477.0V475.5h2.47V477.0M547.65 477.0V476.0h2.47V477.0M550.12 477.0V475.8h2.47V477.0M552.59 477.0V474.8h2.47V477.0M555.06 477.0V475.5h2.47V477.0M557.53 477.0V474.5h2.47V477.0M560.00 477.0V472.1h2.47V477.0M562.47 477.0V473.3h2.47V477.0M564.94 477.0V473.3h2.47V477.0M567.41 477.0V469.2h2.47V477.0M569.88 477.0V468.1h2.47V477.0M572.35 477.0V467.9h2.47V477.0M574.82 477.0V462.2h2.47V477.0M577.29 477.0V458.1h2.47V477.0M579.76 477.0V453.2h2.47V477.0M582.23 477.0V448.2h2.47V477.0M584.70 477.0V437.2h2.47V477.0M587.17 477.0V431.1h2.47V477.0M589.64 477.0V425.1h2.47V477.0M592.11 477.0V412.7h2.47V477.0M594.58 477.0V394.0h2.47V477.0M597.05 477.0V382.2h2.47V477.0M599.52 477.0V395.2h2.47V477.0M601.99 477.0V400.1h2.47V477.0M604.46 477.0V415.2h2.47V477.0M606.93 477.0V423.1h2.47V477.0M609.40 477.0V430.2h2.47V477.0M611.87 477.0V446.3h2.47V477.0M614.34 477.0V446.3h2.47V477.0M616.81 477.0V454.1h2.47V477.0M619.28 477.0V464.3h2.47V477.0M621.75 477.0V462.6h2.47V477.0M624.22 477.0V467.3h2.47V477.0M626.69 477.0V468.1h2.47V477.0M629.16 477.0V473.3h2.47V477.0M631.63 477.0V471.5h2.47V477.0M634.10 477.0V472.1h2.47V477.0M636.57 477.0V472.6h2.47V477.0M639.04 477.0V473.3h2.47V477.0M641.51 477.0V475.5h2.47V477.0M643.98 477.0V474.8h2.47V477.0M646.45 477.0V476.0h2.47V477.0M648.92 477.0V475.8h2.47V477.0M651.39 477.0V476.2h2.47V477.0M653.86 477.0V476.4h2.47V477.0M656.33 477.0V476.1h2.47V477.0M658.80 477.0V476.5h2.47V477.0M661.27 477.0V476.6h2.47V477.0M663.74 477.0V476.4h2.47V477.0M666.21 477.0V476.7h2.47V477.0M673.62 477.0V476.6h2.47V477.0" fill="#c8c8c8" stroke="#858585" stroke-width="0.55"/>
<line x1="573.3" y1="325" x2="573.3" y2="477" stroke="#1f9fe6" stroke-width="1.2" stroke-dasharray="1.8 1.2"/>
<line x1="634.4" y1="325" x2="634.4" y2="477" stroke="#1f9fe6" stroke-width="1.2" stroke-dasharray="1.8 1.2"/>
<line x1="521" y1="462.5" x2="521" y2="477" stroke="#9a9a9a" stroke-width="0.6" />
<text x="515.2" y="465.5" font-size="6.9" fill="#222" textLength="12.3" lengthAdjust="spacingAndGlyphs" transform="rotate(-90 515.2 465.5)">Lyz2</text>
<text x="521.2" y="460.5" font-size="6.9" fill="#222" textLength="11.2" lengthAdjust="spacingAndGlyphs" transform="rotate(-90 521.2 460.5)">Olr1</text>
<line x1="529" y1="460.5" x2="529" y2="477" stroke="#9a9a9a" stroke-width="0.6" />
<text x="529.2" y="459.7" font-size="6.9" fill="#222" textLength="11.9" lengthAdjust="spacingAndGlyphs" transform="rotate(-90 529.2 459.7)">Plau</text>
<line x1="538.8" y1="456" x2="538.8" y2="477" stroke="#9a9a9a" stroke-width="0.6" />
<text x="539.6" y="455.2" font-size="6.9" fill="#222" textLength="7.9" lengthAdjust="spacingAndGlyphs" transform="rotate(-90 539.6 455.2)">Lpl</text>
<line x1="545.2" y1="448.5" x2="545.2" y2="477" stroke="#9a9a9a" stroke-width="0.6" />
<text x="545.4" y="447.6" font-size="6.9" fill="#222" textLength="7.6" lengthAdjust="spacingAndGlyphs" transform="rotate(-90 545.4 447.6)">C3</text>
<line x1="546.2" y1="433.5" x2="548.8" y2="436.5" stroke="#9a9a9a" stroke-width="0.6" />
<line x1="548.8" y1="436.5" x2="548.8" y2="477" stroke="#9a9a9a" stroke-width="0.6" />
<text x="545.8" y="432.6" font-size="6.9" fill="#222" textLength="23.8" lengthAdjust="spacingAndGlyphs" transform="rotate(-90 545.8 432.6)">Serpine1</text>
<line x1="551.8" y1="410" x2="553.2" y2="413" stroke="#9a9a9a" stroke-width="0.6" />
<line x1="553.2" y1="413" x2="553.2" y2="477" stroke="#9a9a9a" stroke-width="0.6" />
<text x="551.3" y="409.3" font-size="6.9" fill="#222" textLength="14.2" lengthAdjust="spacingAndGlyphs" transform="rotate(-90 551.3 409.3)">Cd72</text>
<line x1="557.2" y1="402" x2="554.6" y2="405.5" stroke="#9a9a9a" stroke-width="0.6" />
<line x1="554.6" y1="405.5" x2="554.6" y2="477" stroke="#9a9a9a" stroke-width="0.6" />
<text x="561.3" y="401.2" font-size="6.9" fill="#222" textLength="11.5" lengthAdjust="spacingAndGlyphs" transform="rotate(-90 561.3 401.2)">Tjp2</text>
<line x1="570.4" y1="388" x2="570.4" y2="477" stroke="#9a9a9a" stroke-width="0.6" />
<text x="571.4" y="386.3" font-size="6.9" fill="#222" textLength="13.5" lengthAdjust="spacingAndGlyphs" transform="rotate(-90 571.4 386.3)">Pak1</text>
<line x1="636.3" y1="376.8" x2="636.3" y2="477" stroke="#777" stroke-width="0.8" />
<text x="641.6" y="376.2" font-size="6.9" fill="#222" textLength="13.5" lengthAdjust="spacingAndGlyphs" transform="rotate(-90 641.6 376.2)">Tlr13</text>
<line x1="643.5" y1="381.9" x2="636.6" y2="387" stroke="#9a9a9a" stroke-width="0.6" />
<text x="649.8" y="382.8" font-size="6.9" fill="#222" textLength="42.8" lengthAdjust="spacingAndGlyphs" transform="rotate(-90 649.8 382.8)">Casp4 (Casp11)</text>
<line x1="641.5" y1="402.8" x2="636.6" y2="405.5" stroke="#9a9a9a" stroke-width="0.6" />
<text x="645.4" y="402.2" font-size="6.9" fill="#222" textLength="10.2" lengthAdjust="spacingAndGlyphs" transform="rotate(-90 645.4 402.2)">Tlr7</text>
<line x1="646" y1="408.6" x2="640.3" y2="413" stroke="#9a9a9a" stroke-width="0.6" />
<line x1="640.3" y1="413" x2="640.3" y2="477" stroke="#9a9a9a" stroke-width="0.6" />
<text x="653.6" y="408.2" font-size="6.9" fill="#222" textLength="17.2" lengthAdjust="spacingAndGlyphs" transform="rotate(-90 653.6 408.2)">Casp1</text>
<line x1="647.3" y1="429.6" x2="645.4" y2="431.4" stroke="#9a9a9a" stroke-width="0.6" />
<line x1="645.4" y1="431.4" x2="645.4" y2="477" stroke="#9a9a9a" stroke-width="0.6" />
<text x="653.6" y="430" font-size="6.9" fill="#222" textLength="17.2" lengthAdjust="spacingAndGlyphs" transform="rotate(-90 653.6 430)">Casp8</text>
<line x1="647" y1="445" x2="647" y2="477" stroke="#9a9a9a" stroke-width="0.6" />
<text x="651.7" y="444.2" font-size="6.9" fill="#222" textLength="9.9" lengthAdjust="spacingAndGlyphs" transform="rotate(-90 651.7 444.2)">Ldlr</text>
<line x1="663.8" y1="447" x2="663.8" y2="477" stroke="#9a9a9a" stroke-width="0.6" />
<text x="667.6" y="441.8" font-size="6.9" fill="#222" textLength="14.2" lengthAdjust="spacingAndGlyphs" transform="rotate(-90 667.6 441.8)">Cd40</text>
<line x1="677.8" y1="447" x2="677.8" y2="477" stroke="#9a9a9a" stroke-width="0.6" />
<text x="679.7" y="445.6" font-size="6.9" fill="#222" textLength="15.2" lengthAdjust="spacingAndGlyphs" transform="rotate(-90 679.7 445.6)">Fcgr1</text>
<line x1="682.8" y1="444.8" x2="681.6" y2="446.7" stroke="#9a9a9a" stroke-width="0.6" />
<line x1="681.6" y1="446.7" x2="681.6" y2="477" stroke="#9a9a9a" stroke-width="0.6" />
<text x="689.2" y="444.3" font-size="6.9" fill="#222" textLength="15.2" lengthAdjust="spacingAndGlyphs" transform="rotate(-90 689.2 444.3)">Calcrl</text>
<text x="603" y="512.1" font-size="11.8" text-anchor="middle" fill="#111" textLength="209" lengthAdjust="spacingAndGlyphs">STm Lysatome (8h) - LPS Lysatome (8h)</text>
<text x="594.1" y="528.1" font-size="11.8" fill="#111" textLength="19.2" lengthAdjust="spacingAndGlyphs">Log</text>
<text x="614.6" y="534.5" font-size="9.8" fill="#111">2</text>
<text x="409.3" y="397.2" font-size="12.5" text-anchor="middle" fill="#111" textLength="61" lengthAdjust="spacingAndGlyphs" transform="rotate(-90 409.3 397.2)">nr. proteins</text>
<rect x="67" y="328" width="85" height="86" fill="#ebebeb" />
<line x1="101" y1="328" x2="101" y2="414" stroke="#f7f7f7" stroke-width="0.5" />
<line x1="148" y1="328" x2="148" y2="414" stroke="#f7f7f7" stroke-width="0.5" />
<rect x="71" y="331" width="77" height="18" fill="#abd9e3" />
<rect x="71" y="352" width="77" height="17.6" fill="#abd9e3" />
<rect x="76.6" y="372.4" width="71.4" height="18" fill="#abd9e3" />
<rect x="85" y="393" width="63" height="18" fill="#abd9e3" />
<text x="145.2" y="338.6" font-size="6.15" text-anchor="end" fill="#3c3c3c" textLength="65.3" lengthAdjust="spacingAndGlyphs">regulation of endothelial</text>
<text x="145.2" y="345.9" font-size="6.15" text-anchor="end" fill="#3c3c3c" textLength="59.1" lengthAdjust="spacingAndGlyphs">cell apoptotic process</text>
<text x="145.2" y="359.4" font-size="6.15" text-anchor="end" fill="#3c3c3c" textLength="88.7" lengthAdjust="spacingAndGlyphs">cyclin−dependent protein serine/</text>
<text x="145.2" y="366.7" font-size="6.15" text-anchor="end" fill="#3c3c3c" textLength="91.6" lengthAdjust="spacingAndGlyphs">threonine kinase regulator activity</text>
<text x="145.2" y="380" font-size="6.15" text-anchor="end" fill="#3c3c3c" textLength="80.3" lengthAdjust="spacingAndGlyphs">regulation of vascular smooth</text>
<text x="145.2" y="387.3" font-size="6.15" text-anchor="end" fill="#3c3c3c" textLength="64.3" lengthAdjust="spacingAndGlyphs">muscle cell proliferation</text>
<text x="145.2" y="400.6" font-size="6.15" text-anchor="end" fill="#3c3c3c" textLength="58.8" lengthAdjust="spacingAndGlyphs">negative regulation of</text>
<text x="145.2" y="407.9" font-size="6.15" text-anchor="end" fill="#3c3c3c" textLength="48.2" lengthAdjust="spacingAndGlyphs">apoptotic process</text>
<line x1="87" y1="328" x2="87" y2="414" stroke="#e0262a" stroke-width="0.9" stroke-dasharray="1.6 1.1"/>
<line x1="101" y1="414" x2="101" y2="415.2" stroke="#666" stroke-width="0.4" />
<text x="101" y="421.2" font-size="5.0" text-anchor="middle" fill="#555" textLength="13.1" lengthAdjust="spacingAndGlyphs">1e−01</text>
<line x1="148" y1="414" x2="148" y2="415.2" stroke="#666" stroke-width="0.4" />
<text x="148" y="421.2" font-size="5.0" text-anchor="middle" fill="#555" textLength="13.1" lengthAdjust="spacingAndGlyphs">1e+00</text>
<text x="112" y="429.2" font-size="6.9" text-anchor="middle" fill="#222" textLength="47.4" lengthAdjust="spacingAndGlyphs">adjusted <tspan font-style="italic">P</tspan> Value</text>
<text x="161.3" y="364" font-size="8.4" text-anchor="middle" fill="#111" transform="rotate(-90 161.3 364)">GO Term</text>
<rect x="287" y="327.9" width="87.8" height="95.8" fill="#ebebeb" />
<line x1="310.6" y1="327.9" x2="310.6" y2="423.7" stroke="#f7f7f7" stroke-width="0.5" />
<line x1="335" y1="327.9" x2="335" y2="423.7" stroke="#f7f7f7" stroke-width="0.5" />
<line x1="357.7" y1="327.9" x2="357.7" y2="423.7" stroke="#f7f7f7" stroke-width="0.5" />
<rect x="290.8" y="330.6" width="80.2" height="16.3" fill="#abd9e3" />
<rect x="305" y="349" width="66" height="16.6" fill="#abd9e3" />
<rect x="307.9" y="367.7" width="63.1" height="16.6" fill="#abd9e3" />
<rect x="346" y="386.4" width="25" height="16.2" fill="#abd9e3" />
<rect x="348" y="405" width="23" height="16.3" fill="#abd9e3" />
<text x="368.2" y="341" font-size="6.3" text-anchor="end" fill="#3c3c3c" textLength="45.6" lengthAdjust="spacingAndGlyphs">response to virus</text>
<text x="368.2" y="355.8" font-size="6.3" text-anchor="end" fill="#3c3c3c" textLength="51.9" lengthAdjust="spacingAndGlyphs">cellular response to</text>
<text x="368.2" y="363.4" font-size="6.3" text-anchor="end" fill="#3c3c3c" textLength="40.4" lengthAdjust="spacingAndGlyphs">interferon−beta</text>
<text x="368.2" y="374.5" font-size="6.3" text-anchor="end" fill="#3c3c3c" textLength="54.2" lengthAdjust="spacingAndGlyphs">defense response to</text>
<text x="368.2" y="382.1" font-size="6.3" text-anchor="end" fill="#3c3c3c" textLength="39.9" lengthAdjust="spacingAndGlyphs">other organism</text>
<text x="368.2" y="393" font-size="6.3" text-anchor="end" fill="#3c3c3c" textLength="51.9" lengthAdjust="spacingAndGlyphs">cellular response to</text>
<text x="368.2" y="400.6" font-size="6.3" text-anchor="end" fill="#3c3c3c" textLength="45.6" lengthAdjust="spacingAndGlyphs">cytokine stimulus</text>
<text x="368.2" y="411.6" font-size="6.3" text-anchor="end" fill="#3c3c3c" textLength="77.5" lengthAdjust="spacingAndGlyphs">positive regulation of tyrosine</text>
<text x="368.2" y="419.2" font-size="6.3" text-anchor="end" fill="#3c3c3c" textLength="84.8" lengthAdjust="spacingAndGlyphs">phosphorylation of STAT protein</text>
<line x1="354.5" y1="327.9" x2="354.5" y2="423.7" stroke="#e0262a" stroke-width="0.9" stroke-dasharray="1.6 1.1"/>
<line x1="310.6" y1="423.7" x2="310.6" y2="424.9" stroke="#666" stroke-width="0.4" />
<text x="310.6" y="432.6" font-size="5.0" text-anchor="middle" fill="#555" textLength="13.1" lengthAdjust="spacingAndGlyphs">1e−05</text>
<line x1="335" y1="423.7" x2="335" y2="424.9" stroke="#666" stroke-width="0.4" />
<text x="335" y="432.6" font-size="5.0" text-anchor="middle" fill="#555" textLength="13.1" lengthAdjust="spacingAndGlyphs">1e−03</text>
<line x1="357.7" y1="423.7" x2="357.7" y2="424.9" stroke="#666" stroke-width="0.4" />
<text x="357.7" y="432.6" font-size="5.0" text-anchor="middle" fill="#555" textLength="13.1" lengthAdjust="spacingAndGlyphs">1e−01</text>
<text x="335.5" y="441.4" font-size="6.9" text-anchor="middle" fill="#222" textLength="47.4" lengthAdjust="spacingAndGlyphs">adjusted <tspan font-style="italic">P</tspan> Value</text>
<text x="384.8" y="367" font-size="8.4" text-anchor="middle" fill="#111" transform="rotate(-90 384.8 367)">GO Term</text>
<rect x="455.6" y="327" width="74" height="47.4" fill="#ebebeb" />
<line x1="460" y1="327" x2="460" y2="374.4" stroke="#f7f7f7" stroke-width="0.5" />
<line x1="492.4" y1="327" x2="492.4" y2="374.4" stroke="#f7f7f7" stroke-width="0.5" />
<line x1="521" y1="327" x2="521" y2="374.4" stroke="#f7f7f7" stroke-width="0.5" />
<rect x="459" y="329.4" width="67" height="13.2" fill="#abd9e3" />
<rect x="463.6" y="344.4" width="62.4" height="13.2" fill="#abd9e3" />
<rect x="471" y="359.2" width="55" height="13.2" fill="#abd9e3" />
<text x="523.2" y="338.3" font-size="6.4" text-anchor="end" fill="#3c3c3c" textLength="62.1" lengthAdjust="spacingAndGlyphs">DNA duplex unwinding</text>
<text x="523.2" y="353.3" font-size="6.4" text-anchor="end" fill="#3c3c3c" textLength="26.4" lengthAdjust="spacingAndGlyphs">Cell cycle</text>
<text x="523.2" y="368.1" font-size="6.4" text-anchor="end" fill="#3c3c3c" textLength="62.4" lengthAdjust="spacingAndGlyphs">IMP metabolic process</text>
<line x1="482.4" y1="327" x2="482.4" y2="374.4" stroke="#e0262a" stroke-width="0.9" stroke-dasharray="1.6 1.1"/>
<line x1="460" y1="374.4" x2="460" y2="375.6" stroke="#666" stroke-width="0.4" />
<text x="460" y="382.6" font-size="5.0" text-anchor="middle" fill="#555" textLength="13.1" lengthAdjust="spacingAndGlyphs">1e−02</text>
<line x1="492.4" y1="374.4" x2="492.4" y2="375.6" stroke="#666" stroke-width="0.4" />
<text x="492.4" y="382.6" font-size="5.0" text-anchor="middle" fill="#555" textLength="13.1" lengthAdjust="spacingAndGlyphs">1e−01</text>
<line x1="521" y1="374.4" x2="521" y2="375.6" stroke="#666" stroke-width="0.4" />
<text x="521" y="382.6" font-size="5.0" text-anchor="middle" fill="#555" textLength="13.1" lengthAdjust="spacingAndGlyphs">1e+00</text>
<text x="492.5" y="392.2" font-size="6.9" text-anchor="middle" fill="#222" textLength="47.4" lengthAdjust="spacingAndGlyphs">adjusted <tspan font-style="italic">P</tspan> Value</text>
<text x="540.3" y="351" font-size="8.4" text-anchor="middle" fill="#111" transform="rotate(-90 540.3 351)">GO Term</text>
<rect x="676.1" y="327" width="103.8" height="86.3" fill="#ebebeb" />
<line x1="706.4" y1="327" x2="706.4" y2="413.3" stroke="#f7f7f7" stroke-width="0.5" />
<line x1="751.8" y1="327" x2="751.8" y2="413.3" stroke="#f7f7f7" stroke-width="0.5" />
<rect x="680.1" y="329.6" width="94.9" height="14.9" fill="#abd9e3" />
<rect x="719" y="346.2" width="56" height="14.6" fill="#abd9e3" />
<rect x="725.1" y="363" width="49.9" height="14.7" fill="#abd9e3" />
<rect x="730.4" y="379.7" width="44.6" height="14.7" fill="#abd9e3" />
<rect x="737.4" y="396.1" width="37.6" height="14.9" fill="#abd9e3" />
<text x="772.2" y="339.3" font-size="6.3" text-anchor="end" fill="#3c3c3c" textLength="96.6" lengthAdjust="spacingAndGlyphs">regulation of inflammatory response</text>
<text x="772.2" y="355.8" font-size="6.3" text-anchor="end" fill="#3c3c3c" textLength="71" lengthAdjust="spacingAndGlyphs">regulation of cell migration</text>
<text x="772.2" y="372.6" font-size="6.3" text-anchor="end" fill="#3c3c3c" textLength="82.8" lengthAdjust="spacingAndGlyphs">regulation of apoptotic process</text>
<text x="772.2" y="389.3" font-size="6.3" text-anchor="end" fill="#3c3c3c" textLength="60.1" lengthAdjust="spacingAndGlyphs">response to bacterium</text>
<text x="772.2" y="405.8" font-size="6.3" text-anchor="end" fill="#3c3c3c" textLength="46.3" lengthAdjust="spacingAndGlyphs">response to virus</text>
<line x1="745.4" y1="327" x2="745.4" y2="413.3" stroke="#e0262a" stroke-width="0.9" stroke-dasharray="1.6 1.1"/>
<line x1="706.4" y1="413.3" x2="706.4" y2="414.5" stroke="#666" stroke-width="0.4" />
<text x="706.4" y="420.1" font-size="5.0" text-anchor="middle" fill="#555" textLength="13.1" lengthAdjust="spacingAndGlyphs">1e−03</text>
<line x1="751.8" y1="413.3" x2="751.8" y2="414.5" stroke="#666" stroke-width="0.4" />
<text x="751.8" y="420.1" font-size="5.0" text-anchor="middle" fill="#555" textLength="13.1" lengthAdjust="spacingAndGlyphs">1e−01</text>
<text x="732.5" y="428.2" font-size="6.9" text-anchor="middle" fill="#222" textLength="47.4" lengthAdjust="spacingAndGlyphs">adjusted <tspan font-style="italic">P</tspan> Value</text>
<text x="790.3" y="370.5" font-size="8.4" text-anchor="middle" fill="#111" transform="rotate(-90 790.3 370.5)">GO Term</text>
<g shape-rendering="crispEdges">
<rect x="97.40" y="609.50" width="25.05" height="7.63" fill="#01243a"/>
<rect x="122.15" y="609.50" width="25.05" height="7.63" fill="#0b55a1"/>
<rect x="146.90" y="609.50" width="25.05" height="7.63" fill="#064484"/>
<rect x="171.65" y="609.50" width="25.05" height="7.63" fill="#023058"/>
<rect x="196.40" y="609.50" width="25.05" height="7.63" fill="#03385f"/>
<rect x="221.15" y="609.50" width="25.05" height="7.63" fill="#012842"/>
<rect x="97.40" y="616.83" width="25.05" height="7.63" fill="#012842"/>
<rect x="122.15" y="616.83" width="25.05" height="7.63" fill="#03385f"/>
<rect x="146.90" y="616.83" width="25.05" height="7.63" fill="#08509a"/>
<rect x="171.65" y="616.83" width="25.05" height="7.63" fill="#023054"/>
<rect x="196.40" y="616.83" width="25.05" height="7.63" fill="#03385f"/>
<rect x="221.15" y="616.83" width="25.05" height="7.63" fill="#012842"/>
<rect x="97.40" y="624.15" width="25.05" height="7.63" fill="#001016"/>
<rect x="122.15" y="624.15" width="25.05" height="7.63" fill="#1264a9"/>
<rect x="146.90" y="624.15" width="25.05" height="7.63" fill="#054075"/>
<rect x="171.65" y="624.15" width="25.05" height="7.63" fill="#012a49"/>
<rect x="196.40" y="624.15" width="25.05" height="7.63" fill="#1268b0"/>
<rect x="221.15" y="624.15" width="25.05" height="7.63" fill="#033a67"/>
<rect x="97.40" y="631.48" width="25.05" height="7.63" fill="#01243e"/>
<rect x="122.15" y="631.48" width="25.05" height="7.63" fill="#00121d"/>
<rect x="146.90" y="631.48" width="25.05" height="7.63" fill="#012a49"/>
<rect x="171.65" y="631.48" width="25.05" height="7.63" fill="#01243e"/>
<rect x="196.40" y="631.48" width="25.05" height="7.63" fill="#001824"/>
<rect x="221.15" y="631.48" width="25.05" height="7.63" fill="#012a49"/>
<rect x="97.40" y="638.81" width="25.05" height="7.63" fill="#000c12"/>
<rect x="122.15" y="638.81" width="25.05" height="7.63" fill="#001016"/>
<rect x="146.90" y="638.81" width="25.05" height="7.63" fill="#012a49"/>
<rect x="171.65" y="638.81" width="25.05" height="7.63" fill="#012a49"/>
<rect x="196.40" y="638.81" width="25.05" height="7.63" fill="#012a49"/>
<rect x="221.15" y="638.81" width="25.05" height="7.63" fill="#012a49"/>
<rect x="97.40" y="646.13" width="25.05" height="7.63" fill="#000c12"/>
<rect x="122.15" y="646.13" width="25.05" height="7.63" fill="#001016"/>
<rect x="146.90" y="646.13" width="25.05" height="7.63" fill="#000e12"/>
<rect x="171.65" y="646.13" width="25.05" height="7.63" fill="#012a49"/>
<rect x="196.40" y="646.13" width="25.05" height="7.63" fill="#012a49"/>
<rect x="221.15" y="646.13" width="25.05" height="7.63" fill="#03385f"/>
<rect x="97.40" y="653.46" width="25.05" height="7.63" fill="#001a2c"/>
<rect x="122.15" y="653.46" width="25.05" height="7.63" fill="#001016"/>
<rect x="146.90" y="653.46" width="25.05" height="7.63" fill="#000e12"/>
<rect x="171.65" y="653.46" width="25.05" height="7.63" fill="#03385f"/>
<rect x="196.40" y="653.46" width="25.05" height="7.63" fill="#012e50"/>
<rect x="221.15" y="653.46" width="25.05" height="7.63" fill="#001421"/>
<rect x="97.40" y="660.79" width="25.05" height="7.63" fill="#012a49"/>
<rect x="122.15" y="660.79" width="25.05" height="7.63" fill="#001421"/>
<rect x="146.90" y="660.79" width="25.05" height="7.63" fill="#00121d"/>
<rect x="171.65" y="660.79" width="25.05" height="7.63" fill="#001a2c"/>
<rect x="196.40" y="660.79" width="25.05" height="7.63" fill="#023054"/>
<rect x="221.15" y="660.79" width="25.05" height="7.63" fill="#01243e"/>
<rect x="97.40" y="668.11" width="25.05" height="7.63" fill="#012a49"/>
<rect x="122.15" y="668.11" width="25.05" height="7.63" fill="#08090c"/>
<rect x="146.90" y="668.11" width="25.05" height="7.63" fill="#141410"/>
<rect x="171.65" y="668.11" width="25.05" height="7.63" fill="#023054"/>
<rect x="196.40" y="668.11" width="25.05" height="7.63" fill="#000e16"/>
<rect x="221.15" y="668.11" width="25.05" height="7.63" fill="#012e50"/>
<rect x="97.40" y="675.44" width="25.05" height="7.63" fill="#012a49"/>
<rect x="122.15" y="675.44" width="25.05" height="7.63" fill="#012e50"/>
<rect x="146.90" y="675.44" width="25.05" height="7.63" fill="#012a49"/>
<rect x="171.65" y="675.44" width="25.05" height="7.63" fill="#043a67"/>
<rect x="196.40" y="675.44" width="25.05" height="7.63" fill="#023054"/>
<rect x="221.15" y="675.44" width="25.05" height="7.63" fill="#043a67"/>
<rect x="97.40" y="682.77" width="25.05" height="7.63" fill="#012a49"/>
<rect x="122.15" y="682.77" width="25.05" height="7.63" fill="#012842"/>
<rect x="146.90" y="682.77" width="25.05" height="7.63" fill="#044075"/>
<rect x="171.65" y="682.77" width="25.05" height="7.63" fill="#012e50"/>
<rect x="196.40" y="682.77" width="25.05" height="7.63" fill="#012e50"/>
<rect x="221.15" y="682.77" width="25.05" height="7.63" fill="#012e50"/>
<rect x="97.40" y="690.09" width="25.05" height="7.63" fill="#012842"/>
<rect x="122.15" y="690.09" width="25.05" height="7.63" fill="#01243e"/>
<rect x="146.90" y="690.09" width="25.05" height="7.63" fill="#012a49"/>
<rect x="171.65" y="690.09" width="25.05" height="7.63" fill="#023054"/>
<rect x="196.40" y="690.09" width="25.05" height="7.63" fill="#012a49"/>
<rect x="221.15" y="690.09" width="25.05" height="7.63" fill="#01243e"/>
<rect x="97.40" y="697.42" width="25.05" height="7.63" fill="#001a2c"/>
<rect x="122.15" y="697.42" width="25.05" height="7.63" fill="#01243e"/>
<rect x="146.90" y="697.42" width="25.05" height="7.63" fill="#012842"/>
<rect x="171.65" y="697.42" width="25.05" height="7.63" fill="#001a2c"/>
<rect x="196.40" y="697.42" width="25.05" height="7.63" fill="#012a49"/>
<rect x="221.15" y="697.42" width="25.05" height="7.63" fill="#001824"/>
<rect x="97.40" y="704.75" width="25.05" height="7.63" fill="#01243e"/>
<rect x="122.15" y="704.75" width="25.05" height="7.63" fill="#001824"/>
<rect x="146.90" y="704.75" width="25.05" height="7.63" fill="#012842"/>
<rect x="171.65" y="704.75" width="25.05" height="7.63" fill="#08090c"/>
<rect x="196.40" y="704.75" width="25.05" height="7.63" fill="#012a49"/>
<rect x="221.15" y="704.75" width="25.05" height="7.63" fill="#08509a"/>
<rect x="97.40" y="712.07" width="25.05" height="7.63" fill="#08090c"/>
<rect x="122.15" y="712.07" width="25.05" height="7.63" fill="#01243e"/>
<rect x="146.90" y="712.07" width="25.05" height="7.63" fill="#023054"/>
<rect x="171.65" y="712.07" width="25.05" height="7.63" fill="#08090c"/>
<rect x="196.40" y="712.07" width="25.05" height="7.63" fill="#012a49"/>
<rect x="221.15" y="712.07" width="25.05" height="7.63" fill="#08509a"/>
<rect x="97.40" y="719.40" width="25.05" height="7.63" fill="#001a2c"/>
<rect x="122.15" y="719.40" width="25.05" height="7.63" fill="#01243e"/>
<rect x="146.90" y="719.40" width="25.05" height="7.63" fill="#012a49"/>
<rect x="171.65" y="719.40" width="25.05" height="7.63" fill="#043a67"/>
<rect x="196.40" y="719.40" width="25.05" height="7.63" fill="#023054"/>
<rect x="221.15" y="719.40" width="25.05" height="7.63" fill="#08509a"/>
<rect x="97.40" y="726.73" width="25.05" height="7.63" fill="#03385f"/>
<rect x="122.15" y="726.73" width="25.05" height="7.63" fill="#012a49"/>
<rect x="146.90" y="726.73" width="25.05" height="7.63" fill="#012842"/>
<rect x="171.65" y="726.73" width="25.05" height="7.63" fill="#054075"/>
<rect x="196.40" y="726.73" width="25.05" height="7.63" fill="#01243e"/>
<rect x="221.15" y="726.73" width="25.05" height="7.63" fill="#08509a"/>
<rect x="97.40" y="734.05" width="25.05" height="7.63" fill="#1c1c14"/>
<rect x="122.15" y="734.05" width="25.05" height="7.63" fill="#001a2c"/>
<rect x="146.90" y="734.05" width="25.05" height="7.63" fill="#03385f"/>
<rect x="171.65" y="734.05" width="25.05" height="7.63" fill="#08509a"/>
<rect x="196.40" y="734.05" width="25.05" height="7.63" fill="#0a58a9"/>
<rect x="221.15" y="734.05" width="25.05" height="7.63" fill="#001a2c"/>
<rect x="97.40" y="741.38" width="25.05" height="7.63" fill="#3c3c18"/>
<rect x="122.15" y="741.38" width="25.05" height="7.63" fill="#00121d"/>
<rect x="146.90" y="741.38" width="25.05" height="7.63" fill="#3a3a18"/>
<rect x="171.65" y="741.38" width="25.05" height="7.63" fill="#3c3c18"/>
<rect x="196.40" y="741.38" width="25.05" height="7.63" fill="#1c1c14"/>
<rect x="221.15" y="741.38" width="25.05" height="7.63" fill="#3c3c18"/>
<rect x="97.40" y="748.70" width="25.05" height="7.63" fill="#5a5a20"/>
<rect x="122.15" y="748.70" width="25.05" height="7.63" fill="#001421"/>
<rect x="146.90" y="748.70" width="25.05" height="7.63" fill="#3a3a18"/>
<rect x="171.65" y="748.70" width="25.05" height="7.63" fill="#343418"/>
<rect x="196.40" y="748.70" width="25.05" height="7.63" fill="#1c1c14"/>
<rect x="221.15" y="748.70" width="25.05" height="7.63" fill="#3c3c18"/>
<rect x="97.40" y="756.03" width="25.05" height="7.63" fill="#3c3c18"/>
<rect x="122.15" y="756.03" width="25.05" height="7.63" fill="#001421"/>
<rect x="146.90" y="756.03" width="25.05" height="7.63" fill="#1c1c14"/>
<rect x="171.65" y="756.03" width="25.05" height="7.63" fill="#444418"/>
<rect x="196.40" y="756.03" width="25.05" height="7.63" fill="#141410"/>
<rect x="221.15" y="756.03" width="25.05" height="7.63" fill="#444418"/>
<rect x="97.40" y="763.36" width="25.05" height="7.63" fill="#343418"/>
<rect x="122.15" y="763.36" width="25.05" height="7.63" fill="#001421"/>
<rect x="146.90" y="763.36" width="25.05" height="7.63" fill="#3c3c18"/>
<rect x="171.65" y="763.36" width="25.05" height="7.63" fill="#3c3c18"/>
<rect x="196.40" y="763.36" width="25.05" height="7.63" fill="#242418"/>
<rect x="221.15" y="763.36" width="25.05" height="7.63" fill="#6e6e20"/>
<rect x="97.40" y="770.68" width="25.05" height="7.63" fill="#444418"/>
<rect x="122.15" y="770.68" width="25.05" height="7.63" fill="#001e33"/>
<rect x="146.90" y="770.68" width="25.05" height="7.63" fill="#141414"/>
<rect x="171.65" y="770.68" width="25.05" height="7.63" fill="#141414"/>
<rect x="196.40" y="770.68" width="25.05" height="7.63" fill="#000e12"/>
<rect x="221.15" y="770.68" width="25.05" height="7.63" fill="#1e2018"/>
<rect x="97.40" y="778.01" width="25.05" height="7.63" fill="#001421"/>
<rect x="122.15" y="778.01" width="25.05" height="7.63" fill="#141414"/>
<rect x="146.90" y="778.01" width="25.05" height="7.63" fill="#2c2c18"/>
<rect x="171.65" y="778.01" width="25.05" height="7.63" fill="#2c2c18"/>
<rect x="196.40" y="778.01" width="25.05" height="7.63" fill="#5a5a20"/>
<rect x="221.15" y="778.01" width="25.05" height="7.63" fill="#5a5a20"/>
<rect x="97.40" y="785.34" width="25.05" height="7.63" fill="#001421"/>
<rect x="122.15" y="785.34" width="25.05" height="7.63" fill="#4a4a1c"/>
<rect x="146.90" y="785.34" width="25.05" height="7.63" fill="#242418"/>
<rect x="171.65" y="785.34" width="25.05" height="7.63" fill="#242418"/>
<rect x="196.40" y="785.34" width="25.05" height="7.63" fill="#6a6a20"/>
<rect x="221.15" y="785.34" width="25.05" height="7.63" fill="#7a7a20"/>
<rect x="97.40" y="792.66" width="25.05" height="7.63" fill="#001421"/>
<rect x="122.15" y="792.66" width="25.05" height="7.63" fill="#4a4a1c"/>
<rect x="146.90" y="792.66" width="25.05" height="7.63" fill="#343418"/>
<rect x="171.65" y="792.66" width="25.05" height="7.63" fill="#08090c"/>
<rect x="196.40" y="792.66" width="25.05" height="7.63" fill="#343418"/>
<rect x="221.15" y="792.66" width="25.05" height="7.63" fill="#242418"/>
<rect x="97.40" y="799.99" width="25.05" height="7.63" fill="#001a2c"/>
<rect x="122.15" y="799.99" width="25.05" height="7.63" fill="#6a6a20"/>
<rect x="146.90" y="799.99" width="25.05" height="7.63" fill="#343418"/>
<rect x="171.65" y="799.99" width="25.05" height="7.63" fill="#08090c"/>
<rect x="196.40" y="799.99" width="25.05" height="7.63" fill="#343418"/>
<rect x="221.15" y="799.99" width="25.05" height="7.63" fill="#001421"/>
<rect x="97.40" y="807.32" width="25.05" height="7.63" fill="#000e12"/>
<rect x="122.15" y="807.32" width="25.05" height="7.63" fill="#6a6a20"/>
<rect x="146.90" y="807.32" width="25.05" height="7.63" fill="#8a8a20"/>
<rect x="171.65" y="807.32" width="25.05" height="7.63" fill="#08090c"/>
<rect x="196.40" y="807.32" width="25.05" height="7.63" fill="#141414"/>
<rect x="221.15" y="807.32" width="25.05" height="7.63" fill="#000e12"/>
<rect x="97.40" y="814.64" width="25.05" height="7.63" fill="#343418"/>
<rect x="122.15" y="814.64" width="25.05" height="7.63" fill="#242418"/>
<rect x="146.90" y="814.64" width="25.05" height="7.63" fill="#242418"/>
<rect x="171.65" y="814.64" width="25.05" height="7.63" fill="#141414"/>
<rect x="196.40" y="814.64" width="25.05" height="7.63" fill="#141414"/>
<rect x="221.15" y="814.64" width="25.05" height="7.63" fill="#000e12"/>
<rect x="97.40" y="821.97" width="25.05" height="7.63" fill="#5a5a20"/>
<rect x="122.15" y="821.97" width="25.05" height="7.63" fill="#1c1c14"/>
<rect x="146.90" y="821.97" width="25.05" height="7.63" fill="#141414"/>
<rect x="171.65" y="821.97" width="25.05" height="7.63" fill="#343418"/>
<rect x="196.40" y="821.97" width="25.05" height="7.63" fill="#1c1c14"/>
<rect x="221.15" y="821.97" width="25.05" height="7.63" fill="#000e12"/>
<rect x="97.40" y="829.30" width="25.05" height="7.63" fill="#000e12"/>
<rect x="122.15" y="829.30" width="25.05" height="7.63" fill="#1c1c14"/>
<rect x="146.90" y="829.30" width="25.05" height="7.63" fill="#3c3c18"/>
<rect x="171.65" y="829.30" width="25.05" height="7.63" fill="#242418"/>
<rect x="196.40" y="829.30" width="25.05" height="7.63" fill="#000e12"/>
<rect x="221.15" y="829.30" width="25.05" height="7.63" fill="#141414"/>
<rect x="97.40" y="836.62" width="25.05" height="7.63" fill="#5a5a20"/>
<rect x="122.15" y="836.62" width="25.05" height="7.63" fill="#4a4a1c"/>
<rect x="146.90" y="836.62" width="25.05" height="7.63" fill="#343418"/>
<rect x="171.65" y="836.62" width="25.05" height="7.63" fill="#343418"/>
<rect x="196.40" y="836.62" width="25.05" height="7.63" fill="#3c3c18"/>
<rect x="221.15" y="836.62" width="25.05" height="7.63" fill="#141414"/>
<rect x="97.40" y="843.95" width="25.05" height="7.63" fill="#6a6a20"/>
<rect x="122.15" y="843.95" width="25.05" height="7.63" fill="#444418"/>
<rect x="146.90" y="843.95" width="25.05" height="7.63" fill="#2c2c18"/>
<rect x="171.65" y="843.95" width="25.05" height="7.63" fill="#2c2c18"/>
<rect x="196.40" y="843.95" width="25.05" height="7.63" fill="#4a4a1c"/>
<rect x="221.15" y="843.95" width="25.05" height="7.63" fill="#141414"/>
<rect x="97.40" y="851.28" width="25.05" height="7.63" fill="#5a5a20"/>
<rect x="122.15" y="851.28" width="25.05" height="7.63" fill="#444418"/>
<rect x="146.90" y="851.28" width="25.05" height="7.63" fill="#2c2c18"/>
<rect x="171.65" y="851.28" width="25.05" height="7.63" fill="#343418"/>
<rect x="196.40" y="851.28" width="25.05" height="7.63" fill="#242418"/>
<rect x="221.15" y="851.28" width="25.05" height="7.63" fill="#141414"/>
<rect x="97.40" y="858.60" width="25.05" height="7.63" fill="#5a5a20"/>
<rect x="122.15" y="858.60" width="25.05" height="7.63" fill="#444418"/>
<rect x="146.90" y="858.60" width="25.05" height="7.63" fill="#444418"/>
<rect x="171.65" y="858.60" width="25.05" height="7.63" fill="#8a8a20"/>
<rect x="196.40" y="858.60" width="25.05" height="7.63" fill="#444418"/>
<rect x="221.15" y="858.60" width="25.05" height="7.63" fill="#141414"/>
<rect x="97.40" y="865.93" width="25.05" height="7.63" fill="#001421"/>
<rect x="122.15" y="865.93" width="25.05" height="7.63" fill="#08090c"/>
<rect x="146.90" y="865.93" width="25.05" height="7.63" fill="#141414"/>
<rect x="171.65" y="865.93" width="25.05" height="7.63" fill="#2c2c18"/>
<rect x="196.40" y="865.93" width="25.05" height="7.63" fill="#2c2c18"/>
<rect x="221.15" y="865.93" width="25.05" height="7.63" fill="#00121d"/>
<rect x="97.40" y="873.26" width="25.05" height="7.63" fill="#001a2c"/>
<rect x="122.15" y="873.26" width="25.05" height="7.63" fill="#08090c"/>
<rect x="146.90" y="873.26" width="25.05" height="7.63" fill="#000e16"/>
<rect x="171.65" y="873.26" width="25.05" height="7.63" fill="#2c2c18"/>
<rect x="196.40" y="873.26" width="25.05" height="7.63" fill="#343418"/>
<rect x="221.15" y="873.26" width="25.05" height="7.63" fill="#141414"/>
<rect x="97.40" y="880.58" width="25.05" height="7.63" fill="#000e12"/>
<rect x="122.15" y="880.58" width="25.05" height="7.63" fill="#08090c"/>
<rect x="146.90" y="880.58" width="25.05" height="7.63" fill="#012e50"/>
<rect x="171.65" y="880.58" width="25.05" height="7.63" fill="#4a4a1c"/>
<rect x="196.40" y="880.58" width="25.05" height="7.63" fill="#343418"/>
<rect x="221.15" y="880.58" width="25.05" height="7.63" fill="#00121d"/>
<rect x="97.40" y="887.91" width="25.05" height="7.63" fill="#001421"/>
<rect x="122.15" y="887.91" width="25.05" height="7.63" fill="#000e12"/>
<rect x="146.90" y="887.91" width="25.05" height="7.63" fill="#001e33"/>
<rect x="171.65" y="887.91" width="25.05" height="7.63" fill="#141414"/>
<rect x="196.40" y="887.91" width="25.05" height="7.63" fill="#141414"/>
<rect x="221.15" y="887.91" width="25.05" height="7.63" fill="#1c1c14"/>
<rect x="97.40" y="895.24" width="25.05" height="7.63" fill="#001e33"/>
<rect x="122.15" y="895.24" width="25.05" height="7.63" fill="#000e12"/>
<rect x="146.90" y="895.24" width="25.05" height="7.63" fill="#001e33"/>
<rect x="171.65" y="895.24" width="25.05" height="7.63" fill="#0a0c10"/>
<rect x="196.40" y="895.24" width="25.05" height="7.63" fill="#000e12"/>
<rect x="221.15" y="895.24" width="25.05" height="7.63" fill="#1c1c14"/>
<rect x="97.40" y="902.56" width="25.05" height="7.63" fill="#012a49"/>
<rect x="122.15" y="902.56" width="25.05" height="7.63" fill="#000e12"/>
<rect x="146.90" y="902.56" width="25.05" height="7.63" fill="#001a2c"/>
<rect x="171.65" y="902.56" width="25.05" height="7.63" fill="#0a0c10"/>
<rect x="196.40" y="902.56" width="25.05" height="7.63" fill="#1c1c14"/>
<rect x="221.15" y="902.56" width="25.05" height="7.63" fill="#1c1c14"/>
<rect x="97.40" y="909.89" width="25.05" height="7.63" fill="#001e33"/>
<rect x="122.15" y="909.89" width="25.05" height="7.63" fill="#001421"/>
<rect x="146.90" y="909.89" width="25.05" height="7.63" fill="#001421"/>
<rect x="171.65" y="909.89" width="25.05" height="7.63" fill="#001421"/>
<rect x="196.40" y="909.89" width="25.05" height="7.63" fill="#000e12"/>
<rect x="221.15" y="909.89" width="25.05" height="7.63" fill="#343418"/>
<rect x="97.40" y="917.22" width="25.05" height="7.63" fill="#001a2c"/>
<rect x="122.15" y="917.22" width="25.05" height="7.63" fill="#000e12"/>
<rect x="146.90" y="917.22" width="25.05" height="7.63" fill="#1c1c14"/>
<rect x="171.65" y="917.22" width="25.05" height="7.63" fill="#012a49"/>
<rect x="196.40" y="917.22" width="25.05" height="7.63" fill="#001421"/>
<rect x="221.15" y="917.22" width="25.05" height="7.63" fill="#343418"/>
<rect x="97.40" y="924.54" width="25.05" height="7.63" fill="#001e33"/>
<rect x="122.15" y="924.54" width="25.05" height="7.63" fill="#01243e"/>
<rect x="146.90" y="924.54" width="25.05" height="7.63" fill="#001a2c"/>
<rect x="171.65" y="924.54" width="25.05" height="7.63" fill="#012a49"/>
<rect x="196.40" y="924.54" width="25.05" height="7.63" fill="#000e12"/>
<rect x="221.15" y="924.54" width="25.05" height="7.63" fill="#4a4a1c"/>
<rect x="97.40" y="931.87" width="25.05" height="7.63" fill="#001a2c"/>
<rect x="122.15" y="931.87" width="25.05" height="7.63" fill="#012a49"/>
<rect x="146.90" y="931.87" width="25.05" height="7.63" fill="#012a49"/>
<rect x="171.65" y="931.87" width="25.05" height="7.63" fill="#000e12"/>
<rect x="196.40" y="931.87" width="25.05" height="7.63" fill="#1c1c14"/>
<rect x="221.15" y="931.87" width="25.05" height="7.63" fill="#3c3c18"/>
<rect x="97.40" y="939.20" width="25.05" height="7.63" fill="#012a49"/>
<rect x="122.15" y="939.20" width="25.05" height="7.63" fill="#000e12"/>
<rect x="146.90" y="939.20" width="25.05" height="7.63" fill="#000e12"/>
<rect x="171.65" y="939.20" width="25.05" height="7.63" fill="#242418"/>
<rect x="196.40" y="939.20" width="25.05" height="7.63" fill="#343418"/>
<rect x="221.15" y="939.20" width="25.05" height="7.63" fill="#444418"/>
<rect x="97.40" y="946.52" width="25.05" height="7.63" fill="#001e33"/>
<rect x="122.15" y="946.52" width="25.05" height="7.63" fill="#000e12"/>
<rect x="146.90" y="946.52" width="25.05" height="7.63" fill="#001a2c"/>
<rect x="171.65" y="946.52" width="25.05" height="7.63" fill="#00121d"/>
<rect x="196.40" y="946.52" width="25.05" height="7.63" fill="#3c3c18"/>
<rect x="221.15" y="946.52" width="25.05" height="7.63" fill="#444418"/>
<rect x="97.40" y="953.85" width="25.05" height="7.63" fill="#012a49"/>
<rect x="122.15" y="953.85" width="25.05" height="7.63" fill="#001a2c"/>
<rect x="146.90" y="953.85" width="25.05" height="7.63" fill="#001e33"/>
<rect x="171.65" y="953.85" width="25.05" height="7.63" fill="#141414"/>
<rect x="196.40" y="953.85" width="25.05" height="7.63" fill="#242418"/>
<rect x="221.15" y="953.85" width="25.05" height="7.63" fill="#000e16"/>
<rect x="97.40" y="961.18" width="25.05" height="7.63" fill="#012a49"/>
<rect x="122.15" y="961.18" width="25.05" height="7.63" fill="#000e16"/>
<rect x="146.90" y="961.18" width="25.05" height="7.63" fill="#001a2c"/>
<rect x="171.65" y="961.18" width="25.05" height="7.63" fill="#00121d"/>
<rect x="196.40" y="961.18" width="25.05" height="7.63" fill="#001421"/>
<rect x="221.15" y="961.18" width="25.05" height="7.63" fill="#001e33"/>
<rect x="97.40" y="968.50" width="25.05" height="7.63" fill="#001e33"/>
<rect x="122.15" y="968.50" width="25.05" height="7.63" fill="#012a49"/>
<rect x="146.90" y="968.50" width="25.05" height="7.63" fill="#001421"/>
<rect x="171.65" y="968.50" width="25.05" height="7.63" fill="#00121d"/>
<rect x="196.40" y="968.50" width="25.05" height="7.63" fill="#00121d"/>
<rect x="221.15" y="968.50" width="25.05" height="7.63" fill="#001e33"/>
<rect x="97.40" y="975.83" width="25.05" height="7.63" fill="#001e33"/>
<rect x="122.15" y="975.83" width="25.05" height="7.63" fill="#012a49"/>
<rect x="146.90" y="975.83" width="25.05" height="7.63" fill="#033c67"/>
<rect x="171.65" y="975.83" width="25.05" height="7.63" fill="#000e12"/>
<rect x="196.40" y="975.83" width="25.05" height="7.63" fill="#0a0c10"/>
<rect x="221.15" y="975.83" width="25.05" height="7.63" fill="#00121d"/>
<rect x="97.40" y="983.15" width="25.05" height="7.63" fill="#012a49"/>
<rect x="122.15" y="983.15" width="25.05" height="7.63" fill="#141414"/>
<rect x="146.90" y="983.15" width="25.05" height="7.63" fill="#141414"/>
<rect x="171.65" y="983.15" width="25.05" height="7.63" fill="#00121d"/>
<rect x="196.40" y="983.15" width="25.05" height="7.63" fill="#012a49"/>
<rect x="221.15" y="983.15" width="25.05" height="7.63" fill="#00121d"/>
<rect x="97.40" y="990.48" width="25.05" height="7.63" fill="#012a49"/>
<rect x="122.15" y="990.48" width="25.05" height="7.63" fill="#001a2c"/>
<rect x="146.90" y="990.48" width="25.05" height="7.63" fill="#141414"/>
<rect x="171.65" y="990.48" width="25.05" height="7.63" fill="#012a49"/>
<rect x="196.40" y="990.48" width="25.05" height="7.63" fill="#012a49"/>
<rect x="221.15" y="990.48" width="25.05" height="7.63" fill="#000e12"/>
<rect x="97.40" y="997.81" width="25.05" height="7.63" fill="#000e12"/>
<rect x="122.15" y="997.81" width="25.05" height="7.63" fill="#000e12"/>
<rect x="146.90" y="997.81" width="25.05" height="7.63" fill="#000e12"/>
<rect x="171.65" y="997.81" width="25.05" height="7.63" fill="#023054"/>
<rect x="196.40" y="997.81" width="25.05" height="7.63" fill="#012a49"/>
<rect x="221.15" y="997.81" width="25.05" height="7.63" fill="#000e12"/>
<rect x="97.40" y="1005.13" width="25.05" height="7.63" fill="#1c1c14"/>
<rect x="122.15" y="1005.13" width="25.05" height="7.63" fill="#000e12"/>
<rect x="146.90" y="1005.13" width="25.05" height="7.63" fill="#444418"/>
<rect x="171.65" y="1005.13" width="25.05" height="7.63" fill="#04385f"/>
<rect x="196.40" y="1005.13" width="25.05" height="7.63" fill="#012a49"/>
<rect x="221.15" y="1005.13" width="25.05" height="7.63" fill="#000e12"/>
<rect x="97.40" y="1012.46" width="25.05" height="7.63" fill="#000e12"/>
<rect x="122.15" y="1012.46" width="25.05" height="7.63" fill="#000e12"/>
<rect x="146.90" y="1012.46" width="25.05" height="7.63" fill="#1c1c14"/>
<rect x="171.65" y="1012.46" width="25.05" height="7.63" fill="#00121d"/>
<rect x="196.40" y="1012.46" width="25.05" height="7.63" fill="#000e12"/>
<rect x="221.15" y="1012.46" width="25.05" height="7.63" fill="#000e12"/>
<rect x="97.40" y="1019.79" width="25.05" height="7.63" fill="#001e33"/>
<rect x="122.15" y="1019.79" width="25.05" height="7.63" fill="#000e12"/>
<rect x="146.90" y="1019.79" width="25.05" height="7.63" fill="#000e12"/>
<rect x="171.65" y="1019.79" width="25.05" height="7.63" fill="#001e33"/>
<rect x="196.40" y="1019.79" width="25.05" height="7.63" fill="#000e12"/>
<rect x="221.15" y="1019.79" width="25.05" height="7.63" fill="#000e12"/>
<rect x="97.40" y="1027.11" width="25.05" height="7.63" fill="#012a49"/>
<rect x="122.15" y="1027.11" width="25.05" height="7.63" fill="#242418"/>
<rect x="146.90" y="1027.11" width="25.05" height="7.63" fill="#242418"/>
<rect x="171.65" y="1027.11" width="25.05" height="7.63" fill="#000e12"/>
<rect x="196.40" y="1027.11" width="25.05" height="7.63" fill="#141414"/>
<rect x="221.15" y="1027.11" width="25.05" height="7.63" fill="#000e12"/>
<rect x="97.40" y="1034.44" width="25.05" height="7.63" fill="#5a5a20"/>
<rect x="122.15" y="1034.44" width="25.05" height="7.63" fill="#08090c"/>
<rect x="146.90" y="1034.44" width="25.05" height="7.63" fill="#043c67"/>
<rect x="171.65" y="1034.44" width="25.05" height="7.63" fill="#2c2c18"/>
<rect x="196.40" y="1034.44" width="25.05" height="7.63" fill="#141414"/>
<rect x="221.15" y="1034.44" width="25.05" height="7.63" fill="#141414"/>
<rect x="97.40" y="1041.77" width="25.05" height="7.63" fill="#f0e828"/>
<rect x="122.15" y="1041.77" width="25.05" height="7.63" fill="#a8a820"/>
<rect x="146.90" y="1041.77" width="25.05" height="7.63" fill="#8a8a20"/>
<rect x="171.65" y="1041.77" width="25.05" height="7.63" fill="#a8a820"/>
<rect x="196.40" y="1041.77" width="25.05" height="7.63" fill="#6a6a20"/>
<rect x="221.15" y="1041.77" width="25.05" height="7.63" fill="#141414"/>
<rect x="97.40" y="1049.09" width="25.05" height="7.63" fill="#6a6a20"/>
<rect x="122.15" y="1049.09" width="25.05" height="7.63" fill="#6a6a20"/>
<rect x="146.90" y="1049.09" width="25.05" height="7.63" fill="#8a8a20"/>
<rect x="171.65" y="1049.09" width="25.05" height="7.63" fill="#a8a820"/>
<rect x="196.40" y="1049.09" width="25.05" height="7.63" fill="#a8a820"/>
<rect x="221.15" y="1049.09" width="25.05" height="7.63" fill="#343418"/>
<rect x="97.40" y="1056.42" width="25.05" height="7.63" fill="#b0b020"/>
<rect x="122.15" y="1056.42" width="25.05" height="7.63" fill="#8a8a20"/>
<rect x="146.90" y="1056.42" width="25.05" height="7.63" fill="#909020"/>
<rect x="171.65" y="1056.42" width="25.05" height="7.63" fill="#6a6a20"/>
<rect x="196.40" y="1056.42" width="25.05" height="7.63" fill="#1c1c14"/>
<rect x="221.15" y="1056.42" width="25.05" height="7.63" fill="#a0a020"/>
<rect x="97.40" y="1063.75" width="25.05" height="7.63" fill="#242418"/>
<rect x="122.15" y="1063.75" width="25.05" height="7.63" fill="#c8c820"/>
<rect x="146.90" y="1063.75" width="25.05" height="7.63" fill="#c8c820"/>
<rect x="171.65" y="1063.75" width="25.05" height="7.63" fill="#b8b820"/>
<rect x="196.40" y="1063.75" width="25.05" height="7.63" fill="#a8a820"/>
<rect x="221.15" y="1063.75" width="25.05" height="7.63" fill="#a0a020"/>
<rect x="97.40" y="1071.07" width="25.05" height="7.63" fill="#a8a820"/>
<rect x="122.15" y="1071.07" width="25.05" height="7.63" fill="#d0d020"/>
<rect x="146.90" y="1071.07" width="25.05" height="7.63" fill="#c8c820"/>
<rect x="171.65" y="1071.07" width="25.05" height="7.63" fill="#b0b020"/>
<rect x="196.40" y="1071.07" width="25.05" height="7.63" fill="#c0c020"/>
<rect x="221.15" y="1071.07" width="25.05" height="7.63" fill="#a0a020"/>
</g>
<text x="247.6" y="616.5" font-size="6.5" fill="#111" textLength="19.7" lengthAdjust="spacingAndGlyphs">Rnase4</text>
<text x="247.6" y="623.8" font-size="6.5" fill="#111" textLength="15.9" lengthAdjust="spacingAndGlyphs">Igfbp4</text>
<text x="247.6" y="631.1" font-size="6.5" fill="#111" textLength="11.4" lengthAdjust="spacingAndGlyphs">Plau</text>
<text x="247.6" y="638.4" font-size="6.5" fill="#111" textLength="18.8" lengthAdjust="spacingAndGlyphs">Elimin2</text>
<text x="247.6" y="645.8" font-size="6.5" fill="#111" textLength="17.5" lengthAdjust="spacingAndGlyphs">Lman2</text>
<text x="247.6" y="653.1" font-size="6.5" fill="#111" textLength="11.4" lengthAdjust="spacingAndGlyphs">Pld4</text>
<text x="247.6" y="660.4" font-size="6.5" fill="#111" textLength="12.4" lengthAdjust="spacingAndGlyphs">Igsf8</text>
<text x="247.6" y="667.7" font-size="6.5" fill="#111" textLength="11.8" lengthAdjust="spacingAndGlyphs">Pam</text>
<text x="247.6" y="675.1" font-size="6.5" fill="#111" textLength="8.9" lengthAdjust="spacingAndGlyphs">Cfp</text>
<text x="247.6" y="682.4" font-size="6.5" fill="#111" textLength="15.9" lengthAdjust="spacingAndGlyphs">Mfge8</text>
<text x="247.6" y="689.7" font-size="6.5" fill="#111" textLength="11.8" lengthAdjust="spacingAndGlyphs">Cst3</text>
<text x="247.6" y="697.1" font-size="6.5" fill="#111" textLength="16.2" lengthAdjust="spacingAndGlyphs">Clstn1</text>
<text x="247.6" y="704.4" font-size="6.5" fill="#111" textLength="13.7" lengthAdjust="spacingAndGlyphs">Dag1</text>
<text x="247.6" y="711.7" font-size="6.5" fill="#111" textLength="7.6" lengthAdjust="spacingAndGlyphs">Lpl</text>
<text x="247.6" y="719" font-size="6.5" fill="#111" textLength="13.7" lengthAdjust="spacingAndGlyphs">Csf1r</text>
<text x="247.6" y="726.4" font-size="6.5" fill="#111" textLength="11.9" lengthAdjust="spacingAndGlyphs">Lyz2</text>
<text x="247.6" y="733.7" font-size="6.5" fill="#111" textLength="21.3" lengthAdjust="spacingAndGlyphs">Adam15</text>
<text x="247.6" y="741" font-size="6.5" fill="#111" textLength="11.1" lengthAdjust="spacingAndGlyphs">Lfng</text>
<text x="247.6" y="748.3" font-size="6.5" fill="#111" textLength="12.4" lengthAdjust="spacingAndGlyphs">Lcp1</text>
<text x="247.6" y="755.7" font-size="6.5" fill="#111" textLength="13.7" lengthAdjust="spacingAndGlyphs">Capg</text>
<text x="247.6" y="763" font-size="6.5" fill="#111" textLength="13.4" lengthAdjust="spacingAndGlyphs">Eno1</text>
<text x="247.6" y="770.3" font-size="6.5" fill="#111" textLength="16.9" lengthAdjust="spacingAndGlyphs">Lgals3</text>
<text x="247.6" y="777.6" font-size="6.5" fill="#111" textLength="10.5" lengthAdjust="spacingAndGlyphs">Gsn</text>
<text x="247.6" y="785" font-size="6.5" fill="#111" textLength="14.9" lengthAdjust="spacingAndGlyphs">CtsL1</text>
<text x="247.6" y="792.3" font-size="6.5" fill="#111" textLength="12.7" lengthAdjust="spacingAndGlyphs">CtsC</text>
<text x="247.6" y="799.6" font-size="6.5" fill="#111" textLength="13.7" lengthAdjust="spacingAndGlyphs">Cd14</text>
<text x="247.6" y="807" font-size="6.5" fill="#111" textLength="11.4" lengthAdjust="spacingAndGlyphs">Ccl9</text>
<text x="247.6" y="814.3" font-size="6.5" fill="#111" textLength="13.4" lengthAdjust="spacingAndGlyphs">Spp1</text>
<text x="247.6" y="821.6" font-size="6.5" fill="#111" textLength="14.6" lengthAdjust="spacingAndGlyphs">Aplp2</text>
<text x="247.6" y="828.9" font-size="6.5" fill="#111" textLength="16.2" lengthAdjust="spacingAndGlyphs">H2-K1</text>
<text x="247.6" y="836.3" font-size="6.5" fill="#111" textLength="17.2" lengthAdjust="spacingAndGlyphs">Lamc1</text>
<text x="247.6" y="843.6" font-size="6.5" fill="#111" textLength="10.2" lengthAdjust="spacingAndGlyphs">App</text>
<text x="247.6" y="850.9" font-size="6.5" fill="#111" textLength="16.5" lengthAdjust="spacingAndGlyphs">H2-D1</text>
<text x="247.6" y="858.2" font-size="6.5" fill="#111" textLength="12.4" lengthAdjust="spacingAndGlyphs">H2-L</text>
<text x="247.6" y="865.6" font-size="6.5" fill="#111" textLength="9.5" lengthAdjust="spacingAndGlyphs">Ldlr</text>
<text x="247.6" y="872.9" font-size="6.5" fill="#111" textLength="9.5" lengthAdjust="spacingAndGlyphs">Grn</text>
<text x="247.6" y="880.2" font-size="6.5" fill="#111" textLength="12.4" lengthAdjust="spacingAndGlyphs">CtsS</text>
<text x="247.6" y="887.5" font-size="6.5" fill="#111" textLength="7.3" lengthAdjust="spacingAndGlyphs">C3</text>
<text x="247.6" y="894.9" font-size="6.5" fill="#111" textLength="12.4" lengthAdjust="spacingAndGlyphs">CtsB</text>
<text x="247.6" y="902.2" font-size="6.5" fill="#111" textLength="13.7" lengthAdjust="spacingAndGlyphs">Gusb</text>
<text x="247.6" y="909.5" font-size="6.5" fill="#111" textLength="17.5" lengthAdjust="spacingAndGlyphs">Spink5</text>
<text x="247.6" y="916.9" font-size="6.5" fill="#111" textLength="12.4" lengthAdjust="spacingAndGlyphs">CtsA</text>
<text x="247.6" y="924.2" font-size="6.5" fill="#111" textLength="11.8" lengthAdjust="spacingAndGlyphs">Ppt1</text>
<text x="247.6" y="931.5" font-size="6.5" fill="#111" textLength="14.3" lengthAdjust="spacingAndGlyphs">Lgmn</text>
<text x="247.6" y="938.8" font-size="6.5" fill="#111" textLength="13" lengthAdjust="spacingAndGlyphs">Psap</text>
<text x="247.6" y="946.2" font-size="6.5" fill="#111" textLength="12.7" lengthAdjust="spacingAndGlyphs">CtsD</text>
<text x="247.6" y="953.5" font-size="6.5" fill="#111" textLength="12.1" lengthAdjust="spacingAndGlyphs">CtsZ</text>
<text x="247.6" y="960.8" font-size="6.5" fill="#111" textLength="21.3" lengthAdjust="spacingAndGlyphs">Rnaset2</text>
<text x="247.6" y="968.1" font-size="6.5" fill="#111" textLength="11.8" lengthAdjust="spacingAndGlyphs">Sdf4</text>
<text x="247.6" y="975.5" font-size="6.5" fill="#111" textLength="14.6" lengthAdjust="spacingAndGlyphs">Plod1</text>
<text x="247.6" y="982.8" font-size="6.5" fill="#111" textLength="16.5" lengthAdjust="spacingAndGlyphs">Napsa</text>
<text x="247.6" y="990.1" font-size="6.5" fill="#111" textLength="16.5" lengthAdjust="spacingAndGlyphs">Qsox1</text>
<text x="247.6" y="997.4" font-size="6.5" fill="#111" textLength="16.5" lengthAdjust="spacingAndGlyphs">Nucb1</text>
<text x="247.6" y="1004.8" font-size="6.5" fill="#111" textLength="14.6" lengthAdjust="spacingAndGlyphs">Ecm1</text>
<text x="247.6" y="1012.1" font-size="6.5" fill="#111" textLength="16.5" lengthAdjust="spacingAndGlyphs">Nucb2</text>
<text x="247.6" y="1019.4" font-size="6.5" fill="#111" textLength="21.3" lengthAdjust="spacingAndGlyphs">Atp6ap1</text>
<text x="247.6" y="1026.8" font-size="6.5" fill="#111" textLength="11.8" lengthAdjust="spacingAndGlyphs">B2m</text>
<text x="247.6" y="1034.1" font-size="6.5" fill="#111" textLength="23.2" lengthAdjust="spacingAndGlyphs">Lgals3bp</text>
<text x="247.6" y="1041.4" font-size="6.5" fill="#111" textLength="18.8" lengthAdjust="spacingAndGlyphs">Gpnmb</text>
<text x="247.6" y="1048.7" font-size="6.5" fill="#111" textLength="17.5" lengthAdjust="spacingAndGlyphs">Cxcl10</text>
<text x="247.6" y="1056.1" font-size="6.5" fill="#111" textLength="11.4" lengthAdjust="spacingAndGlyphs">Ccl4</text>
<text x="247.6" y="1063.4" font-size="6.5" fill="#111" textLength="22.9" lengthAdjust="spacingAndGlyphs">Serpine1</text>
<text x="247.6" y="1070.7" font-size="6.5" fill="#111" textLength="11.4" lengthAdjust="spacingAndGlyphs">Ccl2</text>
<text x="247.6" y="1078" font-size="6.5" fill="#111" textLength="11.1" lengthAdjust="spacingAndGlyphs">Il1rn</text>
<text x="106.3" y="1091.4" font-size="10.2" text-anchor="middle" fill="#222">3</text>
<text x="132.2" y="1091.4" font-size="10.2" text-anchor="middle" fill="#222">8</text>
<text x="158.2" y="1091.4" font-size="10.2" text-anchor="middle" fill="#222">19</text>
<text x="181.1" y="1091.4" font-size="10.2" text-anchor="middle" fill="#222">4</text>
<text x="207.9" y="1091.4" font-size="10.2" text-anchor="middle" fill="#222">8</text>
<text x="233.8" y="1091.4" font-size="10.2" text-anchor="middle" fill="#222">20</text>
<text x="258.6" y="1091.4" font-size="10.2" text-anchor="middle" fill="#222">Hrs</text>
<line x1="101.2" y1="582.5" x2="171.1" y2="582.5" stroke="#111" stroke-width="1.3" />
<line x1="178.3" y1="582.5" x2="243.6" y2="582.5" stroke="#111" stroke-width="1.3" />
<text x="137.6" y="579" font-size="11.3" text-anchor="middle" fill="#111" textLength="18.6" lengthAdjust="spacingAndGlyphs">LPS</text>
<text x="210.2" y="579" font-size="11.3" text-anchor="middle" fill="#111" textLength="20.8" lengthAdjust="spacingAndGlyphs">STm</text>
<defs><linearGradient id="tg" x1="0" x2="1" y1="0" y2="0"><stop offset="0" stop-color="#fff"/><stop offset="0.35" stop-color="#e0e0e0"/><stop offset="1" stop-color="#111"/></linearGradient></defs>
<path d="M101.2 607.8 L170.6 586.4 L170.6 607.8 Z" fill="url(#tg)" stroke="#111" stroke-width="0.9"/>
<path d="M174.4 607.8 L243.6 586.4 L243.6 607.8 Z" fill="url(#tg)" stroke="#111" stroke-width="0.9"/>
<text x="255.4" y="608.4" font-size="10.4" fill="#111" transform="rotate(-90 255.4 608.4)">Time</text>
<text x="47.9" y="803.2" font-size="20.5" text-anchor="middle" fill="#111" textLength="157" lengthAdjust="spacingAndGlyphs" transform="rotate(-90 47.9 803.2)">Secreted proteins</text>
<circle cx="43.9" cy="680.2" r="21.4" fill="#e9e9e9" stroke="#8a8a8a" stroke-width="0.7"/>
<rect x="35.8" y="675.0" width="1.1" height="1.1" fill="#444"/>
<rect x="38.7" y="678.6" width="1.1" height="1.1" fill="#444"/>
<rect x="43.0" y="672.8" width="1.1" height="1.1" fill="#444"/>
<rect x="42.3" y="682.2" width="1.1" height="1.1" fill="#444"/>
<rect x="45.2" y="687.3" width="1.1" height="1.1" fill="#444"/>
<rect x="49.6" y="685.1" width="1.1" height="1.1" fill="#444"/>
<defs><linearGradient id="zg" x1="0" x2="1" y1="0" y2="0"><stop offset="0" stop-color="#2a62b4"/><stop offset="0.18" stop-color="#1d4a86"/><stop offset="0.38" stop-color="#0b1a30"/><stop offset="0.5" stop-color="#0e0e0e"/><stop offset="0.62" stop-color="#2a2a10"/><stop offset="0.8" stop-color="#a8a218"/><stop offset="1" stop-color="#f4ec14"/></linearGradient></defs>
<rect x="303.5" y="1031" width="57.6" height="25.2" fill="url(#zg)" stroke="#000" stroke-width="1.2"/>
<line x1="316" y1="1058.2" x2="316" y2="1062.6" stroke="#222" stroke-width="1" />
<text x="316" y="1077.6" font-size="9.6" text-anchor="middle" fill="#222">−2</text>
<line x1="332.4" y1="1058.2" x2="332.4" y2="1062.6" stroke="#222" stroke-width="1" />
<text x="332.4" y="1077.6" font-size="9.6" text-anchor="middle" fill="#222">0</text>
<line x1="349" y1="1058.2" x2="349" y2="1062.6" stroke="#222" stroke-width="1" />
<text x="349" y="1077.6" font-size="9.6" text-anchor="middle" fill="#222">2</text>
<text x="331.2" y="1093" font-size="9.6" text-anchor="middle" fill="#222" textLength="32" lengthAdjust="spacingAndGlyphs">Z−Score</text>
<path d="M95.0 613.2H87.6V620.5H95.0M87.6 616.8H80.9V627.8H95.0M95.0 635.1H90.1V642.5H95.0M90.1 638.8H89.5V649.8H95.0M95.0 657.1H90.6V664.4H95.0M89.5 644.3H87.6V660.8H90.6M87.6 652.5H86.4V671.8H95.0M95.0 679.1H90.1V686.4H95.0M95.0 693.8H91.3V701.1H95.0M90.1 682.8H87.3V697.4H91.3M86.4 662.2H85.5V690.1H87.3M95.0 708.4H90.1V715.7H95.0M95.0 723.1H91.3V730.4H95.0M90.1 712.1H87.0V726.7H91.3M85.5 676.1H84.2V719.4H87.0M84.2 697.8H82.7V737.7H95.0M80.9 622.3H78.0V717.7H82.7M95.0 745.0H91.0V752.4H95.0M91.0 748.7H89.8V759.7H95.0M89.8 754.2H88.3V767.0H95.0M88.3 760.6H86.4V774.3H95.0M95.0 781.7H88.3V789.0H95.0M86.4 767.5H81.5V785.3H88.3M95.0 796.3H87.5V803.7H95.0M87.5 800.0H85.2V811.0H95.0M95.0 818.3H90.7V825.6H95.0M90.7 822.0H87.0V833.0H95.0M95.0 840.3H91.5V847.6H95.0M95.0 854.9H89.8V862.3H95.0M91.5 844.0H87.8V858.6H89.8M87.0 827.5H85.5V851.3H87.8M85.2 805.5H83.4V839.4H85.5M81.5 776.4H79.6V822.4H83.4M95.0 869.6H89.0V876.9H95.0M89.0 873.3H87.5V884.2H95.0M95.0 891.6H90.5V898.9H95.0M95.0 906.2H90.5V913.6H95.0M90.5 895.2H89.5V909.9H90.5M89.5 902.6H87.5V920.9H95.0M95.0 928.2H90.0V935.5H95.0M95.0 942.9H90.5V950.2H95.0M90.0 931.9H88.0V946.5H90.5M87.5 911.7H86.2V939.2H88.0M87.5 878.8H84.6V925.5H86.2M95.0 957.5H89.5V964.8H95.0M95.0 972.2H89.0V979.5H95.0M89.5 961.2H87.5V975.8H89.0M95.0 986.8H90.0V994.1H95.0M90.0 990.5H88.5V1001.5H95.0M95.0 1008.8H90.0V1016.1H95.0M95.0 1023.5H91.0V1030.8H95.0M90.0 1012.5H88.0V1027.1H91.0M88.5 996.0H86.5V1019.8H88.0M87.5 968.5H84.2V1007.9H86.5M84.6 902.1H82.6V988.2H84.2M82.6 945.1H81.4V1038.1H95.0M79.6 799.4H79.0V991.6H81.4M78.0 670.0H72.6V895.5H79.0M95.0 1045.4H81.9V1052.8H95.0M81.9 1049.1H78.8V1060.1H95.0M95.0 1067.4H87.5V1074.7H95.0M78.8 1054.6H76.9V1071.1H87.5M72.6 782.8H59.8V1062.8H76.9" fill="none" stroke="#111" stroke-width="1.05"/>
<path d="M293.7 698.3H313.5M293.7 698.3V906.8M278.4 778.3H286.3V791.7H278.4M286.3 785H293.7M279.2 868.4H286.8V955H279.2M286.8 906.8H293.7" fill="none" stroke="#555" stroke-width="1"/>
<ellipse cx="457.6" cy="701.7" rx="141.2" ry="116.2" fill="none" stroke="#333" stroke-width="1.25" stroke-dasharray="6 4.8"/>
<line x1="410" y1="622" x2="434.4" y2="687.5" stroke="#35597a" stroke-opacity="0.39" stroke-width="2.46"/>
<line x1="557.6" y1="649.5" x2="506.2" y2="671" stroke="#35597a" stroke-opacity="0.55" stroke-width="3.81"/>
<line x1="506.2" y1="671" x2="434.4" y2="687.5" stroke="#35597a" stroke-opacity="0.55" stroke-width="3.81"/>
<line x1="506.2" y1="671" x2="461.4" y2="712.2" stroke="#35597a" stroke-opacity="0.39" stroke-width="2.46"/>
<line x1="506.2" y1="671" x2="502.6" y2="732" stroke="#35597a" stroke-opacity="0.33" stroke-width="2.19"/>
<line x1="506.2" y1="671" x2="472.4" y2="758.1" stroke="#35597a" stroke-opacity="0.33" stroke-width="2.19"/>
<line x1="506.2" y1="671" x2="434.4" y2="758.1" stroke="#35597a" stroke-opacity="0.28" stroke-width="1.92"/>
<line x1="388" y1="686.9" x2="434.4" y2="687.5" stroke="#35597a" stroke-opacity="0.77" stroke-width="4.89"/>
<line x1="388" y1="686.9" x2="380.8" y2="735.6" stroke="#35597a" stroke-opacity="0.44" stroke-width="2.46"/>
<line x1="388" y1="686.9" x2="461.4" y2="712.2" stroke="#35597a" stroke-opacity="0.39" stroke-width="2.46"/>
<line x1="388" y1="686.9" x2="434.4" y2="758.1" stroke="#35597a" stroke-opacity="0.39" stroke-width="2.46"/>
<line x1="388" y1="686.9" x2="472.4" y2="758.1" stroke="#35597a" stroke-opacity="0.44" stroke-width="2.73"/>
<line x1="434.4" y1="687.5" x2="461.4" y2="712.2" stroke="#35597a" stroke-opacity="0.83" stroke-width="4.89"/>
<line x1="434.4" y1="687.5" x2="502.6" y2="732" stroke="#35597a" stroke-opacity="0.77" stroke-width="4.89"/>
<line x1="434.4" y1="687.5" x2="472.4" y2="758.1" stroke="#35597a" stroke-opacity="0.77" stroke-width="4.62"/>
<line x1="434.4" y1="687.5" x2="434.4" y2="758.1" stroke="#35597a" stroke-opacity="0.55" stroke-width="3.27"/>
<line x1="434.4" y1="687.5" x2="380.8" y2="735.6" stroke="#35597a" stroke-opacity="0.50" stroke-width="3.00"/>
<line x1="434.4" y1="687.5" x2="375.3" y2="769.1" stroke="#35597a" stroke-opacity="0.50" stroke-width="3.00"/>
<line x1="461.4" y1="712.2" x2="502.6" y2="732" stroke="#35597a" stroke-opacity="0.77" stroke-width="4.62"/>
<line x1="461.4" y1="712.2" x2="472.4" y2="758.1" stroke="#35597a" stroke-opacity="0.83" stroke-width="5.16"/>
<line x1="461.4" y1="712.2" x2="434.4" y2="758.1" stroke="#35597a" stroke-opacity="0.55" stroke-width="3.27"/>
<line x1="461.4" y1="712.2" x2="380.8" y2="735.6" stroke="#35597a" stroke-opacity="0.39" stroke-width="2.46"/>
<line x1="461.4" y1="712.2" x2="375.3" y2="769.1" stroke="#35597a" stroke-opacity="0.39" stroke-width="2.46"/>
<line x1="380.8" y1="735.6" x2="375.3" y2="769.1" stroke="#35597a" stroke-opacity="0.83" stroke-width="4.89"/>
<line x1="380.8" y1="735.6" x2="434.4" y2="758.1" stroke="#35597a" stroke-opacity="0.39" stroke-width="2.46"/>
<line x1="380.8" y1="735.6" x2="472.4" y2="758.1" stroke="#35597a" stroke-opacity="0.33" stroke-width="2.19"/>
<line x1="380.8" y1="735.6" x2="502.6" y2="732" stroke="#35597a" stroke-opacity="0.33" stroke-width="2.19"/>
<line x1="375.3" y1="769.1" x2="434.4" y2="758.1" stroke="#35597a" stroke-opacity="0.50" stroke-width="3.27"/>
<line x1="375.3" y1="769.1" x2="472.4" y2="758.1" stroke="#35597a" stroke-opacity="0.39" stroke-width="2.46"/>
<line x1="375.3" y1="769.1" x2="502.6" y2="732" stroke="#35597a" stroke-opacity="0.33" stroke-width="2.19"/>
<line x1="434.4" y1="758.1" x2="472.4" y2="758.1" stroke="#35597a" stroke-opacity="0.61" stroke-width="3.81"/>
<line x1="434.4" y1="758.1" x2="502.6" y2="732" stroke="#35597a" stroke-opacity="0.39" stroke-width="2.46"/>
<line x1="472.4" y1="758.1" x2="502.6" y2="732" stroke="#35597a" stroke-opacity="0.72" stroke-width="4.35"/>
<ellipse cx="410" cy="622" rx="13.4" ry="4.7" fill="#fcc419" stroke="#111" stroke-width="1.2"/>
<ellipse cx="484.2" cy="643.5" rx="13.4" ry="4.7" fill="#fcc419" stroke="#111" stroke-width="1.2"/>
<ellipse cx="557.6" cy="649.5" rx="13.4" ry="4.7" fill="#fcc419" stroke="#111" stroke-width="1.2"/>
<ellipse cx="506.2" cy="671" rx="13.4" ry="4.7" fill="#fcc419" stroke="#111" stroke-width="1.2"/>
<ellipse cx="388" cy="686.9" rx="13.4" ry="4.7" fill="#fcc419" stroke="#111" stroke-width="1.2"/>
<ellipse cx="434.4" cy="687.5" rx="13.4" ry="4.7" fill="#fcc419" stroke="#111" stroke-width="1.2"/>
<ellipse cx="545.3" cy="699" rx="13.4" ry="4.7" fill="#fcc419" stroke="#111" stroke-width="1.2"/>
<ellipse cx="461.4" cy="712.2" rx="13.4" ry="4.7" fill="#fcc419" stroke="#111" stroke-width="1.2"/>
<ellipse cx="502.6" cy="732" rx="13.4" ry="4.7" fill="#fcc419" stroke="#111" stroke-width="1.2"/>
<ellipse cx="380.8" cy="735.6" rx="13.4" ry="4.7" fill="#fcc419" stroke="#111" stroke-width="1.2"/>
<ellipse cx="535.6" cy="755.4" rx="13.4" ry="4.7" fill="#fcc419" stroke="#111" stroke-width="1.2"/>
<ellipse cx="375.3" cy="769.1" rx="13.4" ry="4.7" fill="#fcc419" stroke="#111" stroke-width="1.2"/>
<ellipse cx="434.4" cy="758.1" rx="13.4" ry="4.7" fill="#fcc419" stroke="#111" stroke-width="1.2"/>
<ellipse cx="472.4" cy="758.1" rx="13.4" ry="4.7" fill="#fcc419" stroke="#111" stroke-width="1.2"/>
<text x="409.1" y="614.6" font-size="9.4" text-anchor="middle" fill="#222" textLength="19.7" lengthAdjust="spacingAndGlyphs">GusB</text>
<text x="484.8" y="636.1" font-size="9.4" text-anchor="middle" fill="#222" textLength="24.1" lengthAdjust="spacingAndGlyphs">Spink5</text>
<text x="557.6" y="641.6" font-size="9.4" text-anchor="middle" fill="#222" textLength="13.2" lengthAdjust="spacingAndGlyphs">Grn</text>
<text x="505.4" y="663.1" font-size="9.4" text-anchor="middle" fill="#222" textLength="18" lengthAdjust="spacingAndGlyphs">Psap</text>
<text x="388.5" y="677.9" font-size="9.4" text-anchor="middle" fill="#222" textLength="17.1" lengthAdjust="spacingAndGlyphs">CtsA</text>
<text x="440.8" y="677.4" font-size="9.4" text-anchor="middle" fill="#222" textLength="17.5" lengthAdjust="spacingAndGlyphs">CtsD</text>
<text x="543.9" y="692.5" font-size="9.4" text-anchor="middle" fill="#222" textLength="10.1" lengthAdjust="spacingAndGlyphs">C3</text>
<text x="464" y="699.9" font-size="9.4" text-anchor="middle" fill="#222" textLength="17.1" lengthAdjust="spacingAndGlyphs">CtsB</text>
<text x="517.2" y="724.9" font-size="9.4" text-anchor="middle" fill="#222" textLength="20.6" lengthAdjust="spacingAndGlyphs">CtsL1</text>
<text x="366.5" y="729.1" font-size="9.4" text-anchor="middle" fill="#222" textLength="16.7" lengthAdjust="spacingAndGlyphs">CtsZ</text>
<text x="537" y="747.5" font-size="9.4" text-anchor="middle" fill="#222" textLength="16.2" lengthAdjust="spacingAndGlyphs">Ppt1</text>
<text x="355.5" y="763.4" font-size="9.4" text-anchor="middle" fill="#222" textLength="17.5" lengthAdjust="spacingAndGlyphs">CtsC</text>
<text x="434.4" y="773.1" font-size="9.4" text-anchor="middle" fill="#222" textLength="19.7" lengthAdjust="spacingAndGlyphs">Lgmn</text>
<text x="472.4" y="773.1" font-size="9.4" text-anchor="middle" fill="#222" textLength="17.1" lengthAdjust="spacingAndGlyphs">CtsS</text>
</svg></body></html>
